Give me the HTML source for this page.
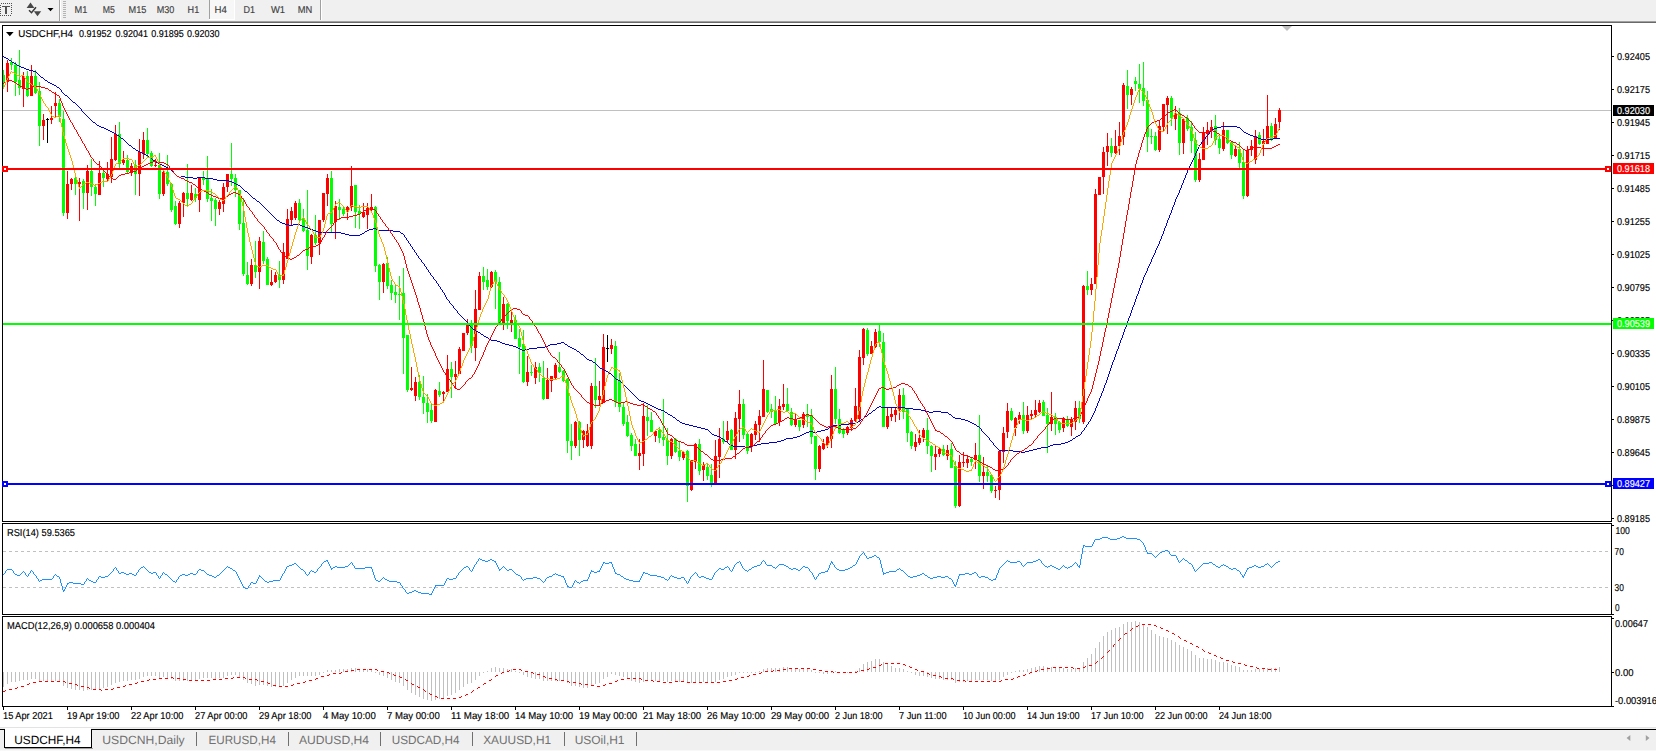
<!DOCTYPE html><html><head><meta charset="utf-8"><title>USDCHF,H4</title>
<style>html,body{margin:0;padding:0;background:#fff;overflow:hidden}svg{display:block}text{font-family:"Liberation Sans",sans-serif;text-rendering:geometricPrecision;}</style></head><body>
<svg width="1656" height="751" viewBox="0 0 1656 751">
<rect x="0" y="0" width="1656" height="751" fill="#ffffff"/>
<g id="toolbar" shape-rendering="crispEdges">
<rect x="0" y="0" width="1656" height="21" fill="#f0f0f0"/>
<rect x="0" y="21" width="1656" height="1" fill="#a0a0a0"/>
<rect x="0" y="22" width="1656" height="1" fill="#696969"/>
</g>
<g id="tb" shape-rendering="crispEdges">
<rect x="1" y="3" width="1" height="1" fill="#505050"/>
<rect x="3" y="3" width="1" height="1" fill="#505050"/>
<rect x="5" y="3" width="1" height="1" fill="#505050"/>
<rect x="7" y="3" width="1" height="1" fill="#505050"/>
<rect x="9" y="3" width="1" height="1" fill="#505050"/>
<rect x="11" y="3" width="1" height="1" fill="#505050"/>
<rect x="0" y="15" width="1" height="1" fill="#505050"/>
<rect x="2" y="15" width="1" height="1" fill="#505050"/>
<rect x="4" y="15" width="1" height="1" fill="#505050"/>
<rect x="6" y="15" width="1" height="1" fill="#505050"/>
<rect x="8" y="15" width="1" height="1" fill="#505050"/>
<rect x="10" y="15" width="1" height="1" fill="#505050"/>
<rect x="11" y="5" width="1" height="1" fill="#505050"/>
<rect x="0" y="5" width="1" height="1" fill="#505050"/>
<rect x="11" y="7" width="1" height="1" fill="#505050"/>
<rect x="0" y="7" width="1" height="1" fill="#505050"/>
<rect x="11" y="9" width="1" height="1" fill="#505050"/>
<rect x="0" y="9" width="1" height="1" fill="#505050"/>
<rect x="11" y="11" width="1" height="1" fill="#505050"/>
<rect x="0" y="11" width="1" height="1" fill="#505050"/>
<rect x="11" y="13" width="1" height="1" fill="#505050"/>
<rect x="0" y="13" width="1" height="1" fill="#505050"/>
<rect x="2" y="6" width="8" height="1" fill="#505050"/>
<rect x="5" y="6" width="2" height="8" fill="#505050"/>
<rect x="59" y="0" width="1" height="21" fill="#a0a0a0"/><rect x="60" y="0" width="1" height="21" fill="#ffffff"/>
<rect x="63" y="1" width="3" height="1" fill="#b4b4b4"/>
<rect x="63" y="3" width="3" height="1" fill="#b4b4b4"/>
<rect x="63" y="5" width="3" height="1" fill="#b4b4b4"/>
<rect x="63" y="7" width="3" height="1" fill="#b4b4b4"/>
<rect x="63" y="9" width="3" height="1" fill="#b4b4b4"/>
<rect x="63" y="11" width="3" height="1" fill="#b4b4b4"/>
<rect x="63" y="13" width="3" height="1" fill="#b4b4b4"/>
<rect x="63" y="15" width="3" height="1" fill="#b4b4b4"/>
<rect x="63" y="17" width="3" height="1" fill="#b4b4b4"/>
<rect x="320" y="0" width="1" height="20" fill="#a0a0a0"/><rect x="321" y="0" width="1" height="20" fill="#ffffff"/>
<rect x="209" y="0" width="26" height="20" fill="#f7f7f7"/>
<rect x="209" y="0" width="1" height="19" fill="#a0a0a0"/>
<rect x="209" y="19" width="26" height="1" fill="#ffffff"/><rect x="234" y="0" width="1" height="20" fill="#ffffff"/>
</g>
<path d="M30.5 2.6 L34.4 7.9 L26.6 7.9 Z" fill="#484848"/>
<path d="M33.8 11.2 L41.2 11.2 L37.5 16.2 Z" fill="#484848"/>
<path d="M29.0 10.2 L31.5 12.7 L36.0 7.2" fill="none" stroke="#383838" stroke-width="1.5"/>
<path d="M47.5 8 L53.5 8 L50.5 11.3 Z" fill="#000"/>
<text x="74.6" y="13" font-size="10" fill="#404040" stroke="#404040" stroke-width="0.15" textLength="12.8" lengthAdjust="spacingAndGlyphs">M1</text>
<text x="102.7" y="13" font-size="10" fill="#404040" stroke="#404040" stroke-width="0.15" textLength="12.1" lengthAdjust="spacingAndGlyphs">M5</text>
<text x="128.6" y="13" font-size="10" fill="#404040" stroke="#404040" stroke-width="0.15" textLength="17.8" lengthAdjust="spacingAndGlyphs">M15</text>
<text x="156.7" y="13" font-size="10" fill="#404040" stroke="#404040" stroke-width="0.15" textLength="17.6" lengthAdjust="spacingAndGlyphs">M30</text>
<text x="187.6" y="13" font-size="10" fill="#404040" stroke="#404040" stroke-width="0.15" textLength="11.6" lengthAdjust="spacingAndGlyphs">H1</text>
<text x="214.5" y="13" font-size="10" fill="#404040" stroke="#404040" stroke-width="0.15" textLength="12.3" lengthAdjust="spacingAndGlyphs">H4</text>
<text x="243.5" y="13" font-size="10" fill="#404040" stroke="#404040" stroke-width="0.15" textLength="11.5" lengthAdjust="spacingAndGlyphs">D1</text>
<text x="271" y="13" font-size="10" fill="#404040" stroke="#404040" stroke-width="0.15" textLength="14.1" lengthAdjust="spacingAndGlyphs">W1</text>
<text x="297.8" y="13" font-size="10" fill="#404040" stroke="#404040" stroke-width="0.15" textLength="14.5" lengthAdjust="spacingAndGlyphs">MN</text>
<g id="frame" shape-rendering="crispEdges" fill="#000">
<rect x="2" y="25" width="1610" height="1"/>
<rect x="2" y="25" width="1" height="682"/>
<rect x="1611" y="25" width="1" height="682"/>
<rect x="2" y="521" width="1610" height="1"/>
<rect x="2" y="523" width="1610" height="1"/>
<rect x="2" y="522" width="1610" height="1" fill="#fff"/>
<rect x="2" y="614" width="1610" height="1"/>
<rect x="2" y="616" width="1610" height="1"/>
<rect x="2" y="615" width="1610" height="1" fill="#fff"/>
<rect x="2" y="706" width="1612" height="1"/>
</g>
<g shape-rendering="crispEdges">
<rect x="3" y="110" width="1608" height="1" fill="#c0c0c0"/>
</g>
<g id="candles" shape-rendering="crispEdges">
<rect x="3" y="70" width="1" height="18" fill="#00ff00"/>
<rect x="3" y="75" width="2" height="7" fill="#00ff00"/>
<rect x="7" y="60" width="1" height="32" fill="#ff0000"/>
<rect x="6" y="63" width="3" height="19" fill="#ff0000"/>
<rect x="11" y="58" width="1" height="12" fill="#00ff00"/>
<rect x="10" y="62" width="3" height="3" fill="#00ff00"/>
<rect x="15" y="62" width="1" height="34" fill="#00ff00"/>
<rect x="14" y="65" width="3" height="17" fill="#00ff00"/>
<rect x="19" y="50" width="1" height="45" fill="#00ff00"/>
<rect x="18" y="80" width="3" height="8" fill="#00ff00"/>
<rect x="23" y="72" width="1" height="35" fill="#ff0000"/>
<rect x="22" y="76" width="3" height="13" fill="#ff0000"/>
<rect x="27" y="71" width="1" height="26" fill="#00ff00"/>
<rect x="26" y="76" width="3" height="20" fill="#00ff00"/>
<rect x="31" y="65" width="1" height="31" fill="#ff0000"/>
<rect x="30" y="76" width="3" height="20" fill="#ff0000"/>
<rect x="35" y="70" width="1" height="24" fill="#00ff00"/>
<rect x="34" y="76" width="3" height="17" fill="#00ff00"/>
<rect x="39" y="82" width="1" height="64" fill="#00ff00"/>
<rect x="38" y="91" width="3" height="35" fill="#00ff00"/>
<rect x="43" y="114" width="1" height="26" fill="#ff0000"/>
<rect x="42" y="120" width="3" height="6" fill="#ff0000"/>
<rect x="47" y="118" width="1" height="25" fill="#000000"/>
<rect x="46" y="119" width="3" height="1" fill="#000000"/>
<rect x="51" y="106" width="1" height="18" fill="#ff0000"/>
<rect x="50" y="118" width="3" height="2" fill="#ff0000"/>
<rect x="55" y="92" width="1" height="25" fill="#ff0000"/>
<rect x="54" y="103" width="3" height="3" fill="#ff0000"/>
<rect x="59" y="99" width="1" height="23" fill="#00ff00"/>
<rect x="58" y="103" width="3" height="14" fill="#00ff00"/>
<rect x="63" y="111" width="1" height="105" fill="#00ff00"/>
<rect x="62" y="119" width="3" height="94" fill="#00ff00"/>
<rect x="67" y="171" width="1" height="48" fill="#ff0000"/>
<rect x="66" y="184" width="3" height="29" fill="#ff0000"/>
<rect x="71" y="178" width="1" height="12" fill="#ff0000"/>
<rect x="70" y="179" width="3" height="5" fill="#ff0000"/>
<rect x="75" y="176" width="1" height="19" fill="#00ff00"/>
<rect x="74" y="178" width="3" height="6" fill="#00ff00"/>
<rect x="79" y="178" width="1" height="43" fill="#ff0000"/>
<rect x="78" y="182" width="3" height="2" fill="#ff0000"/>
<rect x="83" y="179" width="1" height="30" fill="#00ff00"/>
<rect x="82" y="181" width="3" height="12" fill="#00ff00"/>
<rect x="87" y="165" width="1" height="45" fill="#ff0000"/>
<rect x="86" y="171" width="3" height="22" fill="#ff0000"/>
<rect x="91" y="159" width="1" height="37" fill="#00ff00"/>
<rect x="90" y="171" width="3" height="16" fill="#00ff00"/>
<rect x="95" y="184" width="1" height="22" fill="#00ff00"/>
<rect x="94" y="187" width="3" height="7" fill="#00ff00"/>
<rect x="99" y="161" width="1" height="34" fill="#ff0000"/>
<rect x="98" y="173" width="3" height="22" fill="#ff0000"/>
<rect x="103" y="169" width="1" height="18" fill="#00ff00"/>
<rect x="102" y="173" width="3" height="5" fill="#00ff00"/>
<rect x="107" y="162" width="1" height="19" fill="#ff0000"/>
<rect x="106" y="174" width="3" height="5" fill="#ff0000"/>
<rect x="111" y="137" width="1" height="46" fill="#ff0000"/>
<rect x="110" y="159" width="3" height="18" fill="#ff0000"/>
<rect x="115" y="125" width="1" height="36" fill="#ff0000"/>
<rect x="114" y="134" width="3" height="26" fill="#ff0000"/>
<rect x="119" y="122" width="1" height="46" fill="#00ff00"/>
<rect x="118" y="134" width="3" height="30" fill="#00ff00"/>
<rect x="123" y="151" width="1" height="14" fill="#ff0000"/>
<rect x="122" y="160" width="3" height="3" fill="#ff0000"/>
<rect x="127" y="155" width="1" height="18" fill="#00ff00"/>
<rect x="126" y="160" width="3" height="12" fill="#00ff00"/>
<rect x="131" y="163" width="1" height="13" fill="#ff0000"/>
<rect x="130" y="166" width="3" height="6" fill="#ff0000"/>
<rect x="135" y="160" width="1" height="35" fill="#00ff00"/>
<rect x="134" y="165" width="3" height="9" fill="#00ff00"/>
<rect x="139" y="139" width="1" height="57" fill="#ff0000"/>
<rect x="138" y="152" width="3" height="22" fill="#ff0000"/>
<rect x="143" y="132" width="1" height="27" fill="#ff0000"/>
<rect x="142" y="140" width="3" height="14" fill="#ff0000"/>
<rect x="147" y="128" width="1" height="30" fill="#00ff00"/>
<rect x="146" y="140" width="3" height="14" fill="#00ff00"/>
<rect x="151" y="151" width="1" height="16" fill="#00ff00"/>
<rect x="150" y="153" width="3" height="13" fill="#00ff00"/>
<rect x="155" y="159" width="1" height="8" fill="#ff0000"/>
<rect x="154" y="165" width="3" height="1" fill="#ff0000"/>
<rect x="159" y="153" width="1" height="46" fill="#00ff00"/>
<rect x="158" y="165" width="3" height="29" fill="#00ff00"/>
<rect x="163" y="170" width="1" height="26" fill="#ff0000"/>
<rect x="162" y="172" width="3" height="22" fill="#ff0000"/>
<rect x="167" y="155" width="1" height="31" fill="#00ff00"/>
<rect x="166" y="172" width="3" height="12" fill="#00ff00"/>
<rect x="171" y="183" width="1" height="29" fill="#00ff00"/>
<rect x="170" y="184" width="3" height="26" fill="#00ff00"/>
<rect x="175" y="201" width="1" height="24" fill="#00ff00"/>
<rect x="174" y="206" width="3" height="18" fill="#00ff00"/>
<rect x="179" y="201" width="1" height="27" fill="#ff0000"/>
<rect x="178" y="203" width="3" height="21" fill="#ff0000"/>
<rect x="183" y="192" width="1" height="25" fill="#ff0000"/>
<rect x="182" y="193" width="3" height="10" fill="#ff0000"/>
<rect x="187" y="164" width="1" height="43" fill="#00ff00"/>
<rect x="186" y="193" width="3" height="6" fill="#00ff00"/>
<rect x="191" y="185" width="1" height="16" fill="#ff0000"/>
<rect x="190" y="193" width="3" height="7" fill="#ff0000"/>
<rect x="195" y="188" width="1" height="14" fill="#00ff00"/>
<rect x="194" y="194" width="3" height="4" fill="#00ff00"/>
<rect x="199" y="177" width="1" height="35" fill="#ff0000"/>
<rect x="198" y="178" width="3" height="22" fill="#ff0000"/>
<rect x="203" y="171" width="1" height="14" fill="#00ff00"/>
<rect x="202" y="178" width="3" height="2" fill="#00ff00"/>
<rect x="207" y="156" width="1" height="46" fill="#00ff00"/>
<rect x="206" y="178" width="3" height="21" fill="#00ff00"/>
<rect x="211" y="189" width="1" height="32" fill="#00ff00"/>
<rect x="210" y="198" width="3" height="3" fill="#00ff00"/>
<rect x="215" y="198" width="1" height="28" fill="#00ff00"/>
<rect x="214" y="200" width="3" height="9" fill="#00ff00"/>
<rect x="219" y="200" width="1" height="15" fill="#ff0000"/>
<rect x="218" y="202" width="3" height="7" fill="#ff0000"/>
<rect x="223" y="183" width="1" height="29" fill="#ff0000"/>
<rect x="222" y="187" width="3" height="17" fill="#ff0000"/>
<rect x="227" y="174" width="1" height="18" fill="#ff0000"/>
<rect x="226" y="174" width="3" height="13" fill="#ff0000"/>
<rect x="231" y="143" width="1" height="43" fill="#00ff00"/>
<rect x="230" y="174" width="3" height="5" fill="#00ff00"/>
<rect x="235" y="174" width="1" height="23" fill="#00ff00"/>
<rect x="234" y="178" width="3" height="12" fill="#00ff00"/>
<rect x="239" y="190" width="1" height="40" fill="#00ff00"/>
<rect x="238" y="190" width="3" height="34" fill="#00ff00"/>
<rect x="243" y="198" width="1" height="78" fill="#00ff00"/>
<rect x="242" y="223" width="3" height="51" fill="#00ff00"/>
<rect x="247" y="262" width="1" height="23" fill="#00ff00"/>
<rect x="246" y="275" width="3" height="9" fill="#00ff00"/>
<rect x="251" y="259" width="1" height="27" fill="#ff0000"/>
<rect x="250" y="265" width="3" height="19" fill="#ff0000"/>
<rect x="255" y="241" width="1" height="37" fill="#00ff00"/>
<rect x="254" y="265" width="3" height="7" fill="#00ff00"/>
<rect x="259" y="237" width="1" height="52" fill="#ff0000"/>
<rect x="258" y="241" width="3" height="31" fill="#ff0000"/>
<rect x="263" y="231" width="1" height="33" fill="#00ff00"/>
<rect x="262" y="242" width="3" height="19" fill="#00ff00"/>
<rect x="267" y="257" width="1" height="28" fill="#00ff00"/>
<rect x="266" y="259" width="3" height="26" fill="#00ff00"/>
<rect x="271" y="270" width="1" height="16" fill="#ff0000"/>
<rect x="270" y="282" width="3" height="3" fill="#ff0000"/>
<rect x="275" y="272" width="1" height="11" fill="#ff0000"/>
<rect x="274" y="275" width="3" height="7" fill="#ff0000"/>
<rect x="279" y="261" width="1" height="27" fill="#00ff00"/>
<rect x="278" y="275" width="3" height="5" fill="#00ff00"/>
<rect x="283" y="243" width="1" height="41" fill="#ff0000"/>
<rect x="282" y="252" width="3" height="28" fill="#ff0000"/>
<rect x="287" y="209" width="1" height="50" fill="#ff0000"/>
<rect x="286" y="219" width="3" height="40" fill="#ff0000"/>
<rect x="291" y="207" width="1" height="19" fill="#ff0000"/>
<rect x="290" y="211" width="3" height="9" fill="#ff0000"/>
<rect x="295" y="201" width="1" height="19" fill="#ff0000"/>
<rect x="294" y="203" width="3" height="15" fill="#ff0000"/>
<rect x="299" y="199" width="1" height="22" fill="#00ff00"/>
<rect x="298" y="203" width="3" height="17" fill="#00ff00"/>
<rect x="303" y="209" width="1" height="23" fill="#00ff00"/>
<rect x="302" y="218" width="3" height="13" fill="#00ff00"/>
<rect x="307" y="190" width="1" height="80" fill="#00ff00"/>
<rect x="306" y="230" width="3" height="26" fill="#00ff00"/>
<rect x="311" y="234" width="1" height="30" fill="#ff0000"/>
<rect x="310" y="235" width="3" height="22" fill="#ff0000"/>
<rect x="315" y="215" width="1" height="30" fill="#00ff00"/>
<rect x="314" y="235" width="3" height="8" fill="#00ff00"/>
<rect x="319" y="220" width="1" height="35" fill="#ff0000"/>
<rect x="318" y="220" width="3" height="23" fill="#ff0000"/>
<rect x="323" y="193" width="1" height="29" fill="#ff0000"/>
<rect x="322" y="193" width="3" height="27" fill="#ff0000"/>
<rect x="327" y="174" width="1" height="32" fill="#ff0000"/>
<rect x="326" y="178" width="3" height="16" fill="#ff0000"/>
<rect x="331" y="171" width="1" height="61" fill="#00ff00"/>
<rect x="330" y="178" width="3" height="46" fill="#00ff00"/>
<rect x="335" y="201" width="1" height="38" fill="#ff0000"/>
<rect x="334" y="206" width="3" height="16" fill="#ff0000"/>
<rect x="339" y="199" width="1" height="21" fill="#00ff00"/>
<rect x="338" y="207" width="3" height="3" fill="#00ff00"/>
<rect x="343" y="206" width="1" height="10" fill="#00ff00"/>
<rect x="342" y="209" width="3" height="5" fill="#00ff00"/>
<rect x="347" y="206" width="1" height="14" fill="#ff0000"/>
<rect x="346" y="207" width="3" height="3" fill="#ff0000"/>
<rect x="351" y="166" width="1" height="45" fill="#ff0000"/>
<rect x="350" y="186" width="3" height="21" fill="#ff0000"/>
<rect x="355" y="185" width="1" height="43" fill="#00ff00"/>
<rect x="354" y="185" width="3" height="27" fill="#00ff00"/>
<rect x="359" y="205" width="1" height="24" fill="#00ff00"/>
<rect x="358" y="211" width="3" height="3" fill="#00ff00"/>
<rect x="363" y="203" width="1" height="15" fill="#ff0000"/>
<rect x="362" y="212" width="3" height="5" fill="#ff0000"/>
<rect x="367" y="203" width="1" height="26" fill="#ff0000"/>
<rect x="366" y="208" width="3" height="7" fill="#ff0000"/>
<rect x="371" y="194" width="1" height="17" fill="#ff0000"/>
<rect x="370" y="207" width="3" height="3" fill="#ff0000"/>
<rect x="375" y="206" width="1" height="66" fill="#00ff00"/>
<rect x="374" y="207" width="3" height="59" fill="#00ff00"/>
<rect x="379" y="264" width="1" height="36" fill="#00ff00"/>
<rect x="378" y="265" width="3" height="17" fill="#00ff00"/>
<rect x="383" y="263" width="1" height="30" fill="#ff0000"/>
<rect x="382" y="264" width="3" height="18" fill="#ff0000"/>
<rect x="387" y="257" width="1" height="32" fill="#00ff00"/>
<rect x="386" y="263" width="3" height="23" fill="#00ff00"/>
<rect x="391" y="280" width="1" height="20" fill="#00ff00"/>
<rect x="390" y="285" width="3" height="8" fill="#00ff00"/>
<rect x="395" y="285" width="1" height="18" fill="#00ff00"/>
<rect x="394" y="292" width="3" height="3" fill="#00ff00"/>
<rect x="399" y="276" width="1" height="44" fill="#00ff00"/>
<rect x="398" y="294" width="3" height="1" fill="#00ff00"/>
<rect x="403" y="268" width="1" height="106" fill="#00ff00"/>
<rect x="402" y="293" width="3" height="45" fill="#00ff00"/>
<rect x="407" y="335" width="1" height="57" fill="#00ff00"/>
<rect x="406" y="335" width="3" height="55" fill="#00ff00"/>
<rect x="411" y="367" width="1" height="24" fill="#ff0000"/>
<rect x="410" y="388" width="3" height="2" fill="#ff0000"/>
<rect x="415" y="377" width="1" height="24" fill="#ff0000"/>
<rect x="414" y="382" width="3" height="14" fill="#ff0000"/>
<rect x="419" y="375" width="1" height="25" fill="#00ff00"/>
<rect x="418" y="382" width="3" height="15" fill="#00ff00"/>
<rect x="423" y="376" width="1" height="38" fill="#00ff00"/>
<rect x="422" y="397" width="3" height="6" fill="#00ff00"/>
<rect x="427" y="394" width="1" height="29" fill="#00ff00"/>
<rect x="426" y="403" width="3" height="9" fill="#00ff00"/>
<rect x="431" y="403" width="1" height="20" fill="#00ff00"/>
<rect x="430" y="410" width="3" height="11" fill="#00ff00"/>
<rect x="435" y="389" width="1" height="33" fill="#ff0000"/>
<rect x="434" y="390" width="3" height="32" fill="#ff0000"/>
<rect x="439" y="382" width="1" height="15" fill="#00ff00"/>
<rect x="438" y="391" width="3" height="4" fill="#00ff00"/>
<rect x="443" y="391" width="1" height="10" fill="#ff0000"/>
<rect x="442" y="392" width="3" height="2" fill="#ff0000"/>
<rect x="447" y="355" width="1" height="37" fill="#ff0000"/>
<rect x="446" y="369" width="3" height="23" fill="#ff0000"/>
<rect x="451" y="362" width="1" height="36" fill="#00ff00"/>
<rect x="450" y="369" width="3" height="8" fill="#00ff00"/>
<rect x="455" y="361" width="1" height="27" fill="#ff0000"/>
<rect x="454" y="374" width="3" height="3" fill="#ff0000"/>
<rect x="459" y="347" width="1" height="27" fill="#ff0000"/>
<rect x="458" y="349" width="3" height="25" fill="#ff0000"/>
<rect x="463" y="333" width="1" height="18" fill="#ff0000"/>
<rect x="462" y="333" width="3" height="18" fill="#ff0000"/>
<rect x="467" y="319" width="1" height="16" fill="#ff0000"/>
<rect x="466" y="324" width="3" height="9" fill="#ff0000"/>
<rect x="471" y="320" width="1" height="33" fill="#00ff00"/>
<rect x="470" y="323" width="3" height="23" fill="#00ff00"/>
<rect x="475" y="290" width="1" height="71" fill="#ff0000"/>
<rect x="474" y="309" width="3" height="39" fill="#ff0000"/>
<rect x="479" y="272" width="1" height="38" fill="#ff0000"/>
<rect x="478" y="276" width="3" height="34" fill="#ff0000"/>
<rect x="483" y="267" width="1" height="23" fill="#00ff00"/>
<rect x="482" y="276" width="3" height="6" fill="#00ff00"/>
<rect x="487" y="269" width="1" height="21" fill="#00ff00"/>
<rect x="486" y="280" width="3" height="7" fill="#00ff00"/>
<rect x="491" y="271" width="1" height="17" fill="#ff0000"/>
<rect x="490" y="272" width="3" height="15" fill="#ff0000"/>
<rect x="495" y="270" width="1" height="39" fill="#00ff00"/>
<rect x="494" y="272" width="3" height="10" fill="#00ff00"/>
<rect x="499" y="277" width="1" height="46" fill="#00ff00"/>
<rect x="498" y="282" width="3" height="41" fill="#00ff00"/>
<rect x="503" y="297" width="1" height="33" fill="#ff0000"/>
<rect x="502" y="304" width="3" height="19" fill="#ff0000"/>
<rect x="507" y="303" width="1" height="26" fill="#00ff00"/>
<rect x="506" y="304" width="3" height="17" fill="#00ff00"/>
<rect x="511" y="310" width="1" height="22" fill="#ff0000"/>
<rect x="510" y="320" width="3" height="3" fill="#ff0000"/>
<rect x="515" y="315" width="1" height="24" fill="#00ff00"/>
<rect x="514" y="320" width="3" height="19" fill="#00ff00"/>
<rect x="519" y="329" width="1" height="45" fill="#00ff00"/>
<rect x="518" y="338" width="3" height="9" fill="#00ff00"/>
<rect x="523" y="330" width="1" height="53" fill="#00ff00"/>
<rect x="522" y="344" width="3" height="38" fill="#00ff00"/>
<rect x="527" y="356" width="1" height="30" fill="#ff0000"/>
<rect x="526" y="372" width="3" height="10" fill="#ff0000"/>
<rect x="531" y="365" width="1" height="11" fill="#00ff00"/>
<rect x="530" y="372" width="3" height="1" fill="#00ff00"/>
<rect x="535" y="362" width="1" height="22" fill="#ff0000"/>
<rect x="534" y="367" width="3" height="11" fill="#ff0000"/>
<rect x="539" y="363" width="1" height="19" fill="#00ff00"/>
<rect x="538" y="367" width="3" height="6" fill="#00ff00"/>
<rect x="543" y="361" width="1" height="39" fill="#00ff00"/>
<rect x="542" y="378" width="3" height="21" fill="#00ff00"/>
<rect x="547" y="368" width="1" height="31" fill="#ff0000"/>
<rect x="546" y="380" width="3" height="19" fill="#ff0000"/>
<rect x="551" y="376" width="1" height="16" fill="#ff0000"/>
<rect x="550" y="376" width="3" height="5" fill="#ff0000"/>
<rect x="555" y="363" width="1" height="16" fill="#ff0000"/>
<rect x="554" y="365" width="3" height="13" fill="#ff0000"/>
<rect x="559" y="352" width="1" height="21" fill="#00ff00"/>
<rect x="558" y="367" width="3" height="5" fill="#00ff00"/>
<rect x="563" y="370" width="1" height="12" fill="#00ff00"/>
<rect x="562" y="371" width="3" height="10" fill="#00ff00"/>
<rect x="567" y="378" width="1" height="75" fill="#00ff00"/>
<rect x="566" y="379" width="3" height="62" fill="#00ff00"/>
<rect x="571" y="424" width="1" height="36" fill="#00ff00"/>
<rect x="570" y="441" width="3" height="5" fill="#00ff00"/>
<rect x="575" y="421" width="1" height="27" fill="#ff0000"/>
<rect x="574" y="422" width="3" height="24" fill="#ff0000"/>
<rect x="579" y="421" width="1" height="35" fill="#00ff00"/>
<rect x="578" y="422" width="3" height="18" fill="#00ff00"/>
<rect x="583" y="430" width="1" height="18" fill="#ff0000"/>
<rect x="582" y="431" width="3" height="9" fill="#ff0000"/>
<rect x="587" y="424" width="1" height="23" fill="#ff0000"/>
<rect x="586" y="431" width="3" height="15" fill="#ff0000"/>
<rect x="591" y="383" width="1" height="66" fill="#ff0000"/>
<rect x="590" y="386" width="3" height="60" fill="#ff0000"/>
<rect x="595" y="358" width="1" height="50" fill="#00ff00"/>
<rect x="594" y="386" width="3" height="14" fill="#00ff00"/>
<rect x="599" y="381" width="1" height="24" fill="#ff0000"/>
<rect x="598" y="396" width="3" height="4" fill="#ff0000"/>
<rect x="603" y="334" width="1" height="69" fill="#ff0000"/>
<rect x="602" y="347" width="3" height="56" fill="#ff0000"/>
<rect x="607" y="335" width="1" height="27" fill="#000000"/>
<rect x="606" y="348" width="3" height="1" fill="#000000"/>
<rect x="611" y="339" width="1" height="15" fill="#ff0000"/>
<rect x="610" y="345" width="3" height="4" fill="#ff0000"/>
<rect x="615" y="341" width="1" height="66" fill="#00ff00"/>
<rect x="614" y="346" width="3" height="56" fill="#00ff00"/>
<rect x="619" y="373" width="1" height="39" fill="#00ff00"/>
<rect x="618" y="380" width="3" height="27" fill="#00ff00"/>
<rect x="623" y="402" width="1" height="24" fill="#00ff00"/>
<rect x="622" y="407" width="3" height="17" fill="#00ff00"/>
<rect x="627" y="415" width="1" height="22" fill="#00ff00"/>
<rect x="626" y="422" width="3" height="14" fill="#00ff00"/>
<rect x="631" y="433" width="1" height="18" fill="#00ff00"/>
<rect x="630" y="435" width="3" height="11" fill="#00ff00"/>
<rect x="635" y="439" width="1" height="17" fill="#00ff00"/>
<rect x="634" y="444" width="3" height="12" fill="#00ff00"/>
<rect x="639" y="439" width="1" height="31" fill="#ff0000"/>
<rect x="638" y="453" width="3" height="3" fill="#ff0000"/>
<rect x="643" y="403" width="1" height="63" fill="#ff0000"/>
<rect x="642" y="416" width="3" height="38" fill="#ff0000"/>
<rect x="647" y="405" width="1" height="31" fill="#00ff00"/>
<rect x="646" y="417" width="3" height="4" fill="#00ff00"/>
<rect x="651" y="412" width="1" height="20" fill="#00ff00"/>
<rect x="650" y="420" width="3" height="12" fill="#00ff00"/>
<rect x="655" y="430" width="1" height="12" fill="#ff0000"/>
<rect x="654" y="431" width="3" height="5" fill="#ff0000"/>
<rect x="659" y="427" width="1" height="16" fill="#00ff00"/>
<rect x="658" y="430" width="3" height="8" fill="#00ff00"/>
<rect x="663" y="399" width="1" height="47" fill="#00ff00"/>
<rect x="662" y="437" width="3" height="3" fill="#00ff00"/>
<rect x="667" y="428" width="1" height="37" fill="#00ff00"/>
<rect x="666" y="440" width="3" height="16" fill="#00ff00"/>
<rect x="671" y="438" width="1" height="21" fill="#ff0000"/>
<rect x="670" y="439" width="3" height="17" fill="#ff0000"/>
<rect x="675" y="438" width="1" height="15" fill="#00ff00"/>
<rect x="674" y="439" width="3" height="13" fill="#00ff00"/>
<rect x="679" y="442" width="1" height="19" fill="#00ff00"/>
<rect x="678" y="451" width="3" height="6" fill="#00ff00"/>
<rect x="683" y="451" width="1" height="9" fill="#ff0000"/>
<rect x="682" y="452" width="3" height="6" fill="#ff0000"/>
<rect x="687" y="450" width="1" height="52" fill="#00ff00"/>
<rect x="686" y="451" width="3" height="35" fill="#00ff00"/>
<rect x="691" y="460" width="1" height="31" fill="#ff0000"/>
<rect x="690" y="460" width="3" height="30" fill="#ff0000"/>
<rect x="695" y="443" width="1" height="26" fill="#ff0000"/>
<rect x="694" y="444" width="3" height="18" fill="#ff0000"/>
<rect x="699" y="439" width="1" height="36" fill="#00ff00"/>
<rect x="698" y="444" width="3" height="27" fill="#00ff00"/>
<rect x="703" y="462" width="1" height="19" fill="#ff0000"/>
<rect x="702" y="465" width="3" height="5" fill="#ff0000"/>
<rect x="707" y="464" width="1" height="16" fill="#00ff00"/>
<rect x="706" y="467" width="3" height="9" fill="#00ff00"/>
<rect x="711" y="464" width="1" height="23" fill="#00ff00"/>
<rect x="710" y="475" width="3" height="9" fill="#00ff00"/>
<rect x="715" y="440" width="1" height="44" fill="#ff0000"/>
<rect x="714" y="456" width="3" height="28" fill="#ff0000"/>
<rect x="719" y="428" width="1" height="50" fill="#ff0000"/>
<rect x="718" y="439" width="3" height="18" fill="#ff0000"/>
<rect x="723" y="421" width="1" height="23" fill="#00ff00"/>
<rect x="722" y="439" width="3" height="3" fill="#00ff00"/>
<rect x="727" y="421" width="1" height="21" fill="#ff0000"/>
<rect x="726" y="431" width="3" height="9" fill="#ff0000"/>
<rect x="731" y="429" width="1" height="21" fill="#00ff00"/>
<rect x="730" y="430" width="3" height="20" fill="#00ff00"/>
<rect x="735" y="412" width="1" height="47" fill="#ff0000"/>
<rect x="734" y="418" width="3" height="32" fill="#ff0000"/>
<rect x="739" y="390" width="1" height="52" fill="#ff0000"/>
<rect x="738" y="404" width="3" height="15" fill="#ff0000"/>
<rect x="743" y="399" width="1" height="40" fill="#00ff00"/>
<rect x="742" y="404" width="3" height="31" fill="#00ff00"/>
<rect x="747" y="433" width="1" height="21" fill="#00ff00"/>
<rect x="746" y="434" width="3" height="17" fill="#00ff00"/>
<rect x="751" y="433" width="1" height="19" fill="#ff0000"/>
<rect x="750" y="434" width="3" height="12" fill="#ff0000"/>
<rect x="755" y="421" width="1" height="19" fill="#ff0000"/>
<rect x="754" y="424" width="3" height="11" fill="#ff0000"/>
<rect x="759" y="410" width="1" height="32" fill="#ff0000"/>
<rect x="758" y="416" width="3" height="9" fill="#ff0000"/>
<rect x="763" y="360" width="1" height="57" fill="#ff0000"/>
<rect x="762" y="389" width="3" height="28" fill="#ff0000"/>
<rect x="767" y="390" width="1" height="23" fill="#00ff00"/>
<rect x="766" y="390" width="3" height="22" fill="#00ff00"/>
<rect x="771" y="404" width="1" height="14" fill="#00ff00"/>
<rect x="770" y="409" width="3" height="3" fill="#00ff00"/>
<rect x="775" y="396" width="1" height="28" fill="#00ff00"/>
<rect x="774" y="411" width="3" height="13" fill="#00ff00"/>
<rect x="779" y="399" width="1" height="27" fill="#ff0000"/>
<rect x="778" y="406" width="3" height="16" fill="#ff0000"/>
<rect x="783" y="384" width="1" height="26" fill="#ff0000"/>
<rect x="782" y="404" width="3" height="3" fill="#ff0000"/>
<rect x="787" y="388" width="1" height="24" fill="#00ff00"/>
<rect x="786" y="404" width="3" height="7" fill="#00ff00"/>
<rect x="791" y="408" width="1" height="18" fill="#00ff00"/>
<rect x="790" y="412" width="3" height="13" fill="#00ff00"/>
<rect x="795" y="414" width="1" height="13" fill="#ff0000"/>
<rect x="794" y="420" width="3" height="5" fill="#ff0000"/>
<rect x="799" y="420" width="1" height="11" fill="#00ff00"/>
<rect x="798" y="420" width="3" height="7" fill="#00ff00"/>
<rect x="803" y="412" width="1" height="16" fill="#ff0000"/>
<rect x="802" y="414" width="3" height="11" fill="#ff0000"/>
<rect x="807" y="404" width="1" height="23" fill="#00ff00"/>
<rect x="806" y="414" width="3" height="3" fill="#00ff00"/>
<rect x="811" y="409" width="1" height="35" fill="#00ff00"/>
<rect x="810" y="415" width="3" height="22" fill="#00ff00"/>
<rect x="815" y="436" width="1" height="44" fill="#00ff00"/>
<rect x="814" y="436" width="3" height="33" fill="#00ff00"/>
<rect x="819" y="445" width="1" height="27" fill="#ff0000"/>
<rect x="818" y="446" width="3" height="23" fill="#ff0000"/>
<rect x="823" y="439" width="1" height="11" fill="#ff0000"/>
<rect x="822" y="443" width="3" height="6" fill="#ff0000"/>
<rect x="827" y="436" width="1" height="12" fill="#ff0000"/>
<rect x="826" y="437" width="3" height="8" fill="#ff0000"/>
<rect x="831" y="375" width="1" height="73" fill="#ff0000"/>
<rect x="830" y="389" width="3" height="50" fill="#ff0000"/>
<rect x="835" y="367" width="1" height="57" fill="#00ff00"/>
<rect x="834" y="389" width="3" height="30" fill="#00ff00"/>
<rect x="839" y="409" width="1" height="25" fill="#00ff00"/>
<rect x="838" y="419" width="3" height="14" fill="#00ff00"/>
<rect x="843" y="428" width="1" height="10" fill="#00ff00"/>
<rect x="842" y="429" width="3" height="5" fill="#00ff00"/>
<rect x="847" y="426" width="1" height="9" fill="#ff0000"/>
<rect x="846" y="427" width="3" height="6" fill="#ff0000"/>
<rect x="851" y="418" width="1" height="13" fill="#ff0000"/>
<rect x="850" y="420" width="3" height="8" fill="#ff0000"/>
<rect x="855" y="388" width="1" height="34" fill="#ff0000"/>
<rect x="854" y="406" width="3" height="15" fill="#ff0000"/>
<rect x="859" y="350" width="1" height="72" fill="#ff0000"/>
<rect x="858" y="357" width="3" height="62" fill="#ff0000"/>
<rect x="863" y="328" width="1" height="37" fill="#ff0000"/>
<rect x="862" y="329" width="3" height="29" fill="#ff0000"/>
<rect x="867" y="328" width="1" height="28" fill="#00ff00"/>
<rect x="866" y="330" width="3" height="24" fill="#00ff00"/>
<rect x="871" y="341" width="1" height="13" fill="#ff0000"/>
<rect x="870" y="346" width="3" height="8" fill="#ff0000"/>
<rect x="875" y="329" width="1" height="19" fill="#ff0000"/>
<rect x="874" y="332" width="3" height="15" fill="#ff0000"/>
<rect x="879" y="324" width="1" height="23" fill="#00ff00"/>
<rect x="878" y="331" width="3" height="11" fill="#00ff00"/>
<rect x="883" y="333" width="1" height="94" fill="#00ff00"/>
<rect x="882" y="342" width="3" height="85" fill="#00ff00"/>
<rect x="887" y="408" width="1" height="21" fill="#ff0000"/>
<rect x="886" y="416" width="3" height="11" fill="#ff0000"/>
<rect x="891" y="408" width="1" height="13" fill="#ff0000"/>
<rect x="890" y="414" width="3" height="3" fill="#ff0000"/>
<rect x="895" y="408" width="1" height="14" fill="#ff0000"/>
<rect x="894" y="410" width="3" height="5" fill="#ff0000"/>
<rect x="899" y="389" width="1" height="31" fill="#ff0000"/>
<rect x="898" y="395" width="3" height="15" fill="#ff0000"/>
<rect x="903" y="388" width="1" height="31" fill="#00ff00"/>
<rect x="902" y="395" width="3" height="17" fill="#00ff00"/>
<rect x="907" y="408" width="1" height="34" fill="#00ff00"/>
<rect x="906" y="408" width="3" height="25" fill="#00ff00"/>
<rect x="911" y="431" width="1" height="18" fill="#00ff00"/>
<rect x="910" y="432" width="3" height="14" fill="#00ff00"/>
<rect x="915" y="434" width="1" height="17" fill="#ff0000"/>
<rect x="914" y="442" width="3" height="5" fill="#ff0000"/>
<rect x="919" y="430" width="1" height="15" fill="#ff0000"/>
<rect x="918" y="438" width="3" height="5" fill="#ff0000"/>
<rect x="923" y="428" width="1" height="14" fill="#ff0000"/>
<rect x="922" y="430" width="3" height="8" fill="#ff0000"/>
<rect x="927" y="418" width="1" height="36" fill="#00ff00"/>
<rect x="926" y="430" width="3" height="16" fill="#00ff00"/>
<rect x="931" y="445" width="1" height="27" fill="#00ff00"/>
<rect x="930" y="446" width="3" height="10" fill="#00ff00"/>
<rect x="935" y="446" width="1" height="24" fill="#ff0000"/>
<rect x="934" y="454" width="3" height="3" fill="#ff0000"/>
<rect x="939" y="447" width="1" height="10" fill="#ff0000"/>
<rect x="938" y="449" width="3" height="5" fill="#ff0000"/>
<rect x="943" y="445" width="1" height="11" fill="#00ff00"/>
<rect x="942" y="449" width="3" height="6" fill="#00ff00"/>
<rect x="947" y="445" width="1" height="15" fill="#ff0000"/>
<rect x="946" y="450" width="3" height="6" fill="#ff0000"/>
<rect x="951" y="443" width="1" height="25" fill="#00ff00"/>
<rect x="950" y="449" width="3" height="19" fill="#00ff00"/>
<rect x="955" y="461" width="1" height="47" fill="#00ff00"/>
<rect x="954" y="466" width="3" height="40" fill="#00ff00"/>
<rect x="959" y="455" width="1" height="52" fill="#ff0000"/>
<rect x="958" y="462" width="3" height="44" fill="#ff0000"/>
<rect x="963" y="452" width="1" height="15" fill="#ff0000"/>
<rect x="962" y="462" width="3" height="1" fill="#ff0000"/>
<rect x="967" y="455" width="1" height="13" fill="#ff0000"/>
<rect x="966" y="459" width="3" height="4" fill="#ff0000"/>
<rect x="971" y="457" width="1" height="9" fill="#00ff00"/>
<rect x="970" y="459" width="3" height="3" fill="#00ff00"/>
<rect x="975" y="443" width="1" height="26" fill="#ff0000"/>
<rect x="974" y="455" width="3" height="5" fill="#ff0000"/>
<rect x="979" y="415" width="1" height="67" fill="#00ff00"/>
<rect x="978" y="455" width="3" height="21" fill="#00ff00"/>
<rect x="983" y="457" width="1" height="32" fill="#ff0000"/>
<rect x="982" y="472" width="3" height="4" fill="#ff0000"/>
<rect x="987" y="466" width="1" height="16" fill="#00ff00"/>
<rect x="986" y="472" width="3" height="4" fill="#00ff00"/>
<rect x="991" y="474" width="1" height="19" fill="#00ff00"/>
<rect x="990" y="475" width="3" height="16" fill="#00ff00"/>
<rect x="995" y="486" width="1" height="12" fill="#ff0000"/>
<rect x="994" y="490" width="3" height="1" fill="#ff0000"/>
<rect x="999" y="450" width="1" height="50" fill="#ff0000"/>
<rect x="998" y="451" width="3" height="39" fill="#ff0000"/>
<rect x="1003" y="427" width="1" height="36" fill="#ff0000"/>
<rect x="1002" y="433" width="3" height="19" fill="#ff0000"/>
<rect x="1007" y="403" width="1" height="35" fill="#ff0000"/>
<rect x="1006" y="411" width="3" height="21" fill="#ff0000"/>
<rect x="1011" y="408" width="1" height="13" fill="#00ff00"/>
<rect x="1010" y="411" width="3" height="9" fill="#00ff00"/>
<rect x="1015" y="417" width="1" height="19" fill="#ff0000"/>
<rect x="1014" y="418" width="3" height="10" fill="#ff0000"/>
<rect x="1019" y="412" width="1" height="12" fill="#ff0000"/>
<rect x="1018" y="415" width="3" height="5" fill="#ff0000"/>
<rect x="1023" y="402" width="1" height="32" fill="#00ff00"/>
<rect x="1022" y="415" width="3" height="16" fill="#00ff00"/>
<rect x="1027" y="406" width="1" height="27" fill="#ff0000"/>
<rect x="1026" y="415" width="3" height="16" fill="#ff0000"/>
<rect x="1031" y="410" width="1" height="10" fill="#ff0000"/>
<rect x="1030" y="414" width="3" height="2" fill="#ff0000"/>
<rect x="1035" y="400" width="1" height="18" fill="#ff0000"/>
<rect x="1034" y="410" width="3" height="5" fill="#ff0000"/>
<rect x="1039" y="400" width="1" height="13" fill="#ff0000"/>
<rect x="1038" y="403" width="3" height="9" fill="#ff0000"/>
<rect x="1043" y="400" width="1" height="16" fill="#00ff00"/>
<rect x="1042" y="402" width="3" height="14" fill="#00ff00"/>
<rect x="1047" y="408" width="1" height="45" fill="#00ff00"/>
<rect x="1046" y="415" width="3" height="9" fill="#00ff00"/>
<rect x="1051" y="392" width="1" height="39" fill="#ff0000"/>
<rect x="1050" y="417" width="3" height="7" fill="#ff0000"/>
<rect x="1055" y="413" width="1" height="22" fill="#00ff00"/>
<rect x="1054" y="417" width="3" height="7" fill="#00ff00"/>
<rect x="1059" y="421" width="1" height="12" fill="#00ff00"/>
<rect x="1058" y="422" width="3" height="8" fill="#00ff00"/>
<rect x="1063" y="417" width="1" height="15" fill="#ff0000"/>
<rect x="1062" y="418" width="3" height="10" fill="#ff0000"/>
<rect x="1067" y="416" width="1" height="11" fill="#00ff00"/>
<rect x="1066" y="419" width="3" height="7" fill="#00ff00"/>
<rect x="1071" y="417" width="1" height="19" fill="#ff0000"/>
<rect x="1070" y="419" width="3" height="8" fill="#ff0000"/>
<rect x="1075" y="401" width="1" height="29" fill="#ff0000"/>
<rect x="1074" y="408" width="3" height="14" fill="#ff0000"/>
<rect x="1079" y="401" width="1" height="22" fill="#00ff00"/>
<rect x="1078" y="408" width="3" height="11" fill="#00ff00"/>
<rect x="1083" y="285" width="1" height="139" fill="#ff0000"/>
<rect x="1082" y="286" width="3" height="136" fill="#ff0000"/>
<rect x="1087" y="271" width="1" height="24" fill="#00ff00"/>
<rect x="1086" y="286" width="3" height="4" fill="#00ff00"/>
<rect x="1091" y="278" width="1" height="17" fill="#ff0000"/>
<rect x="1090" y="284" width="3" height="6" fill="#ff0000"/>
<rect x="1095" y="189" width="1" height="95" fill="#ff0000"/>
<rect x="1094" y="194" width="3" height="90" fill="#ff0000"/>
<rect x="1099" y="177" width="1" height="18" fill="#ff0000"/>
<rect x="1098" y="177" width="3" height="18" fill="#ff0000"/>
<rect x="1103" y="147" width="1" height="47" fill="#ff0000"/>
<rect x="1102" y="152" width="3" height="25" fill="#ff0000"/>
<rect x="1107" y="133" width="1" height="33" fill="#ff0000"/>
<rect x="1106" y="146" width="3" height="6" fill="#ff0000"/>
<rect x="1111" y="138" width="1" height="19" fill="#00ff00"/>
<rect x="1110" y="146" width="3" height="7" fill="#00ff00"/>
<rect x="1115" y="130" width="1" height="24" fill="#ff0000"/>
<rect x="1114" y="146" width="3" height="7" fill="#ff0000"/>
<rect x="1119" y="122" width="1" height="33" fill="#ff0000"/>
<rect x="1118" y="136" width="3" height="10" fill="#ff0000"/>
<rect x="1123" y="83" width="1" height="62" fill="#ff0000"/>
<rect x="1122" y="85" width="3" height="52" fill="#ff0000"/>
<rect x="1127" y="70" width="1" height="39" fill="#00ff00"/>
<rect x="1126" y="86" width="3" height="9" fill="#00ff00"/>
<rect x="1131" y="87" width="1" height="18" fill="#ff0000"/>
<rect x="1130" y="89" width="3" height="6" fill="#ff0000"/>
<rect x="1135" y="77" width="1" height="14" fill="#00ff00"/>
<rect x="1134" y="81" width="3" height="3" fill="#00ff00"/>
<rect x="1139" y="64" width="1" height="39" fill="#00ff00"/>
<rect x="1138" y="84" width="3" height="5" fill="#00ff00"/>
<rect x="1143" y="62" width="1" height="44" fill="#00ff00"/>
<rect x="1142" y="88" width="3" height="13" fill="#00ff00"/>
<rect x="1147" y="91" width="1" height="61" fill="#00ff00"/>
<rect x="1146" y="100" width="3" height="37" fill="#00ff00"/>
<rect x="1151" y="129" width="1" height="15" fill="#00ff00"/>
<rect x="1150" y="136" width="3" height="1" fill="#00ff00"/>
<rect x="1155" y="132" width="1" height="19" fill="#00ff00"/>
<rect x="1154" y="136" width="3" height="14" fill="#00ff00"/>
<rect x="1159" y="121" width="1" height="31" fill="#ff0000"/>
<rect x="1158" y="126" width="3" height="24" fill="#ff0000"/>
<rect x="1163" y="104" width="1" height="28" fill="#ff0000"/>
<rect x="1162" y="104" width="3" height="23" fill="#ff0000"/>
<rect x="1167" y="96" width="1" height="38" fill="#ff0000"/>
<rect x="1166" y="98" width="3" height="7" fill="#ff0000"/>
<rect x="1171" y="96" width="1" height="30" fill="#00ff00"/>
<rect x="1170" y="98" width="3" height="20" fill="#00ff00"/>
<rect x="1175" y="106" width="1" height="24" fill="#ff0000"/>
<rect x="1174" y="114" width="3" height="5" fill="#ff0000"/>
<rect x="1179" y="108" width="1" height="47" fill="#00ff00"/>
<rect x="1178" y="113" width="3" height="30" fill="#00ff00"/>
<rect x="1183" y="118" width="1" height="36" fill="#ff0000"/>
<rect x="1182" y="119" width="3" height="24" fill="#ff0000"/>
<rect x="1187" y="115" width="1" height="16" fill="#00ff00"/>
<rect x="1186" y="118" width="3" height="11" fill="#00ff00"/>
<rect x="1191" y="121" width="1" height="32" fill="#00ff00"/>
<rect x="1190" y="127" width="3" height="14" fill="#00ff00"/>
<rect x="1195" y="132" width="1" height="50" fill="#00ff00"/>
<rect x="1194" y="140" width="3" height="40" fill="#00ff00"/>
<rect x="1199" y="153" width="1" height="29" fill="#ff0000"/>
<rect x="1198" y="159" width="3" height="21" fill="#ff0000"/>
<rect x="1203" y="127" width="1" height="33" fill="#ff0000"/>
<rect x="1202" y="132" width="3" height="28" fill="#ff0000"/>
<rect x="1207" y="122" width="1" height="23" fill="#ff0000"/>
<rect x="1206" y="130" width="3" height="4" fill="#ff0000"/>
<rect x="1211" y="120" width="1" height="18" fill="#ff0000"/>
<rect x="1210" y="127" width="3" height="4" fill="#ff0000"/>
<rect x="1215" y="115" width="1" height="30" fill="#00ff00"/>
<rect x="1214" y="126" width="3" height="14" fill="#00ff00"/>
<rect x="1219" y="134" width="1" height="20" fill="#00ff00"/>
<rect x="1218" y="139" width="3" height="9" fill="#00ff00"/>
<rect x="1223" y="122" width="1" height="29" fill="#ff0000"/>
<rect x="1222" y="130" width="3" height="19" fill="#ff0000"/>
<rect x="1227" y="130" width="1" height="14" fill="#00ff00"/>
<rect x="1226" y="130" width="3" height="13" fill="#00ff00"/>
<rect x="1231" y="141" width="1" height="18" fill="#00ff00"/>
<rect x="1230" y="142" width="3" height="13" fill="#00ff00"/>
<rect x="1235" y="146" width="1" height="11" fill="#ff0000"/>
<rect x="1234" y="149" width="3" height="7" fill="#ff0000"/>
<rect x="1239" y="142" width="1" height="26" fill="#00ff00"/>
<rect x="1238" y="149" width="3" height="14" fill="#00ff00"/>
<rect x="1243" y="149" width="1" height="50" fill="#00ff00"/>
<rect x="1242" y="162" width="3" height="34" fill="#00ff00"/>
<rect x="1247" y="146" width="1" height="51" fill="#ff0000"/>
<rect x="1246" y="150" width="3" height="46" fill="#ff0000"/>
<rect x="1251" y="140" width="1" height="16" fill="#ff0000"/>
<rect x="1250" y="146" width="3" height="4" fill="#ff0000"/>
<rect x="1255" y="130" width="1" height="34" fill="#ff0000"/>
<rect x="1254" y="136" width="3" height="24" fill="#ff0000"/>
<rect x="1259" y="132" width="1" height="13" fill="#00ff00"/>
<rect x="1258" y="135" width="3" height="9" fill="#00ff00"/>
<rect x="1263" y="129" width="1" height="27" fill="#ff0000"/>
<rect x="1262" y="141" width="3" height="3" fill="#ff0000"/>
<rect x="1267" y="95" width="1" height="49" fill="#ff0000"/>
<rect x="1266" y="126" width="3" height="18" fill="#ff0000"/>
<rect x="1271" y="123" width="1" height="18" fill="#00ff00"/>
<rect x="1270" y="126" width="3" height="14" fill="#00ff00"/>
<rect x="1275" y="118" width="1" height="21" fill="#ff0000"/>
<rect x="1274" y="124" width="3" height="14" fill="#ff0000"/>
<rect x="1279" y="108" width="1" height="22" fill="#ff0000"/>
<rect x="1278" y="110" width="3" height="12" fill="#ff0000"/>
</g>
<g id="mas" shape-rendering="crispEdges">
<path d="M99 126h2v1h-2zM1221 126h16v1h-16zM518 348h2v1h-2zM529 348h8v1h-8zM572 348h2v1h-2zM858 421h2v1h-2zM968 421h2v1h-2zM689 425h4v1h-4zM833 425h8v1h-8zM481 334h2v1h-2zM313 230h3v1h-3zM367 230h2v1h-2zM378 230h15v1h-15zM665 412h2v1h-2zM929 412h4v1h-4zM941 412h7v1h-7zM302 226h3v1h-3zM345 234h4v1h-4zM360 234h2v1h-2zM505 344h4v1h-4zM550 344h7v1h-7zM565 344h2v1h-2zM138 151h2v1h-2zM310 229h3v1h-3zM369 229h4v1h-4zM376 229h2v1h-2zM162 165h2v1h-2zM656 408h2v1h-2zM905 408h8v1h-8zM318 232h23v1h-23zM491 340h6v1h-6zM658 409h3v1h-3zM913 409h8v1h-8zM685 424h4v1h-4zM841 424h8v1h-8zM974 424h2v1h-2zM117 135h2v1h-2zM1250 135h3v1h-3zM648 404h2v1h-2zM761 443h8v1h-8zM1061 443h4v1h-4zM806 432h3v1h-3zM813 432h4v1h-4zM193 178h4v1h-4zM205 178h8v1h-8zM600 368h2v1h-2zM41 77h2v1h-2zM129 145h2v1h-2zM769 442h8v1h-8zM1065 442h3v1h-3zM110 131h2v1h-2zM101 127h3v1h-3zM1217 127h4v1h-4zM1237 127h3v1h-3zM280 222h2v1h-2zM714 435h3v1h-3zM800 435h2v1h-2zM1078 435h2v1h-2zM484 336h2v1h-2zM654 407h2v1h-2zM877 407h2v1h-2zM881 407h24v1h-24zM701 428h4v1h-4zM179 177h2v1h-2zM185 177h8v1h-8zM197 177h8v1h-8zM516 347h2v1h-2zM537 347h8v1h-8zM570 347h2v1h-2zM285 224h4v1h-4zM293 224h7v1h-7zM236 184h2v1h-2zM729 444h2v1h-2zM757 444h4v1h-4zM1053 444h8v1h-8zM925 411h4v1h-4zM933 411h8v1h-8zM821 430h4v1h-4zM229 181h3v1h-3zM650 405h2v1h-2zM784 439h2v1h-2zM1253 136h3v1h-3zM112 132h2v1h-2zM1244 132h2v1h-2zM104 128h2v1h-2zM1214 128h3v1h-3zM57 87h2v1h-2zM725 441h2v1h-2zM777 441h4v1h-4zM1068 441h2v1h-2zM673 417h2v1h-2zM953 417h2v1h-2zM29 70h4v1h-4zM717 436h3v1h-3zM797 436h3v1h-3zM1076 436h2v1h-2zM500 342h2v1h-2zM561 342h3v1h-3zM999 450h14v1h-14zM1029 450h4v1h-4zM680 422h2v1h-2zM856 422h2v1h-2zM970 422h2v1h-2zM232 182h2v1h-2zM1261 139h12v1h-12zM144 154h2v1h-2zM349 235h11v1h-11zM33 71h3v1h-3zM52 84h2v1h-2zM45 80h2v1h-2zM1033 449h4v1h-4zM245 191h2v1h-2zM509 345h4v1h-4zM548 345h2v1h-2zM257 201h2v1h-2zM1021 452h4v1h-4zM668 414h2v1h-2zM949 414h2v1h-2zM661 410h3v1h-3zM873 410h2v1h-2zM921 410h4v1h-4zM217 180h12v1h-12zM646 403h2v1h-2zM473 329h2v1h-2zM1256 137h2v1h-2zM639 400h2v1h-2zM721 438h2v1h-2zM786 438h7v1h-7zM1073 438h2v1h-2zM169 169h2v1h-2zM697 427h4v1h-4zM829 427h2v1h-2zM522 350h3v1h-3zM693 426h4v1h-4zM831 426h2v1h-2zM977 426h2v1h-2zM502 343h3v1h-3zM557 343h4v1h-4zM513 346h3v1h-3zM545 346h3v1h-3zM568 346h2v1h-2zM616 379h2v1h-2zM1013 451h8v1h-8zM1025 451h4v1h-4zM121 138h2v1h-2zM1258 138h3v1h-3zM1273 138h7v1h-7zM587 359h2v1h-2zM1037 448h4v1h-4zM809 431h4v1h-4zM817 431h4v1h-4zM26 69h3v1h-3zM238 185h2v1h-2zM213 179h4v1h-4zM497 341h3v1h-3zM745 447h4v1h-4zM1041 447h7v1h-7zM142 153h2v1h-2zM153 160h2v1h-2zM136 150h2v1h-2zM50 83h2v1h-2zM793 437h4v1h-4zM177 176h2v1h-2zM181 176h4v1h-4zM316 231h2v1h-2zM365 231h2v1h-2zM393 231h7v1h-7zM652 406h2v1h-2zM879 406h2v1h-2zM781 440h3v1h-3zM1070 440h2v1h-2zM733 446h12v1h-12zM749 446h4v1h-4zM1048 446h2v1h-2zM644 402h2v1h-2zM156 162h2v1h-2zM97 125h2v1h-2zM804 433h2v1h-2zM577 351h2v1h-2zM1248 134h2v1h-2zM677 420h2v1h-2zM965 420h3v1h-3zM712 434h2v1h-2zM802 434h2v1h-2zM24 68h2v1h-2zM93 122h2v1h-2zM234 183h2v1h-2zM581 354h2v1h-2zM65 95h2v1h-2zM54 85h2v1h-2zM48 82h2v1h-2zM308 228h2v1h-2zM373 228h3v1h-3zM140 152h2v1h-2zM618 380h2v1h-2zM641 401h3v1h-3zM865 416h2v1h-2zM486 337h2v1h-2zM869 413h2v1h-2zM861 419h2v1h-2zM961 419h4v1h-4zM21 67h3v1h-3zM341 233h4v1h-4zM362 233h2v1h-2zM401 233h2v1h-2zM108 130h2v1h-2zM670 415h2v1h-2zM106 129h2v1h-2zM1212 129h2v1h-2zM4 57h2v1h-2zM289 225h4v1h-4zM300 225h2v1h-2zM731 445h2v1h-2zM753 445h4v1h-4zM1050 445h3v1h-3zM253 198h2v1h-2zM682 423h3v1h-3zM849 423h7v1h-7zM972 423h2v1h-2zM14 63h2v1h-2zM114 133h2v1h-2zM1246 133h2v1h-2zM520 349h2v1h-2zM525 349h4v1h-4zM574 349h2v1h-2zM9 60h2v1h-2zM158 163h2v1h-2zM589 360h3v1h-3zM955 418h6v1h-6zM705 429h3v1h-3zM825 429h3v1h-3zM164 166h2v1h-2zM609 373h2v1h-2zM602 369h2v1h-2zM305 227h3v1h-3zM17 65h2v1h-2zM19 66h2v1h-2zM593 362h2v1h-2zM73 102h2v1h-2zM606 371h2v1h-2zM12 62h2v1h-2zM146 155h2v1h-2zM476 331h2v1h-2zM6 58h2v1h-2zM282 223h3v1h-3zM160 164h2v1h-2zM133 148h2v1h-2zM489 339h2v1h-2zM149 157h2v1h-2zM478 332h2v1h-2zM166 167h2v1h-2zM604 370h2v1h-2zM277 220h2v1h-2zM1086 425h1v2h-1zM1089 421h1v1h-1zM1123 332h1v3h-1zM1135 299h1v3h-1zM586 358h1v1h-1zM1101 393h1v3h-1zM1172 207h1v3h-1zM672 416h1v1h-1zM1127 321h1v3h-1zM274 217h1v1h-1zM1151 259h1v3h-1zM61 90h1v2h-1zM1200 144h1v1h-1zM275 218h1v1h-1zM1130 313h1v3h-1zM667 413h1v1h-1zM62 92h1v1h-1zM410 244h1v2h-1zM414 250h1v2h-1zM1122 335h1v3h-1zM1134 302h1v3h-1zM43 78h1v1h-1zM608 372h1v1h-1zM1180 188h1v2h-1zM1147 268h1v3h-1zM1159 241h1v3h-1zM1196 151h1v2h-1zM428 270h1v2h-1zM1102 391h1v2h-1zM1208 134h1v1h-1zM80 108h1v1h-1zM450 303h1v1h-1zM1143 277h1v3h-1zM469 324h1v2h-1zM564 343h1v1h-1zM1179 190h1v3h-1zM451 304h1v1h-1zM1119 343h1v3h-1zM1131 310h1v3h-1zM1146 271h1v2h-1zM1109 371h1v3h-1zM87 116h1v1h-1zM1158 244h1v2h-1zM720 437h1v1h-1zM993 443h1v2h-1zM630 391h1v1h-1zM128 144h1v1h-1zM88 117h1v1h-1zM1171 210h1v3h-1zM631 392h1v1h-1zM1126 324h1v3h-1zM252 197h1v1h-1zM418 256h1v2h-1zM1175 199h1v3h-1zM1118 346h1v3h-1zM461 316h1v1h-1zM1093 413h1v2h-1zM1167 220h1v3h-1zM1085 427h1v1h-1zM637 398h1v1h-1zM979 427h1v1h-1zM432 276h1v1h-1zM1170 213h1v2h-1zM241 187h1v1h-1zM985 434h1v1h-1zM638 399h1v1h-1zM68 97h1v1h-1zM1125 327h1v2h-1zM1183 180h1v3h-1zM436 281h1v2h-1zM449 301h1v2h-1zM1195 153h1v3h-1zM986 435h1v1h-1zM69 98h1v1h-1zM1129 316h1v2h-1zM1092 415h1v2h-1zM39 75h1v1h-1zM664 411h1v1h-1zM1203 140h1v1h-1zM615 378h1v1h-1zM1142 280h1v3h-1zM176 175h1v1h-1zM413 249h1v1h-1zM483 335h1v1h-1zM1097 403h1v3h-1zM251 196h1v1h-1zM16 64h1v1h-1zM262 205h1v1h-1zM240 186h1v1h-1zM1088 422h1v2h-1zM417 255h1v1h-1zM263 206h1v1h-1zM79 107h1v1h-1zM1104 385h1v3h-1zM1150 262h1v2h-1zM1211 130h1v1h-1zM1187 170h1v3h-1zM269 212h1v1h-1zM708 430h1v1h-1zM1166 223h1v3h-1zM56 86h1v1h-1zM1121 338h1v2h-1zM453 306h1v2h-1zM270 213h1v1h-1zM1174 202h1v3h-1zM435 280h1v1h-1zM38 74h1v1h-1zM468 323h1v1h-1zM860 420h1v1h-1zM1153 255h1v2h-1zM1117 349h1v2h-1zM172 171h1v1h-1zM1241 129h1v1h-1zM1138 291h1v3h-1zM989 438h1v2h-1zM864 417h1v1h-1zM460 315h1v1h-1zM996 447h1v1h-1zM1081 432h1v2h-1zM1169 215h1v3h-1zM1084 428h1v2h-1zM596 364h1v1h-1zM1124 329h1v3h-1zM1120 340h1v3h-1zM1182 183h1v2h-1zM64 94h1v1h-1zM475 330h1v1h-1zM1194 156h1v2h-1zM416 253h1v2h-1zM1145 273h1v2h-1zM430 273h1v2h-1zM1091 417h1v2h-1zM467 322h1v1h-1zM1100 396h1v2h-1zM1199 145h1v2h-1zM82 111h1v1h-1zM1141 283h1v2h-1zM614 377h1v1h-1zM625 386h1v1h-1zM123 139h1v1h-1zM1181 185h1v3h-1zM1190 164h1v2h-1zM1096 406h1v2h-1zM452 305h1v1h-1zM595 363h1v1h-1zM124 140h1v1h-1zM1103 388h1v3h-1zM1099 398h1v3h-1zM868 414h1v1h-1zM89 118h1v1h-1zM1128 318h1v3h-1zM8 59h1v1h-1zM632 393h1v1h-1zM63 93h1v1h-1zM419 258h1v1h-1zM1132 307h1v3h-1zM1116 351h1v3h-1zM44 79h1v1h-1zM633 394h1v1h-1zM1178 193h1v2h-1zM420 259h1v1h-1zM1108 374h1v3h-1zM1205 137h1v2h-1zM1075 437h1v1h-1zM981 429h1v2h-1zM1157 246h1v2h-1zM434 279h1v1h-1zM243 189h1v1h-1zM171 170h1v1h-1zM1137 294h1v2h-1zM1240 128h1v1h-1zM438 284h1v2h-1zM987 436h1v1h-1zM1144 275h1v2h-1zM276 219h1v1h-1zM988 437h1v1h-1zM471 327h1v1h-1zM247 192h1v1h-1zM1193 158h1v2h-1zM1095 408h1v3h-1zM1087 424h1v1h-1zM1149 264h1v2h-1zM1082 431h1v1h-1zM119 136h1v1h-1zM1112 362h1v3h-1zM1165 226h1v2h-1zM1152 257h1v2h-1zM1189 166h1v2h-1zM265 208h1v1h-1zM81 109h1v2h-1zM980 428h1v1h-1zM1098 401h1v2h-1zM433 277h1v2h-1zM470 326h1v1h-1zM1168 218h1v2h-1zM1202 141h1v1h-1zM951 415h1v1h-1zM1115 354h1v3h-1zM70 99h1v1h-1zM1188 168h1v2h-1zM40 76h1v1h-1zM1140 285h1v3h-1zM1177 195h1v2h-1zM456 310h1v1h-1zM264 207h1v1h-1zM404 235h1v2h-1zM1156 248h1v2h-1zM462 317h1v1h-1zM1136 296h1v3h-1zM463 318h1v1h-1zM620 381h1v1h-1zM242 188h1v1h-1zM1139 288h1v3h-1zM488 338h1v1h-1zM1185 175h1v3h-1zM151 158h1v1h-1zM437 283h1v1h-1zM440 287h1v2h-1zM1155 250h1v3h-1zM1164 228h1v3h-1zM583 355h1v1h-1zM152 159h1v1h-1zM1107 377h1v3h-1zM155 161h1v1h-1zM441 289h1v1h-1zM454 308h1v1h-1zM710 432h1v1h-1zM1148 266h1v2h-1zM1111 365h1v3h-1zM455 309h1v1h-1zM991 441h1v1h-1zM1090 419h1v2h-1zM1114 357h1v3h-1zM598 366h1v1h-1zM1163 231h1v3h-1zM997 448h1v1h-1zM976 425h1v1h-1zM408 241h1v2h-1zM421 260h1v2h-1zM1243 131h1v1h-1zM1106 380h1v3h-1zM998 449h1v1h-1zM1201 142h1v2h-1zM422 262h1v1h-1zM1110 368h1v3h-1zM95 123h1v1h-1zM679 421h1v1h-1zM1192 160h1v2h-1zM709 431h1v1h-1zM96 124h1v1h-1zM983 432h1v1h-1zM271 214h1v1h-1zM444 293h1v2h-1zM480 333h1v1h-1zM1197 149h1v2h-1zM1094 411h1v2h-1zM173 172h1v1h-1zM1242 130h1v1h-1zM627 388h1v1h-1zM990 440h1v1h-1zM125 141h1v1h-1zM248 193h1v1h-1zM403 234h1v1h-1zM174 173h1v1h-1zM597 365h1v1h-1zM249 194h1v1h-1zM260 203h1v1h-1zM1204 139h1v1h-1zM76 104h1v1h-1zM1184 178h1v2h-1zM407 240h1v1h-1zM579 352h1v1h-1zM77 105h1v1h-1zM634 395h1v1h-1zM83 112h1v1h-1zM1176 197h1v2h-1zM982 431h1v1h-1zM626 387h1v1h-1zM135 149h1v1h-1zM84 113h1v1h-1zM728 443h1v1h-1zM447 299h1v1h-1zM1113 360h1v2h-1zM1162 234h1v2h-1zM457 311h1v2h-1zM406 238h1v2h-1zM872 411h1v1h-1zM90 119h1v1h-1zM458 313h1v1h-1zM91 120h1v1h-1zM75 103h1v1h-1zM675 418h1v1h-1zM876 408h1v1h-1zM1154 253h1v2h-1zM1191 162h1v2h-1zM1207 135h1v1h-1zM424 264h1v2h-1zM364 232h1v1h-1zM168 168h1v1h-1zM120 137h1v1h-1zM425 266h1v1h-1zM446 297h1v2h-1zM465 320h1v1h-1zM592 361h1v1h-1zM611 374h1v1h-1zM244 190h1v1h-1zM439 286h1v1h-1zM727 442h1v1h-1zM442 290h1v2h-1zM1105 383h1v2h-1zM443 292h1v1h-1zM472 328h1v1h-1zM72 101h1v1h-1zM259 202h1v1h-1zM952 416h1v1h-1zM1186 173h1v2h-1zM567 345h1v1h-1zM1198 147h1v2h-1zM1210 131h1v1h-1zM131 146h1v1h-1zM266 209h1v1h-1zM423 263h1v1h-1zM464 319h1v1h-1zM445 295h1v2h-1zM1133 305h1v2h-1zM622 383h1v1h-1zM711 433h1v1h-1zM255 199h1v1h-1zM1080 434h1v1h-1zM71 100h1v1h-1zM584 356h1v1h-1zM273 216h1v1h-1zM1072 439h1v1h-1zM585 357h1v1h-1zM405 237h1v1h-1zM116 134h1v1h-1zM992 442h1v1h-1zM629 390h1v1h-1zM127 143h1v1h-1zM599 367h1v1h-1zM828 428h1v1h-1zM1161 236h1v3h-1zM409 243h1v1h-1zM723 439h1v1h-1zM621 382h1v1h-1zM427 269h1v1h-1zM863 418h1v1h-1zM948 413h1v1h-1zM1083 430h1v1h-1zM431 275h1v1h-1zM85 114h1v1h-1zM867 415h1v1h-1zM272 215h1v1h-1zM628 389h1v1h-1zM126 142h1v1h-1zM86 115h1v1h-1zM871 412h1v1h-1zM60 89h1v1h-1zM175 174h1v1h-1zM412 247h1v2h-1zM250 195h1v1h-1zM426 267h1v2h-1zM636 397h1v1h-1zM580 353h1v1h-1zM78 106h1v1h-1zM984 433h1v1h-1zM1209 132h1v2h-1zM11 61h1v1h-1zM448 300h1v1h-1zM875 409h1v1h-1zM37 73h1v1h-1zM1160 239h1v2h-1zM1206 136h1v1h-1zM59 88h1v1h-1zM261 204h1v1h-1zM1173 205h1v2h-1zM148 156h1v1h-1zM459 314h1v1h-1zM995 446h1v1h-1zM92 121h1v1h-1zM635 396h1v1h-1zM279 221h1v1h-1zM268 211h1v1h-1zM36 72h1v1h-1zM47 81h1v1h-1zM466 321h1v1h-1zM67 96h1v1h-1zM400 232h1v1h-1zM613 376h1v1h-1zM676 419h1v1h-1zM411 246h1v1h-1zM576 350h1v1h-1zM994 445h1v1h-1zM415 252h1v1h-1zM724 440h1v1h-1zM132 147h1v1h-1zM429 272h1v1h-1zM267 210h1v1h-1zM612 375h1v1h-1zM623 384h1v1h-1zM256 200h1v1h-1zM624 385h1v1h-1zM3 56h1v1h-1z" fill="#0000cd"/>
<path d="M231 193h2v1h-2zM236 193h2v1h-2zM594 405h6v1h-6zM637 405h4v1h-4zM57 95h2v1h-2zM97 164h2v1h-2zM146 164h2v1h-2zM166 164h2v1h-2zM1233 142h3v1h-3zM1226 138h2v1h-2zM22 87h2v1h-2zM30 87h3v1h-3zM41 87h4v1h-4zM785 418h2v1h-2zM789 418h4v1h-4zM797 418h3v1h-3zM1054 418h11v1h-11zM1073 418h4v1h-4zM1170 111h2v1h-2zM901 383h4v1h-4zM349 216h4v1h-4zM111 178h2v1h-2zM181 178h3v1h-3zM153 161h4v1h-4zM787 417h2v1h-2zM800 417h2v1h-2zM1077 417h3v1h-3zM469 378h2v1h-2zM648 408h2v1h-2zM121 174h4v1h-4zM1199 132h9v1h-9zM681 442h3v1h-3zM743 448h2v1h-2zM1025 448h2v1h-2zM701 451h2v1h-2zM957 451h2v1h-2zM1020 451h2v1h-2zM899 384h2v1h-2zM905 384h3v1h-3zM337 219h2v1h-2zM9 80h3v1h-3zM455 388h2v1h-2zM879 388h2v1h-2zM884 388h2v1h-2zM889 388h4v1h-4zM286 257h2v1h-2zM294 257h2v1h-2zM782 420h2v1h-2zM592 404h2v1h-2zM633 404h4v1h-4zM641 404h3v1h-3zM370 207h2v1h-2zM804 415h2v1h-2zM809 415h3v1h-3zM909 386h2v1h-2zM824 426h2v1h-2zM828 426h2v1h-2zM833 426h3v1h-3zM24 88h2v1h-2zM28 88h2v1h-2zM45 88h3v1h-3zM213 196h3v1h-3zM226 196h2v1h-2zM776 423h2v1h-2zM1208 131h2v1h-2zM1213 131h3v1h-3zM725 458h7v1h-7zM973 458h3v1h-3zM604 401h2v1h-2zM614 401h2v1h-2zM625 401h3v1h-3zM780 421h2v1h-2zM119 175h2v1h-2zM1222 136h2v1h-2zM1254 146h3v1h-3zM1274 146h2v1h-2zM802 416h2v1h-2zM1154 121h3v1h-3zM211 195h2v1h-2zM1250 148h2v1h-2zM1261 148h11v1h-11zM206 192h2v1h-2zM233 192h3v1h-3zM713 460h8v1h-8zM977 460h2v1h-2zM711 459h2v1h-2zM721 459h4v1h-4zM806 414h3v1h-3zM826 427h2v1h-2zM836 427h2v1h-2zM1210 130h3v1h-3zM589 403h3v1h-3zM601 403h2v1h-2zM618 403h3v1h-3zM630 403h3v1h-3zM216 197h2v1h-2zM224 197h2v1h-2zM1243 149h2v1h-2zM1248 149h2v1h-2zM20 86h2v1h-2zM33 86h8v1h-8zM1180 114h2v1h-2zM650 409h2v1h-2zM606 400h3v1h-3zM612 400h2v1h-2zM881 387h3v1h-3zM893 387h3v1h-3zM26 89h2v1h-2zM457 389h3v1h-3zM886 389h3v1h-3zM793 419h4v1h-4zM1052 419h2v1h-2zM1065 419h8v1h-8zM113 179h3v1h-3zM1276 145h2v1h-2zM1161 118h2v1h-2zM303 250h2v1h-2zM193 184h2v1h-2zM218 198h6v1h-6zM705 454h2v1h-2zM961 454h2v1h-2zM937 431h3v1h-3zM366 209h2v1h-2zM373 209h2v1h-2zM841 429h12v1h-12zM4 82h2v1h-2zM14 82h2v1h-2zM364 210h2v1h-2zM353 215h4v1h-4zM177 176h2v1h-2zM1185 117h2v1h-2zM1220 135h2v1h-2zM941 433h2v1h-2zM129 172h4v1h-4zM897 385h2v1h-2zM1252 147h2v1h-2zM1257 147h4v1h-4zM1272 147h2v1h-2zM150 162h3v1h-3zM157 162h7v1h-7zM838 428h3v1h-3zM853 428h3v1h-3zM525 315h3v1h-3zM339 218h2v1h-2zM142 166h2v1h-2zM311 246h5v1h-5zM778 422h2v1h-2zM773 424h3v1h-3zM820 424h2v1h-2zM984 464h2v1h-2zM745 447h7v1h-7zM986 465h2v1h-2zM733 456h2v1h-2zM968 456h2v1h-2zM209 194h2v1h-2zM229 194h2v1h-2zM238 194h2v1h-2zM368 208h2v1h-2zM284 256h2v1h-2zM511 309h2v1h-2zM517 309h3v1h-3zM1237 144h2v1h-2zM1278 144h2v1h-2zM1229 140h2v1h-2zM587 402h2v1h-2zM616 402h2v1h-2zM621 402h4v1h-4zM628 402h2v1h-2zM17 84h2v1h-2zM668 434h2v1h-2zM1231 141h2v1h-2zM737 453h2v1h-2zM1017 453h2v1h-2zM305 249h3v1h-3zM553 357h2v1h-2zM361 212h2v1h-2zM1224 137h2v1h-2zM1217 133h2v1h-2zM609 399h3v1h-3zM1152 122h2v1h-2zM995 470h6v1h-6zM676 440h2v1h-2zM341 217h8v1h-8zM687 445h9v1h-9zM1029 445h2v1h-2zM678 441h3v1h-3zM757 441h2v1h-2zM771 425h2v1h-2zM822 425h2v1h-2zM830 425h3v1h-3zM318 244h2v1h-2zM357 214h3v1h-3zM513 308h4v1h-4zM990 467h2v1h-2zM982 463h2v1h-2zM523 314h2v1h-2zM945 436h2v1h-2zM288 258h2v1h-2zM292 258h2v1h-2zM653 411h2v1h-2zM685 444h2v1h-2zM316 245h2v1h-2zM1174 109h2v1h-2zM6 81h3v1h-3zM12 81h2v1h-2zM988 466h2v1h-2zM980 462h2v1h-2zM204 191h2v1h-2zM179 177h2v1h-2zM963 455h5v1h-5zM1168 112h2v1h-2zM290 259h2v1h-2zM148 163h2v1h-2zM164 163h2v1h-2zM140 167h2v1h-2zM993 469h2v1h-2zM1001 469h3v1h-3zM1245 150h3v1h-3zM197 187h2v1h-2zM137 169h2v1h-2zM202 190h2v1h-2zM309 247h2v1h-2zM1157 120h3v1h-3zM935 430h2v1h-2zM645 406h2v1h-2zM144 165h2v1h-2zM970 457h3v1h-3zM189 182h3v1h-3zM1022 450h2v1h-2zM297 255h2v1h-2zM200 189h2v1h-2zM133 171h3v1h-3zM670 435h2v1h-2zM187 181h2v1h-2zM1172 110h2v1h-2zM125 173h4v1h-4zM1182 115h2v1h-2zM49 90h2v1h-2zM185 180h2v1h-2zM54 93h2v1h-2zM52 92h2v1h-2zM1099 356h1v5h-1zM403 253h1v3h-1zM1112 293h1v5h-1zM1130 192h1v6h-1zM441 366h1v2h-1zM952 442h1v2h-1zM1117 268h1v5h-1zM487 343h1v2h-1zM912 388h1v2h-1zM1116 273h1v5h-1zM920 401h1v2h-1zM1134 169h1v6h-1zM324 235h1v2h-1zM424 322h1v4h-1zM1024 449h1v1h-1zM1197 130h1v1h-1zM816 420h1v1h-1zM263 226h1v1h-1zM1016 454h1v1h-1zM732 457h1v1h-1zM1135 164h1v5h-1zM445 373h1v2h-1zM406 264h1v4h-1zM1098 361h1v4h-1zM1108 313h1v5h-1zM1121 245h1v6h-1zM1028 446h1v1h-1zM656 413h1v2h-1zM541 336h1v2h-1zM664 426h1v2h-1zM874 397h1v2h-1zM1139 150h1v3h-1zM479 361h1v3h-1zM267 232h1v1h-1zM438 360h1v2h-1zM544 342h1v2h-1zM1125 221h1v6h-1zM1083 407h1v3h-1zM1095 373h1v4h-1zM573 386h1v2h-1zM75 129h1v1h-1zM534 324h1v2h-1zM1086 401h1v2h-1zM328 229h1v1h-1zM51 91h1v1h-1zM277 245h1v2h-1zM72 123h1v2h-1zM537 329h1v2h-1zM1126 215h1v6h-1zM660 419h1v2h-1zM320 242h1v2h-1zM574 388h1v1h-1zM241 196h1v2h-1zM65 110h1v2h-1zM484 350h1v2h-1zM416 295h1v3h-1zM538 331h1v2h-1zM559 363h1v1h-1zM68 116h1v2h-1zM567 375h1v2h-1zM1178 112h1v1h-1zM1094 377h1v4h-1zM1131 187h1v5h-1zM255 217h1v1h-1zM570 381h1v2h-1zM409 274h1v3h-1zM560 364h1v1h-1zM674 438h1v1h-1zM926 411h1v2h-1zM955 448h1v2h-1zM918 398h1v2h-1zM1005 467h1v1h-1zM1008 463h1v2h-1zM581 395h1v2h-1zM430 342h1v3h-1zM101 167h1v2h-1zM911 387h1v1h-1zM919 400h1v1h-1zM675 439h1v1h-1zM927 413h1v2h-1zM940 432h1v1h-1zM266 230h1v2h-1zM448 377h1v2h-1zM384 223h1v1h-1zM1103 337h1v5h-1zM1129 198h1v6h-1zM869 407h1v2h-1zM483 352h1v3h-1zM16 83h1v1h-1zM423 319h1v3h-1zM413 286h1v3h-1zM495 327h1v2h-1zM108 175h1v1h-1zM452 383h1v2h-1zM388 228h1v2h-1zM426 330h1v4h-1zM1166 114h1v1h-1zM540 334h1v2h-1zM1048 424h1v1h-1zM1120 251h1v6h-1zM184 179h1v1h-1zM1107 318h1v5h-1zM1051 420h1v1h-1zM569 379h1v2h-1zM1147 127h1v2h-1zM754 444h1v1h-1zM508 312h1v1h-1zM600 404h1v1h-1zM533 323h1v1h-1zM1111 298h1v5h-1zM865 415h1v1h-1zM245 202h1v2h-1zM1138 153h1v4h-1zM1115 278h1v5h-1zM491 335h1v2h-1zM1043 430h1v1h-1zM908 385h1v1h-1zM1046 426h1v1h-1zM506 314h1v1h-1zM929 417h1v2h-1zM64 108h1v2h-1zM420 308h1v4h-1zM566 373h1v2h-1zM1102 342h1v5h-1zM1188 119h1v1h-1zM1219 134h1v1h-1zM326 231h1v2h-1zM922 404h1v2h-1zM873 399h1v2h-1zM1146 129h1v3h-1zM580 394h1v1h-1zM1124 227h1v6h-1zM463 385h1v1h-1zM652 410h1v1h-1zM466 381h1v1h-1zM169 166h1v2h-1zM1189 120h1v1h-1zM700 450h1v1h-1zM915 393h1v1h-1zM478 364h1v2h-1zM490 337h1v2h-1zM644 405h1v1h-1zM1085 403h1v2h-1zM419 305h1v3h-1zM861 421h1v1h-1zM437 358h1v2h-1zM402 251h1v2h-1zM176 175h1v1h-1zM412 283h1v3h-1zM1150 124h1v1h-1zM440 364h1v2h-1zM269 234h1v2h-1zM322 238h1v2h-1zM392 234h1v2h-1zM741 450h1v1h-1zM405 260h1v4h-1zM299 254h1v1h-1zM1035 439h1v1h-1zM992 468h1v1h-1zM280 250h1v2h-1zM536 327h1v2h-1zM761 437h1v1h-1zM1090 392h1v2h-1zM240 195h1v1h-1zM486 345h1v2h-1zM521 311h1v2h-1zM532 321h1v2h-1zM561 365h1v2h-1zM1110 303h1v5h-1zM100 166h1v1h-1zM244 200h1v2h-1zM335 221h1v1h-1zM522 313h1v1h-1zM925 409h1v2h-1zM1011 459h1v1h-1zM562 367h1v1h-1zM928 415h1v2h-1zM429 340h1v2h-1zM565 371h1v2h-1zM258 221h1v1h-1zM494 329h1v2h-1zM503 317h1v1h-1zM921 403h1v1h-1zM473 374h1v1h-1zM1142 140h1v3h-1zM259 222h1v1h-1zM168 165h1v1h-1zM914 391h1v2h-1zM1080 414h1v2h-1zM1106 323h1v5h-1zM1119 257h1v6h-1zM387 227h1v1h-1zM769 427h1v1h-1zM447 376h1v1h-1zM498 323h1v1h-1zM1133 175h1v6h-1zM390 231h1v2h-1zM1038 435h1v1h-1zM864 416h1v2h-1zM436 356h1v2h-1zM543 340h1v2h-1zM1137 157h1v3h-1zM572 385h1v1h-1zM391 233h1v1h-1zM1097 365h1v4h-1zM276 243h1v2h-1zM1184 116h1v1h-1zM1141 143h1v4h-1zM1101 347h1v4h-1zM764 433h1v1h-1zM422 315h1v4h-1zM539 333h1v1h-1zM856 427h1v1h-1zM568 377h1v2h-1zM868 409h1v2h-1zM482 355h1v2h-1zM67 114h1v2h-1zM415 292h1v3h-1zM243 199h1v1h-1zM63 106h1v2h-1zM1096 369h1v4h-1zM1123 233h1v6h-1zM1093 381h1v4h-1zM428 337h1v3h-1zM1084 405h1v2h-1zM408 271h1v3h-1zM947 437h1v1h-1zM917 396h1v2h-1zM360 213h1v1h-1zM696 446h1v1h-1zM404 256h1v4h-1zM583 398h1v1h-1zM330 227h1v1h-1zM1192 123h1v2h-1zM1128 204h1v6h-1zM450 380h1v2h-1zM333 223h1v2h-1zM485 347h1v3h-1zM376 211h1v2h-1zM56 94h1v1h-1zM268 233h1v1h-1zM1132 181h1v6h-1zM1198 131h1v1h-1zM817 421h1v1h-1zM1045 427h1v2h-1zM451 382h1v1h-1zM394 237h1v2h-1zM59 96h1v2h-1zM454 386h1v2h-1zM96 163h1v1h-1zM1092 385h1v4h-1zM325 233h1v2h-1zM435 353h1v3h-1zM818 422h1v1h-1zM872 401h1v2h-1zM542 338h1v2h-1zM425 326h1v4h-1zM1145 132h1v2h-1zM1007 465h1v1h-1zM976 459h1v1h-1zM465 382h1v2h-1zM246 204h1v2h-1zM535 326h1v1h-1zM1127 210h1v5h-1zM477 366h1v2h-1zM421 312h1v3h-1zM1042 431h1v1h-1zM247 206h1v1h-1zM575 389h1v1h-1zM66 112h1v2h-1zM257 219h1v2h-1zM3 83h1v1h-1zM1114 283h1v5h-1zM103 170h1v1h-1zM1079 416h1v1h-1zM784 419h1v1h-1zM576 390h1v1h-1zM321 240h1v2h-1zM1091 389h1v3h-1zM707 455h1v1h-1zM1118 263h1v5h-1zM1136 160h1v4h-1zM1239 145h1v1h-1zM1037 436h1v2h-1zM407 268h1v3h-1zM1122 239h1v6h-1zM118 176h1v1h-1zM1015 455h1v1h-1zM756 442h1v1h-1zM510 310h1v1h-1zM916 394h1v2h-1zM1105 328h1v4h-1zM1240 146h1v1h-1zM924 407h1v2h-1zM418 302h1v3h-1zM736 454h1v1h-1zM501 319h1v2h-1zM1109 308h1v5h-1zM1191 122h1v1h-1zM449 379h1v1h-1zM760 438h1v2h-1zM401 249h1v2h-1zM110 177h1v1h-1zM439 362h1v2h-1zM1113 288h1v5h-1zM1010 460h1v2h-1zM867 411h1v2h-1zM481 357h1v2h-1zM1013 457h1v1h-1zM411 280h1v3h-1zM1100 351h1v5h-1zM242 198h1v1h-1zM1194 126h1v2h-1zM1104 332h1v5h-1zM468 379h1v1h-1zM489 339h1v2h-1zM62 103h1v3h-1zM564 369h1v2h-1zM1140 147h1v3h-1zM878 389h1v2h-1zM414 289h1v3h-1zM923 406h1v1h-1zM1144 134h1v3h-1zM301 252h1v1h-1zM497 324h1v2h-1zM260 223h1v1h-1zM375 210h1v1h-1zM170 168h1v1h-1zM378 214h1v2h-1zM740 451h1v1h-1zM858 425h1v1h-1zM476 368h1v2h-1zM109 176h1v1h-1zM171 169h1v1h-1zM389 230h1v1h-1zM453 385h1v1h-1zM48 89h1v1h-1zM417 298h1v4h-1zM1149 125h1v1h-1zM400 247h1v2h-1zM1032 443h1v1h-1zM393 236h1v1h-1zM410 277h1v3h-1zM493 331h1v2h-1zM1143 137h1v3h-1zM1163 117h1v1h-1zM505 315h1v1h-1zM472 375h1v2h-1zM249 208h1v2h-1zM332 225h1v1h-1zM136 170h1v1h-1zM1228 139h1v1h-1zM1176 110h1v1h-1zM1040 433h1v1h-1zM500 321h1v1h-1zM1190 121h1v1h-1zM563 368h1v1h-1zM812 416h1v1h-1zM427 334h1v3h-1zM866 413h1v2h-1zM460 388h1v1h-1zM813 417h1v1h-1zM949 439h1v1h-1zM382 220h1v2h-1zM1087 398h1v3h-1zM116 178h1v1h-1zM270 236h1v1h-1zM763 434h1v1h-1zM396 240h1v2h-1zM1216 132h1v1h-1zM271 237h1v1h-1zM488 341h1v2h-1zM934 427h1v2h-1zM80 137h1v2h-1zM248 207h1v1h-1zM475 370h1v2h-1zM577 391h1v1h-1zM431 345h1v2h-1zM1167 113h1v1h-1zM1082 410h1v2h-1zM377 213h1v1h-1zM548 350h1v2h-1zM61 101h1v2h-1zM1241 147h1v1h-1zM766 430h1v1h-1zM90 155h1v2h-1zM327 230h1v1h-1zM173 171h1v2h-1zM584 399h1v1h-1zM399 245h1v2h-1zM492 333h1v2h-1zM1193 125h1v1h-1zM381 219h1v1h-1zM1242 148h1v1h-1zM667 432h1v2h-1zM1044 429h1v1h-1zM877 391h1v2h-1zM91 157h1v1h-1zM959 452h1v1h-1zM585 400h1v1h-1zM174 173h1v1h-1zM395 239h1v1h-1zM545 344h1v2h-1zM960 453h1v1h-1zM278 247h1v2h-1zM657 415h1v1h-1zM819 423h1v1h-1zM464 384h1v1h-1zM1004 468h1v1h-1zM76 130h1v2h-1zM933 425h1v2h-1zM434 351h1v2h-1zM323 237h1v1h-1zM870 405h1v2h-1zM274 241h1v1h-1zM252 212h1v2h-1zM296 256h1v1h-1zM1151 123h1v1h-1zM948 438h1v1h-1zM308 248h1v1h-1zM104 171h1v1h-1zM697 447h1v1h-1zM1089 394h1v2h-1zM300 253h1v1h-1zM708 456h1v1h-1zM762 435h1v2h-1zM857 426h1v1h-1zM105 172h1v1h-1zM1027 447h1v1h-1zM1012 458h1v1h-1zM1047 425h1v1h-1zM753 445h1v1h-1zM507 313h1v1h-1zM199 188h1v1h-1zM86 148h1v2h-1zM89 153h1v2h-1zM172 170h1v1h-1zM398 243h1v2h-1zM273 239h1v2h-1zM82 141h1v2h-1zM467 380h1v1h-1zM603 402h1v1h-1zM896 386h1v1h-1zM83 143h1v1h-1zM770 426h1v1h-1zM471 377h1v1h-1zM555 358h1v1h-1zM331 226h1v1h-1zM462 386h1v1h-1zM433 349h1v2h-1zM944 435h1v1h-1zM860 422h1v2h-1zM742 449h1v1h-1zM1039 434h1v1h-1zM499 322h1v1h-1zM765 431h1v2h-1zM1050 421h1v1h-1zM876 393h1v2h-1zM380 217h1v2h-1zM1019 452h1v1h-1zM735 455h1v1h-1zM60 98h1v3h-1zM1031 444h1v1h-1zM1034 440h1v1h-1zM1165 115h1v1h-1zM666 430h1v2h-1zM547 348h1v2h-1zM192 183h1v1h-1zM85 146h1v2h-1zM93 159h1v2h-1zM1196 129h1v1h-1zM262 225h1v1h-1zM815 419h1v1h-1zM943 434h1v1h-1zM78 134h1v2h-1zM474 372h1v2h-1zM551 355h1v1h-1zM529 317h1v2h-1zM703 452h1v1h-1zM1081 412h1v2h-1zM932 423h1v2h-1zM663 425h1v1h-1zM19 85h1v1h-1zM79 136h1v1h-1zM704 453h1v1h-1zM502 318h1v1h-1zM1236 143h1v1h-1zM250 210h1v1h-1zM195 185h1v1h-1zM558 362h1v1h-1zM251 211h1v1h-1zM1177 111h1v1h-1zM871 403h1v2h-1zM1195 128h1v1h-1zM261 224h1v1h-1zM954 446h1v2h-1zM379 216h1v1h-1zM550 353h1v2h-1zM684 443h1v1h-1zM662 423h1v2h-1zM444 372h1v1h-1zM665 428h1v2h-1zM814 418h1v1h-1zM383 222h1v1h-1zM81 139h1v2h-1zM655 412h1v1h-1zM658 416h1v2h-1zM74 127h1v2h-1zM397 242h1v1h-1zM228 195h1v1h-1zM1088 396h1v2h-1zM334 222h1v1h-1zM528 316h1v1h-1zM272 238h1v1h-1zM659 418h1v1h-1zM557 360h1v2h-1zM432 347h1v2h-1zM70 120h1v2h-1zM935 429h1v1h-1zM1049 422h1v2h-1zM254 215h1v2h-1zM768 428h1v1h-1zM71 122h1v1h-1zM329 228h1v1h-1zM863 418h1v1h-1zM372 208h1v1h-1zM673 437h1v1h-1zM950 440h1v1h-1zM546 346h1v2h-1zM106 173h1v1h-1zM443 370h1v2h-1zM699 449h1v1h-1zM549 352h1v1h-1zM586 401h1v1h-1zM88 151h1v2h-1zM951 441h1v1h-1zM1006 466h1v1h-1zM107 174h1v1h-1zM661 421h1v2h-1zM77 132h1v2h-1zM302 251h1v1h-1zM92 158h1v1h-1zM265 229h1v1h-1zM175 174h1v1h-1zM73 125h1v2h-1zM875 395h1v2h-1zM647 407h1v1h-1zM279 249h1v1h-1zM461 387h1v1h-1zM1033 441h1v2h-1zM931 421h1v2h-1zM859 424h1v1h-1zM1014 456h1v1h-1zM755 443h1v1h-1zM509 311h1v1h-1zM672 436h1v1h-1zM578 392h1v1h-1zM1187 118h1v1h-1zM253 214h1v1h-1zM99 165h1v1h-1zM1160 119h1v1h-1zM480 359h1v2h-1zM953 444h1v2h-1zM579 393h1v1h-1zM1009 462h1v1h-1zM698 448h1v1h-1zM264 227h1v2h-1zM208 193h1v1h-1zM1041 432h1v1h-1zM442 368h1v2h-1zM385 224h1v2h-1zM84 144h1v2h-1zM710 458h1v1h-1zM87 150h1v1h-1zM386 226h1v1h-1zM282 253h1v2h-1zM69 118h1v2h-1zM862 419h1v2h-1zM571 383h1v2h-1zM275 242h1v1h-1zM283 255h1v1h-1zM556 359h1v1h-1zM930 419h1v2h-1zM759 440h1v1h-1zM363 211h1v1h-1zM979 461h1v1h-1zM1164 116h1v1h-1zM709 457h1v1h-1zM752 446h1v1h-1zM520 310h1v1h-1zM1148 126h1v1h-1zM336 220h1v1h-1zM956 450h1v1h-1zM1179 113h1v1h-1zM913 390h1v1h-1zM446 375h1v1h-1zM582 397h1v1h-1zM552 356h1v1h-1zM504 316h1v1h-1zM94 161h1v1h-1zM95 162h1v1h-1zM530 319h1v1h-1zM281 252h1v1h-1zM1036 438h1v1h-1zM496 326h1v1h-1zM139 168h1v1h-1zM117 177h1v1h-1zM531 320h1v1h-1zM767 429h1v1h-1zM196 186h1v1h-1zM739 452h1v1h-1zM256 218h1v1h-1zM102 169h1v1h-1z" fill="#ff0000"/>
<path d="M700 464h2v1h-2zM704 464h2v1h-2zM980 464h2v1h-2zM185 205h2v1h-2zM351 205h2v1h-2zM702 465h2v1h-2zM982 465h2v1h-2zM771 410h6v1h-6zM901 410h2v1h-2zM29 83h2v1h-2zM837 425h2v1h-2zM853 425h2v1h-2zM706 463h2v1h-2zM281 275h3v1h-3zM966 471h3v1h-3zM756 431h2v1h-2zM583 435h3v1h-3zM667 440h2v1h-2zM926 440h2v1h-2zM279 276h2v1h-2zM958 468h3v1h-3zM1053 416h2v1h-2zM86 182h3v1h-3zM100 182h2v1h-2zM789 413h2v1h-2zM793 413h3v1h-3zM1046 413h3v1h-3zM1218 135h6v1h-6zM1274 135h2v1h-2zM802 419h2v1h-2zM1019 419h6v1h-6zM1029 419h3v1h-3zM1076 419h2v1h-2zM129 159h3v1h-3zM1253 159h2v1h-2zM147 157h5v1h-5zM102 181h6v1h-6zM754 430h2v1h-2zM432 404h2v1h-2zM437 404h3v1h-3zM176 198h2v1h-2zM1139 89h2v1h-2zM758 432h2v1h-2zM714 470h2v1h-2zM964 470h2v1h-2zM969 470h3v1h-3zM34 86h2v1h-2zM649 436h2v1h-2zM1216 136h2v1h-2zM1272 136h2v1h-2zM658 428h2v1h-2zM740 428h2v1h-2zM781 411h2v1h-2zM785 411h3v1h-3zM899 411h2v1h-2zM1200 147h2v1h-2zM1237 147h2v1h-2zM353 206h4v1h-4zM361 206h7v1h-7zM806 421h2v1h-2zM846 421h2v1h-2zM1073 421h2v1h-2zM561 376h3v1h-3zM1232 144h2v1h-2zM543 377h2v1h-2zM202 190h7v1h-7zM213 193h2v1h-2zM877 342h3v1h-3zM611 367h2v1h-2zM442 402h2v1h-2zM839 424h2v1h-2zM791 414h2v1h-2zM1049 414h3v1h-3zM642 441h2v1h-2zM669 441h3v1h-3zM928 441h2v1h-2zM52 116h2v1h-2zM56 116h2v1h-2zM956 467h2v1h-2zM985 467h2v1h-2zM826 445h2v1h-2zM257 266h2v1h-2zM260 266h2v1h-2zM808 422h2v1h-2zM844 422h2v1h-2zM1059 422h2v1h-2zM742 427h2v1h-2zM943 452h2v1h-2zM938 447h2v1h-2zM123 158h6v1h-6zM152 156h2v1h-2zM810 423h2v1h-2zM841 423h3v1h-3zM1061 423h11v1h-11zM613 368h3v1h-3zM79 187h2v1h-2zM1250 161h2v1h-2zM118 162h2v1h-2zM1244 162h2v1h-2zM1248 162h2v1h-2zM618 370h2v1h-2zM783 412h2v1h-2zM1041 412h2v1h-2zM1044 412h2v1h-2zM138 165h2v1h-2zM135 166h3v1h-3zM116 163h2v1h-2zM1246 163h2v1h-2zM440 403h2v1h-2zM92 184h2v1h-2zM96 184h2v1h-2zM434 405h3v1h-3zM1267 138h2v1h-2zM58 115h2v1h-2zM1202 148h6v1h-6zM948 454h2v1h-2zM691 461h2v1h-2zM975 461h2v1h-2zM804 420h2v1h-2zM1025 420h4v1h-4zM315 237h5v1h-5zM17 75h2v1h-2zM21 75h3v1h-3zM1159 130h2v1h-2zM645 439h2v1h-2zM924 439h2v1h-2zM712 469h2v1h-2zM961 469h3v1h-3zM262 265h6v1h-6zM357 207h4v1h-4zM330 212h2v1h-2zM586 434h2v1h-2zM549 379h8v1h-8zM1037 415h2v1h-2zM200 191h2v1h-2zM209 191h3v1h-3zM936 446h2v1h-2zM222 200h2v1h-2zM777 409h3v1h-3zM1234 145h2v1h-2zM545 378h4v1h-4zM557 378h3v1h-3zM656 429h2v1h-2zM752 429h2v1h-2zM269 267h2v1h-2zM19 76h2v1h-2zM800 418h2v1h-2zM1032 418h2v1h-2zM1078 418h2v1h-2zM639 442h3v1h-3zM930 442h2v1h-2zM328 213h2v1h-2zM336 203h2v1h-2zM396 285h2v1h-2zM1225 137h2v1h-2zM1269 137h3v1h-3zM154 155h2v1h-2zM950 455h2v1h-2zM398 286h2v1h-2zM494 281h2v1h-2zM697 462h2v1h-2zM977 462h2v1h-2zM178 199h2v1h-2zM220 199h2v1h-2zM32 85h2v1h-2zM84 183h2v1h-2zM89 183h3v1h-3zM98 183h2v1h-2zM1161 131h3v1h-3zM338 202h2v1h-2zM682 451h2v1h-2zM189 204h2v1h-2zM1034 417h2v1h-2zM933 444h2v1h-2zM271 268h2v1h-2zM1209 146h2v1h-2zM1177 114h2v1h-2zM14 73h2v1h-2zM94 185h2v1h-2zM693 460h3v1h-3zM616 369h2v1h-2zM945 453h3v1h-3zM54 117h2v1h-2zM1181 117h2v1h-2zM680 450h2v1h-2zM273 269h3v1h-3zM12 72h2v1h-2zM708 464h1v1h-1zM880 344h1v5h-1zM188 205h1v1h-1zM709 465h1v2h-1zM1093 311h1v11h-1zM5 82h1v3h-1zM882 353h1v5h-1zM914 424h1v2h-1zM1005 460h1v4h-1zM140 164h1v1h-1zM132 160h1v2h-1zM501 291h1v2h-1zM915 426h1v1h-1zM390 272h1v4h-1zM215 194h1v1h-1zM918 431h1v2h-1zM664 434h1v2h-1zM181 201h1v1h-1zM408 325h1v5h-1zM481 312h1v2h-1zM391 276h1v3h-1zM605 382h1v4h-1zM1108 181h1v7h-1zM596 415h1v2h-1zM629 411h1v5h-1zM421 384h1v4h-1zM1092 322h1v10h-1zM1098 253h1v12h-1zM862 391h1v5h-1zM1125 127h1v3h-1zM284 270h1v4h-1zM1264 142h1v1h-1zM42 99h1v2h-1zM1102 223h1v7h-1zM39 93h1v2h-1zM1083 389h1v7h-1zM1132 106h1v3h-1zM812 425h1v2h-1zM1087 362h1v7h-1zM1242 157h1v3h-1zM762 425h1v2h-1zM1091 332h1v9h-1zM404 304h1v5h-1zM464 358h1v2h-1zM384 247h1v4h-1zM973 464h1v3h-1zM892 388h1v4h-1zM241 198h1v4h-1zM452 384h1v1h-1zM1016 425h1v2h-1zM1097 265h1v12h-1zM405 309h1v6h-1zM243 206h1v5h-1zM169 180h1v2h-1zM588 430h1v3h-1zM387 259h1v5h-1zM600 403h1v4h-1zM895 400h1v4h-1zM225 197h1v2h-1zM244 211h1v6h-1zM623 384h1v4h-1zM415 357h1v5h-1zM254 258h1v4h-1zM4 85h1v2h-1zM525 346h1v3h-1zM565 380h1v3h-1zM626 397h1v4h-1zM716 468h1v2h-1zM376 223h1v4h-1zM583 436h1v1h-1zM448 391h1v2h-1zM566 383h1v3h-1zM64 136h1v3h-1zM373 215h1v3h-1zM835 427h1v2h-1zM1096 277h1v12h-1zM108 179h1v2h-1zM885 365h1v3h-1zM858 411h1v4h-1zM1004 464h1v3h-1zM528 354h1v3h-1zM67 146h1v3h-1zM480 314h1v3h-1zM954 462h1v3h-1zM738 430h1v2h-1zM350 206h1v2h-1zM529 357h1v2h-1zM542 376h1v1h-1zM569 393h1v3h-1zM955 465h1v2h-1zM888 374h1v4h-1zM1151 109h1v3h-1zM1116 153h1v2h-1zM1107 188h1v7h-1zM401 292h1v4h-1zM198 193h1v1h-1zM1123 132h1v3h-1zM1154 119h1v3h-1zM488 295h1v4h-1zM870 360h1v4h-1zM240 194h1v4h-1zM734 437h1v2h-1zM1082 396h1v6h-1zM292 242h1v4h-1zM619 371h1v1h-1zM411 339h1v5h-1zM323 228h1v3h-1zM1081 402h1v7h-1zM1101 230h1v6h-1zM161 167h1v1h-1zM849 424h1v1h-1zM632 425h1v3h-1zM861 396h1v6h-1zM60 118h1v5h-1zM1086 369h1v7h-1zM1043 411h1v1h-1zM1090 341h1v7h-1zM881 349h1v4h-1zM1110 168h1v7h-1zM710 467h1v1h-1zM730 444h1v2h-1zM639 443h1v1h-1zM1080 409h1v6h-1zM636 436h1v2h-1zM913 422h1v2h-1zM865 379h1v4h-1zM502 293h1v1h-1zM447 393h1v2h-1zM407 320h1v5h-1zM916 427h1v2h-1zM246 222h1v6h-1zM665 436h1v2h-1zM417 367h1v5h-1zM726 452h1v2h-1zM677 447h1v1h-1zM1255 158h1v1h-1zM503 294h1v1h-1zM287 260h1v3h-1zM506 298h1v2h-1zM1012 436h1v4h-1zM1135 97h1v3h-1zM628 406h1v5h-1zM420 381h1v3h-1zM443 401h1v1h-1zM1095 289h1v12h-1zM1115 155h1v2h-1zM1229 140h1v2h-1zM513 315h1v2h-1zM379 234h1v3h-1zM236 187h1v1h-1zM1243 160h1v2h-1zM41 97h1v2h-1zM869 364h1v4h-1zM1122 135h1v4h-1zM610 369h1v2h-1zM322 231h1v2h-1zM575 411h1v3h-1zM73 165h1v4h-1zM114 166h1v3h-1zM487 299h1v2h-1zM334 206h1v2h-1zM385 251h1v4h-1zM1111 163h1v5h-1zM788 412h1v1h-1zM431 403h1v1h-1zM171 184h1v3h-1zM578 421h1v4h-1zM1007 454h1v3h-1zM894 396h1v4h-1zM1100 236h1v7h-1zM995 481h1v1h-1zM523 340h1v4h-1zM1142 91h1v1h-1zM461 366h1v2h-1zM729 446h1v2h-1zM495 280h1v1h-1zM1194 138h1v3h-1zM1173 115h1v2h-1zM1109 175h1v6h-1zM1079 415h1v3h-1zM597 413h1v2h-1zM375 220h1v3h-1zM1146 97h1v2h-1zM883 358h1v4h-1zM530 359h1v3h-1zM864 383h1v4h-1zM884 362h1v3h-1zM1099 243h1v10h-1zM1084 382h1v7h-1zM527 351h1v3h-1zM725 454h1v2h-1zM953 460h1v2h-1zM286 263h1v4h-1zM593 420h1v1h-1zM458 374h1v2h-1zM1150 107h1v2h-1zM887 371h1v3h-1zM248 233h1v4h-1zM1134 100h1v3h-1zM856 419h1v4h-1zM1266 139h1v1h-1zM249 237h1v5h-1zM798 416h1v1h-1zM1156 124h1v2h-1zM721 461h1v2h-1zM519 326h1v2h-1zM163 170h1v1h-1zM631 421h1v4h-1zM1019 420h1v1h-1zM851 427h1v1h-1zM602 395h1v4h-1zM113 169h1v2h-1zM333 208h1v2h-1zM1213 141h1v2h-1zM1094 301h1v10h-1zM637 438h1v2h-1zM1183 118h1v1h-1zM1015 427h1v2h-1zM1006 457h1v3h-1zM638 440h1v2h-1zM290 249h1v4h-1zM904 410h1v1h-1zM1208 147h1v1h-1zM388 264h1v4h-1zM1187 124h1v1h-1zM368 207h1v1h-1zM560 377h1v1h-1zM371 211h1v2h-1zM416 362h1v5h-1zM905 411h1v1h-1zM897 406h1v3h-1zM627 401h1v5h-1zM406 315h1v5h-1zM1104 209h1v7h-1zM1089 348h1v7h-1zM245 217h1v5h-1zM110 176h1v2h-1zM505 297h1v1h-1zM1227 138h1v1h-1zM679 449h1v1h-1zM872 353h1v4h-1zM1167 123h1v2h-1zM1228 139h1v1h-1zM1239 148h1v2h-1zM325 220h1v4h-1zM570 396h1v4h-1zM724 456h1v2h-1zM68 149h1v3h-1zM490 287h1v4h-1zM653 432h1v2h-1zM512 312h1v3h-1zM457 376h1v2h-1zM890 381h1v4h-1zM1010 443h1v4h-1zM230 191h1v1h-1zM402 296h1v4h-1zM429 399h1v2h-1zM574 408h1v3h-1zM72 161h1v4h-1zM412 344h1v4h-1zM720 463h1v1h-1zM305 220h1v2h-1zM827 446h1v1h-1zM993 477h1v2h-1zM1018 421h1v2h-1zM1261 148h1v2h-1zM61 123h1v4h-1zM1212 143h1v2h-1zM867 372h1v3h-1zM751 428h1v1h-1zM1120 142h1v4h-1zM187 206h1v1h-1zM1014 429h1v4h-1zM289 253h1v3h-1zM259 267h1v1h-1zM604 386h1v4h-1zM24 76h1v2h-1zM1088 355h1v7h-1zM871 357h1v3h-1zM324 224h1v4h-1zM28 82h1v1h-1zM630 416h1v5h-1zM234 187h1v1h-1zM1009 447h1v3h-1zM229 192h1v2h-1zM1185 121h1v1h-1zM1260 150h1v3h-1zM1040 413h1v1h-1zM1189 126h1v2h-1zM369 208h1v2h-1zM172 187h1v3h-1zM580 428h1v2h-1zM875 344h1v2h-1zM866 375h1v4h-1zM217 196h1v1h-1zM183 203h1v1h-1zM288 256h1v4h-1zM896 404h1v2h-1zM460 368h1v3h-1zM907 413h1v1h-1zM834 429h1v2h-1zM472 341h1v3h-1zM1196 143h1v1h-1zM1252 160h1v1h-1zM444 399h1v2h-1zM889 378h1v3h-1zM250 242h1v4h-1zM1000 474h1v2h-1zM520 328h1v4h-1zM304 218h1v2h-1zM8 76h1v2h-1zM335 204h1v2h-1zM521 332h1v4h-1zM300 220h1v1h-1zM484 305h1v2h-1zM1259 153h1v2h-1zM607 375h1v3h-1zM874 346h1v4h-1zM684 452h1v2h-1zM598 411h1v2h-1zM491 285h1v2h-1zM134 164h1v2h-1zM833 431h1v3h-1zM471 344h1v2h-1zM917 429h1v2h-1zM655 430h1v1h-1zM393 281h1v1h-1zM666 438h1v2h-1zM11 71h1v1h-1zM814 430h1v2h-1zM291 246h1v3h-1zM860 402h1v5h-1zM7 78h1v2h-1zM76 177h1v3h-1zM1085 376h1v6h-1zM141 163h1v1h-1zM1191 129h1v2h-1zM606 378h1v4h-1zM625 392h1v5h-1zM483 307h1v2h-1zM909 416h1v1h-1zM873 350h1v3h-1zM256 265h1v1h-1zM1231 143h1v1h-1zM1126 125h1v2h-1zM531 362h1v2h-1zM1153 115h1v4h-1zM541 375h1v1h-1zM620 372h1v4h-1zM1164 129h1v2h-1zM621 376h1v4h-1zM453 383h1v1h-1zM465 356h1v2h-1zM231 190h1v1h-1zM1157 126h1v2h-1zM634 430h1v3h-1zM145 159h1v1h-1zM51 114h1v2h-1zM83 184h1v1h-1zM474 334h1v3h-1zM109 178h1v1h-1zM972 467h1v2h-1zM1138 90h1v2h-1zM675 445h1v1h-1zM133 162h1v2h-1zM919 433h1v2h-1zM676 446h1v1h-1zM294 235h1v4h-1zM340 203h1v1h-1zM381 239h1v3h-1zM823 442h1v1h-1zM719 464h1v1h-1zM43 101h1v2h-1zM893 392h1v4h-1zM192 201h1v2h-1zM1277 131h1v2h-1zM497 284h1v2h-1zM911 419h1v1h-1zM1148 102h1v2h-1zM1145 95h1v2h-1zM1103 216h1v7h-1zM1137 92h1v3h-1zM1124 130h1v2h-1zM1152 112h1v3h-1zM16 74h1v1h-1zM796 414h1v1h-1zM611 368h1v1h-1zM422 388h1v3h-1zM797 415h1v1h-1zM1112 161h1v2h-1zM1158 128h1v2h-1zM477 324h1v3h-1zM162 168h1v2h-1zM996 480h1v1h-1zM633 428h1v2h-1zM1039 414h1v1h-1zM587 433h1v1h-1zM599 407h1v4h-1zM711 468h1v1h-1zM1128 119h1v3h-1zM903 409h1v1h-1zM493 282h1v2h-1zM297 226h1v3h-1zM696 461h1v1h-1zM418 372h1v5h-1zM1136 95h1v2h-1zM507 300h1v2h-1zM678 448h1v1h-1zM70 155h1v3h-1zM766 417h1v2h-1zM603 390h1v5h-1zM514 317h1v3h-1zM380 237h1v2h-1zM31 84h1v1h-1zM44 103h1v1h-1zM237 188h1v2h-1zM811 424h1v1h-1zM45 104h1v2h-1zM647 438h1v1h-1zM476 327h1v4h-1zM825 444h1v1h-1zM576 414h1v4h-1zM622 380h1v4h-1zM253 254h1v4h-1zM112 171h1v3h-1zM524 344h1v2h-1zM496 282h1v2h-1zM326 216h1v4h-1zM1198 145h1v1h-1zM769 412h1v2h-1zM1147 99h1v3h-1zM935 445h1v1h-1zM1199 146h1v1h-1zM296 229h1v3h-1zM1011 440h1v3h-1zM654 431h1v1h-1zM37 89h1v2h-1zM410 334h1v5h-1zM26 79h1v2h-1zM765 419h1v2h-1zM467 352h1v2h-1zM987 468h1v1h-1zM799 417h1v1h-1zM1263 143h1v2h-1zM164 171h1v2h-1zM1131 109h1v3h-1zM718 465h1v2h-1zM463 360h1v3h-1zM1172 117h1v2h-1zM216 195h1v1h-1zM898 409h1v2h-1zM3 87h1v2h-1zM509 304h1v3h-1zM923 438h1v1h-1zM942 451h1v1h-1zM1240 150h1v3h-1zM571 400h1v3h-1zM69 152h1v3h-1zM737 432h1v2h-1zM855 423h1v2h-1zM156 157h1v2h-1zM813 427h1v3h-1zM764 421h1v2h-1zM197 194h1v2h-1zM242 202h1v4h-1zM601 399h1v4h-1zM413 348h1v5h-1zM733 439h1v2h-1zM1262 145h1v3h-1zM306 222h1v2h-1zM252 250h1v4h-1zM144 160h1v1h-1zM760 429h1v2h-1zM82 185h1v1h-1zM62 127h1v5h-1zM624 388h1v4h-1zM1105 202h1v7h-1zM859 407h1v4h-1zM212 192h1v1h-1zM686 455h1v2h-1zM419 377h1v4h-1zM392 279h1v2h-1zM36 87h1v2h-1zM736 434h1v2h-1zM989 471h1v1h-1zM165 173h1v1h-1zM990 472h1v2h-1zM301 219h1v1h-1zM166 174h1v2h-1zM609 371h1v2h-1zM191 203h1v1h-1zM732 441h1v2h-1zM370 210h1v1h-1zM1193 134h1v4h-1zM173 190h1v3h-1zM940 448h1v1h-1zM728 448h1v2h-1zM218 197h1v1h-1zM952 457h1v3h-1zM1230 142h1v1h-1zM886 368h1v3h-1zM343 206h1v1h-1zM307 224h1v1h-1zM1008 450h1v4h-1zM308 225h1v1h-1zM327 214h1v2h-1zM459 371h1v3h-1zM727 450h1v2h-1zM673 443h1v1h-1zM685 454h1v1h-1zM247 228h1v5h-1zM857 415h1v4h-1zM723 458h1v2h-1zM830 439h1v2h-1zM1106 195h1v7h-1zM115 164h1v2h-1zM591 422h1v2h-1zM383 244h1v3h-1zM451 385h1v2h-1zM74 169h1v4h-1zM414 353h1v4h-1zM386 255h1v4h-1zM579 425h1v3h-1zM372 213h1v2h-1zM63 132h1v4h-1zM906 412h1v1h-1zM1119 146h1v3h-1zM568 389h1v4h-1zM910 417h1v2h-1zM499 288h1v2h-1zM699 463h1v1h-1zM1195 141h1v2h-1zM1127 122h1v3h-1zM400 288h1v4h-1zM722 460h1v1h-1zM59 116h1v2h-1zM466 354h1v2h-1zM975 460h1v1h-1zM423 391h1v2h-1zM852 426h1v1h-1zM590 424h1v3h-1zM283 274h1v1h-1zM635 433h1v3h-1zM193 200h1v1h-1zM450 387h1v2h-1zM228 194h1v1h-1zM748 431h1v1h-1zM389 268h1v4h-1zM1118 149h1v2h-1zM395 284h1v1h-1zM378 230h1v4h-1zM196 196h1v1h-1zM516 322h1v1h-1zM382 242h1v2h-1zM302 218h1v1h-1zM563 375h1v1h-1zM1190 128h1v1h-1zM1130 112h1v3h-1zM449 389h1v2h-1zM473 337h1v4h-1zM660 429h1v1h-1zM908 414h1v2h-1zM526 349h1v2h-1zM567 386h1v3h-1zM65 139h1v4h-1zM498 286h1v2h-1zM1197 144h1v1h-1zM1149 104h1v3h-1zM1117 151h1v2h-1zM532 364h1v1h-1zM409 330h1v4h-1zM533 365h1v2h-1zM293 239h1v3h-1zM731 443h1v1h-1zM879 341h1v1h-1zM879 343h1v1h-1zM312 230h1v2h-1zM277 272h1v2h-1zM1121 139h1v3h-1zM78 184h1v3h-1zM1276 133h1v2h-1zM770 411h1v1h-1zM899 412h1v1h-1zM1013 433h1v3h-1zM689 459h1v1h-1zM921 436h1v1h-1zM508 302h1v2h-1zM922 437h1v1h-1zM377 227h1v3h-1zM1241 153h1v4h-1zM71 158h1v3h-1zM999 476h1v1h-1zM1215 137h1v2h-1zM158 161h1v2h-1zM518 325h1v1h-1zM1133 103h1v3h-1zM46 106h1v1h-1zM251 246h1v4h-1zM49 110h1v2h-1zM1174 113h1v2h-1zM522 336h1v4h-1zM535 368h1v1h-1zM595 417h1v2h-1zM38 91h1v2h-1zM651 435h1v1h-1zM455 380h1v2h-1zM829 441h1v2h-1zM1214 139h1v2h-1zM988 469h1v2h-1zM276 270h1v2h-1zM761 427h1v2h-1zM168 178h1v2h-1zM142 162h1v1h-1zM111 174h1v2h-1zM77 180h1v4h-1zM1143 92h1v1h-1zM582 433h1v2h-1zM749 430h1v1h-1zM66 143h1v3h-1zM295 232h1v3h-1zM1003 467h1v3h-1zM479 317h1v3h-1zM349 208h1v2h-1zM235 186h1v1h-1zM341 204h1v1h-1zM342 205h1v1h-1zM239 191h1v3h-1zM848 422h1v2h-1zM157 159h1v2h-1zM403 300h1v4h-1zM589 427h1v3h-1zM454 382h1v1h-1zM47 107h1v1h-1zM828 443h1v2h-1zM232 189h1v1h-1zM48 108h1v2h-1zM227 195h1v1h-1zM462 363h1v3h-1zM971 469h1v1h-1zM446 395h1v2h-1zM1002 470h1v2h-1zM537 370h1v2h-1zM478 320h1v4h-1zM348 210h1v2h-1zM1114 157h1v2h-1zM426 395h1v1h-1zM998 477h1v1h-1zM1056 418h1v1h-1zM430 401h1v2h-1zM75 173h1v4h-1zM979 463h1v1h-1zM321 233h1v2h-1zM167 176h1v2h-1zM486 301h1v2h-1zM577 418h1v3h-1zM876 343h1v1h-1zM1179 115h1v1h-1zM581 430h1v3h-1zM1257 156h1v1h-1zM941 449h1v2h-1zM155 156h1v1h-1zM1001 472h1v2h-1zM399 287h1v1h-1zM238 190h1v1h-1zM819 437h1v1h-1zM344 207h1v2h-1zM9 74h1v2h-1zM1052 415h1v1h-1zM997 478h1v2h-1zM485 303h1v2h-1zM644 440h1v1h-1zM309 226h1v2h-1zM608 373h1v2h-1zM320 235h1v2h-1zM332 210h1v2h-1zM492 284h1v1h-1zM135 167h1v1h-1zM539 373h1v1h-1zM489 291h1v4h-1zM27 81h1v1h-1zM394 282h1v2h-1zM1166 125h1v2h-1zM511 309h1v3h-1zM428 397h1v2h-1zM456 378h1v2h-1zM992 475h1v2h-1zM815 432h1v2h-1zM1017 423h1v2h-1zM974 462h1v2h-1zM1192 131h1v3h-1zM143 161h1v1h-1zM81 186h1v1h-1zM1169 121h1v1h-1zM951 456h1v1h-1zM739 429h1v1h-1zM594 419h1v1h-1zM1165 127h1v2h-1zM345 209h1v1h-1zM346 210h1v2h-1zM984 466h1v1h-1zM735 436h1v1h-1zM821 439h1v2h-1zM717 467h1v1h-1zM310 228h1v1h-1zM475 331h1v3h-1zM311 229h1v1h-1zM314 234h1v2h-1zM1139 88h1v1h-1zM175 196h1v2h-1zM687 457h1v1h-1zM688 458h1v1h-1zM920 435h1v1h-1zM510 307h1v2h-1zM572 403h1v3h-1zM517 323h1v2h-1zM160 165h1v2h-1zM891 385h1v3h-1zM1278 129h1v2h-1zM780 410h1v1h-1zM564 377h1v3h-1zM299 221h1v2h-1zM836 426h1v1h-1zM219 198h1v1h-1zM1258 155h1v1h-1zM912 420h1v2h-1zM744 428h1v1h-1zM661 430h1v2h-1zM445 397h1v2h-1zM745 429h1v2h-1zM1075 420h1v1h-1zM470 346h1v2h-1zM534 367h1v1h-1zM1113 159h1v2h-1zM40 95h1v2h-1zM10 72h1v2h-1zM868 368h1v4h-1zM313 232h1v2h-1zM278 274h1v2h-1zM170 182h1v2h-1zM6 80h1v2h-1zM1129 115h1v4h-1zM255 262h1v3h-1zM1141 90h1v1h-1zM298 223h1v3h-1zM174 193h1v3h-1zM482 309h1v3h-1zM374 218h1v2h-1zM767 415h1v2h-1zM652 434h1v1h-1zM831 436h1v3h-1zM690 460h1v1h-1zM121 160h1v1h-1zM863 387h1v4h-1zM469 348h1v2h-1zM285 267h1v3h-1zM1155 122h1v2h-1zM515 320h1v2h-1zM159 163h1v2h-1zM850 425h1v2h-1zM50 112h1v2h-1zM1211 145h1v1h-1zM180 200h1v1h-1zM500 290h1v1h-1zM746 431h1v1h-1zM663 433h1v1h-1zM747 432h1v1h-1zM1170 120h1v1h-1zM504 295h1v2h-1zM468 350h1v2h-1zM536 369h1v1h-1zM233 188h1v1h-1zM424 393h1v1h-1zM425 394h1v1h-1zM195 197h1v1h-1zM1055 417h1v1h-1zM268 266h1v1h-1zM1144 93h1v2h-1zM817 435h1v1h-1zM818 436h1v1h-1zM194 198h1v2h-1zM1184 119h1v2h-1zM1279 128h1v1h-1zM224 199h1v1h-1zM182 202h1v1h-1zM538 372h1v1h-1zM1072 422h1v1h-1zM427 396h1v1h-1zM1057 419h1v2h-1zM994 479h1v2h-1zM303 217h1v1h-1zM991 474h1v1h-1zM672 442h1v1h-1zM25 78h1v1h-1zM832 434h1v2h-1zM122 159h1v1h-1zM820 438h1v1h-1zM1186 122h1v2h-1zM79 188h1v1h-1zM120 161h1v1h-1zM540 374h1v1h-1zM592 421h1v1h-1zM1265 140h1v2h-1zM573 406h1v2h-1zM648 437h1v1h-1zM1058 421h1v1h-1zM763 423h1v2h-1zM759 431h1v1h-1zM1036 416h1v1h-1zM932 443h1v1h-1zM674 444h1v1h-1zM199 192h1v1h-1zM347 212h1v1h-1zM146 158h1v1h-1zM822 441h1v1h-1zM1188 125h1v1h-1zM315 236h1v1h-1zM750 429h1v1h-1zM1256 157h1v1h-1zM1180 116h1v1h-1zM768 414h1v1h-1zM1224 136h1v1h-1zM662 432h1v1h-1zM1236 146h1v1h-1zM824 443h1v1h-1zM1175 112h1v1h-1zM1176 113h1v1h-1zM184 204h1v1h-1zM1171 119h1v1h-1zM1168 122h1v1h-1zM816 434h1v1h-1zM226 196h1v1h-1z" fill="#ffa500"/>
</g>
<g id="hlines" shape-rendering="crispEdges">
<rect x="3" y="168" width="1608" height="2" fill="#ff0000"/>
<rect x="2" y="166" width="6" height="6" fill="#ff0000"/>
<rect x="4" y="168" width="2" height="2" fill="#fff"/>
<rect x="1605" y="166" width="6" height="6" fill="#ff0000"/>
<rect x="1607" y="168" width="2" height="2" fill="#fff"/>
<rect x="3" y="323" width="1608" height="2" fill="#00ff00"/>
<rect x="3" y="483" width="1608" height="2" fill="#0000ff"/>
<rect x="2" y="481" width="6" height="6" fill="#0000ff"/>
<rect x="4" y="483" width="2" height="2" fill="#fff"/>
<rect x="1605" y="481" width="6" height="6" fill="#0000ff"/>
<rect x="1607" y="483" width="2" height="2" fill="#fff"/>
</g>
<g id="paxis" shape-rendering="crispEdges">
<rect x="1612" y="56" width="2" height="1" fill="#000"/>
<rect x="1612" y="89" width="2" height="1" fill="#000"/>
<rect x="1612" y="122" width="2" height="1" fill="#000"/>
<rect x="1612" y="155" width="2" height="1" fill="#000"/>
<rect x="1612" y="188" width="2" height="1" fill="#000"/>
<rect x="1612" y="221" width="2" height="1" fill="#000"/>
<rect x="1612" y="254" width="2" height="1" fill="#000"/>
<rect x="1612" y="287" width="2" height="1" fill="#000"/>
<rect x="1612" y="320" width="2" height="1" fill="#000"/>
<rect x="1612" y="353" width="2" height="1" fill="#000"/>
<rect x="1612" y="386" width="2" height="1" fill="#000"/>
<rect x="1612" y="419" width="2" height="1" fill="#000"/>
<rect x="1612" y="452" width="2" height="1" fill="#000"/>
<rect x="1612" y="485" width="2" height="1" fill="#000"/>
<rect x="1612" y="518" width="2" height="1" fill="#000"/>
</g>
<g id="plabels">
<text x="1617" y="60" font-size="10.0" fill="#000" textLength="33" lengthAdjust="spacingAndGlyphs" stroke="#000" stroke-width="0.15" >0.92405</text>
<text x="1617" y="93" font-size="10.0" fill="#000" textLength="33" lengthAdjust="spacingAndGlyphs" stroke="#000" stroke-width="0.15" >0.92175</text>
<text x="1617" y="126" font-size="10.0" fill="#000" textLength="33" lengthAdjust="spacingAndGlyphs" stroke="#000" stroke-width="0.15" >0.91945</text>
<text x="1617" y="159" font-size="10.0" fill="#000" textLength="33" lengthAdjust="spacingAndGlyphs" stroke="#000" stroke-width="0.15" >0.91715</text>
<text x="1617" y="192" font-size="10.0" fill="#000" textLength="33" lengthAdjust="spacingAndGlyphs" stroke="#000" stroke-width="0.15" >0.91485</text>
<text x="1617" y="225" font-size="10.0" fill="#000" textLength="33" lengthAdjust="spacingAndGlyphs" stroke="#000" stroke-width="0.15" >0.91255</text>
<text x="1617" y="258" font-size="10.0" fill="#000" textLength="33" lengthAdjust="spacingAndGlyphs" stroke="#000" stroke-width="0.15" >0.91025</text>
<text x="1617" y="291" font-size="10.0" fill="#000" textLength="33" lengthAdjust="spacingAndGlyphs" stroke="#000" stroke-width="0.15" >0.90795</text>
<text x="1617" y="357" font-size="10.0" fill="#000" textLength="33" lengthAdjust="spacingAndGlyphs" stroke="#000" stroke-width="0.15" >0.90335</text>
<text x="1617" y="390" font-size="10.0" fill="#000" textLength="33" lengthAdjust="spacingAndGlyphs" stroke="#000" stroke-width="0.15" >0.90105</text>
<text x="1617" y="423" font-size="10.0" fill="#000" textLength="33" lengthAdjust="spacingAndGlyphs" stroke="#000" stroke-width="0.15" >0.89875</text>
<text x="1617" y="456" font-size="10.0" fill="#000" textLength="33" lengthAdjust="spacingAndGlyphs" stroke="#000" stroke-width="0.15" >0.89645</text>
<text x="1617" y="522" font-size="10.0" fill="#000" textLength="33" lengthAdjust="spacingAndGlyphs" stroke="#000" stroke-width="0.15" >0.89185</text>
<text x="1617" y="324" font-size="10.0" fill="#000" textLength="33" lengthAdjust="spacingAndGlyphs" stroke="#000" stroke-width="0.15" >0.90565</text>
</g>
<g shape-rendering="crispEdges">
<rect x="1613" y="105" width="41" height="11" fill="#000"/>
<rect x="1613" y="163" width="41" height="11" fill="#ff0000"/>
<rect x="1613" y="318" width="41" height="11" fill="#00ff00"/>
<rect x="1613" y="478" width="41" height="11" fill="#0000ff"/>
</g>
<text x="1617" y="114" font-size="10.0" fill="#fff" textLength="33" lengthAdjust="spacingAndGlyphs" stroke="#fff" stroke-width="0.15" >0.92030</text>
<text x="1617" y="172" font-size="10.0" fill="#fff" textLength="33" lengthAdjust="spacingAndGlyphs" stroke="#fff" stroke-width="0.15" >0.91618</text>
<text x="1617" y="327" font-size="10.0" fill="#fff" textLength="33" lengthAdjust="spacingAndGlyphs" stroke="#fff" stroke-width="0.15" >0.90539</text>
<text x="1617" y="487" font-size="10.0" fill="#fff" textLength="33" lengthAdjust="spacingAndGlyphs" stroke="#fff" stroke-width="0.15" >0.89427</text>
<path d="M6 32 L13.6 32 L9.8 36.3 Z" fill="#000"/>
<text x="18.3" y="37" font-size="10.0" fill="#000" textLength="54.7" lengthAdjust="spacingAndGlyphs" stroke="#000" stroke-width="0.15" >USDCHF,H4</text>
<text x="79.1" y="37" font-size="10.0" fill="#000" textLength="32.5" lengthAdjust="spacingAndGlyphs" stroke="#000" stroke-width="0.15" >0.91952</text>
<text x="115.4" y="37" font-size="10.0" fill="#000" textLength="32.5" lengthAdjust="spacingAndGlyphs" stroke="#000" stroke-width="0.15" >0.92041</text>
<text x="151.2" y="37" font-size="10.0" fill="#000" textLength="32.5" lengthAdjust="spacingAndGlyphs" stroke="#000" stroke-width="0.15" >0.91895</text>
<text x="186.9" y="37" font-size="10.0" fill="#000" textLength="32.5" lengthAdjust="spacingAndGlyphs" stroke="#000" stroke-width="0.15" >0.92030</text>
<path d="M1282 26 L1292 26 L1287 31 Z" fill="#c0c0c0"/>
<g shape-rendering="crispEdges">
<line x1="3" y1="551.5" x2="1611" y2="551.5" stroke="#c0c0c0" stroke-width="1" stroke-dasharray="3,3"/>
<line x1="3" y1="587.5" x2="1611" y2="587.5" stroke="#c0c0c0" stroke-width="1" stroke-dasharray="3,3"/>
<rect x="1612" y="525" width="2" height="1" fill="#000"/>
<rect x="1612" y="614" width="2" height="1" fill="#000"/>
<rect x="1612" y="618" width="2" height="1" fill="#000"/>
</g>
<path shape-rendering="crispEdges" fill="#1e90ff" d="M101 577h4v1h-4zM214 577h2v1h-2zM533 577h4v1h-4zM547 577h2v1h-2zM661 577h3v1h-3zM674 577h3v1h-3zM681 577h3v1h-3zM699 577h2v1h-2zM704 577h2v1h-2zM910 577h3v1h-3zM928 577h2v1h-2zM933 577h4v1h-4zM941 577h4v1h-4zM979 577h2v1h-2zM985 577h3v1h-3zM119 573h2v1h-2zM124 573h2v1h-2zM129 573h3v1h-3zM151 573h2v1h-2zM190 573h3v1h-3zM615 573h2v1h-2zM645 573h3v1h-3zM819 573h2v1h-2zM883 573h3v1h-3zM922 573h2v1h-2zM965 573h4v1h-4zM972 573h2v1h-2zM42 579h10v1h-10zM385 579h2v1h-2zM449 579h4v1h-4zM524 579h2v1h-2zM626 579h3v1h-3zM665 579h2v1h-2zM709 579h3v1h-3zM989 579h2v1h-2zM993 579h3v1h-3zM435 585h9v1h-9zM954 585h2v1h-2zM294 563h2v1h-2zM605 563h4v1h-4zM1189 563h2v1h-2zM1203 563h6v1h-6zM17 575h3v1h-3zM134 575h2v1h-2zM180 575h2v1h-2zM185 575h3v1h-3zM209 575h3v1h-3zM217 575h2v1h-2zM518 575h2v1h-2zM558 575h3v1h-3zM650 575h7v1h-7zM917 575h3v1h-3zM925 575h2v1h-2zM121 572h3v1h-3zM149 572h2v1h-2zM153 572h3v1h-3zM314 572h2v1h-2zM594 572h3v1h-3zM643 572h2v1h-2zM821 572h4v1h-4zM886 572h3v1h-3zM974 572h2v1h-2zM230 568h2v1h-2zM331 568h2v1h-2zM355 568h10v1h-10zM719 568h2v1h-2zM789 568h2v1h-2zM793 568h3v1h-3zM848 568h2v1h-2zM1056 568h2v1h-2zM1229 568h2v1h-2zM1233 568h3v1h-3zM1247 568h2v1h-2zM7 569h5v1h-5zM199 569h2v1h-2zM301 569h2v1h-2zM499 569h2v1h-2zM509 569h3v1h-3zM721 569h3v1h-3zM749 569h2v1h-2zM791 569h2v1h-2zM796 569h2v1h-2zM837 569h2v1h-2zM845 569h3v1h-3zM897 569h2v1h-2zM1058 569h2v1h-2zM1231 569h2v1h-2zM69 582h4v1h-4zM93 582h3v1h-3zM251 582h2v1h-2zM267 582h2v1h-2zM397 582h3v1h-3zM577 582h2v1h-2zM91 581h2v1h-2zM173 581h2v1h-2zM265 581h2v1h-2zM269 581h4v1h-4zM378 581h2v1h-2zM389 581h8v1h-8zM581 581h2v1h-2zM633 581h7v1h-7zM201 570h3v1h-3zM233 570h2v1h-2zM507 570h2v1h-2zM745 570h2v1h-2zM798 570h2v1h-2zM839 570h6v1h-6zM901 570h2v1h-2zM1237 570h2v1h-2zM312 571h2v1h-2zM591 571h3v1h-3zM597 571h3v1h-3zM825 571h3v1h-3zM889 571h7v1h-7zM15 574h2v1h-2zM126 574h3v1h-3zM132 574h2v1h-2zM165 574h2v1h-2zM182 574h3v1h-3zM188 574h2v1h-2zM193 574h3v1h-3zM207 574h2v1h-2zM516 574h2v1h-2zM553 574h2v1h-2zM556 574h2v1h-2zM617 574h3v1h-3zM648 574h2v1h-2zM920 574h2v1h-2zM959 574h6v1h-6zM969 574h3v1h-3zM292 564h2v1h-2zM779 564h5v1h-5zM1213 564h2v1h-2zM1265 564h2v1h-2zM57 576h2v1h-2zM99 576h2v1h-2zM105 576h3v1h-3zM212 576h2v1h-2zM259 576h2v1h-2zM549 576h3v1h-3zM561 576h3v1h-3zM621 576h2v1h-2zM657 576h4v1h-4zM672 576h2v1h-2zM701 576h3v1h-3zM908 576h2v1h-2zM913 576h4v1h-4zM937 576h4v1h-4zM945 576h3v1h-3zM981 576h4v1h-4zM1242 576h2v1h-2zM326 560h2v1h-2zM482 560h3v1h-3zM488 560h2v1h-2zM492 560h2v1h-2zM1036 560h2v1h-2zM1185 560h2v1h-2zM1165 550h3v1h-3zM1160 552h2v1h-2zM324 561h2v1h-2zM485 561h3v1h-3zM494 561h2v1h-2zM1008 561h2v1h-2zM1017 561h3v1h-3zM1033 561h3v1h-3zM1278 561h2v1h-2zM872 556h2v1h-2zM141 567h2v1h-2zM228 567h2v1h-2zM333 567h2v1h-2zM337 567h8v1h-8zM365 567h7v1h-7zM464 567h2v1h-2zM725 567h2v1h-2zM752 567h2v1h-2zM773 567h2v1h-2zM805 567h3v1h-3zM850 567h2v1h-2zM1054 567h2v1h-2zM1065 567h2v1h-2zM1068 567h2v1h-2zM1218 567h2v1h-2zM1249 567h3v1h-3zM1258 567h3v1h-3zM40 580h2v1h-2zM89 580h2v1h-2zM273 580h7v1h-7zM376 580h2v1h-2zM387 580h2v1h-2zM583 580h5v1h-5zM629 580h4v1h-4zM991 580h2v1h-2zM287 566h2v1h-2zM335 566h2v1h-2zM345 566h3v1h-3zM466 566h2v1h-2zM754 566h3v1h-3zM786 566h2v1h-2zM803 566h2v1h-2zM1045 566h2v1h-2zM1048 566h2v1h-2zM1052 566h2v1h-2zM1070 566h2v1h-2zM1078 566h2v1h-2zM1216 566h2v1h-2zM1226 566h2v1h-2zM1252 566h2v1h-2zM1256 566h2v1h-2zM1261 566h3v1h-3zM1095 539h5v1h-5zM1110 539h7v1h-7zM1137 539h3v1h-3zM289 565h3v1h-3zM757 565h3v1h-3zM767 565h5v1h-5zM784 565h2v1h-2zM853 565h2v1h-2zM1050 565h2v1h-2zM1221 565h2v1h-2zM1224 565h2v1h-2zM1254 565h2v1h-2zM63 590h2v1h-2zM414 590h2v1h-2zM567 586h2v1h-2zM447 578h2v1h-2zM453 578h3v1h-3zM526 578h7v1h-7zM537 578h3v1h-3zM624 578h2v1h-2zM677 578h4v1h-4zM706 578h3v1h-3zM930 578h3v1h-3zM949 578h2v1h-2zM874 555h2v1h-2zM1171 555h5v1h-5zM243 587h2v1h-2zM569 587h3v1h-3zM603 562h2v1h-2zM609 562h3v1h-3zM737 562h2v1h-2zM831 562h2v1h-2zM1010 562h7v1h-7zM1027 562h6v1h-6zM1209 562h3v1h-3zM1276 562h2v1h-2zM1083 545h2v1h-2zM869 557h3v1h-3zM877 557h2v1h-2zM867 558h2v1h-2zM245 588h3v1h-3zM1085 546h7v1h-7zM1100 538h2v1h-2zM1108 538h2v1h-2zM1117 538h3v1h-3zM1126 538h11v1h-11zM81 584h3v1h-3zM67 583h2v1h-2zM73 583h8v1h-8zM253 583h3v1h-3zM1162 551h3v1h-3zM480 559h2v1h-2zM490 559h2v1h-2zM1038 559h2v1h-2zM409 592h3v1h-3zM418 592h3v1h-3zM1102 537h6v1h-6zM1120 537h2v1h-2zM1124 537h2v1h-2zM1147 553h5v1h-5zM412 591h2v1h-2zM416 591h2v1h-2zM429 594h3v1h-3zM1122 536h2v1h-2zM407 593h2v1h-2zM421 593h8v1h-8zM690 577h1v2h-1zM219 574h1v1h-1zM956 582h1v3h-1zM242 584h1v2h-1zM371 568h1v1h-1zM883 572h1v1h-1zM883 574h1v1h-1zM22 572h1v1h-1zM546 578h1v1h-1zM1199 567h1v1h-1zM603 563h1v1h-1zM352 563h1v2h-1zM1264 565h1v1h-1zM614 569h1v3h-1zM478 559h1v2h-1zM1002 565h1v1h-1zM469 568h1v2h-1zM375 578h1v2h-1zM670 576h1v1h-1zM1215 565h1v1h-1zM1184 559h1v1h-1zM732 569h1v2h-1zM1082 548h1v6h-1zM1067 568h1v1h-1zM880 560h1v4h-1zM25 573h1v2h-1zM1040 560h1v1h-1zM599 570h1v1h-1zM816 577h1v2h-1zM1094 540h1v2h-1zM169 577h1v1h-1zM800 569h1v1h-1zM1146 550h1v2h-1zM1169 552h1v2h-1zM474 565h1v2h-1zM998 570h1v3h-1zM86 579h1v2h-1zM97 579h1v1h-1zM496 563h1v2h-1zM865 555h1v1h-1zM67 584h1v1h-1zM204 571h1v1h-1zM28 574h1v2h-1zM256 581h1v2h-1zM1021 563h1v2h-1zM162 573h1v2h-1zM322 563h1v1h-1zM906 574h1v1h-1zM446 579h1v2h-1zM248 586h1v2h-1zM728 567h1v1h-1zM572 585h1v2h-1zM712 577h1v2h-1zM1047 567h1v1h-1zM1024 565h1v1h-1zM158 576h1v2h-1zM241 582h1v2h-1zM317 569h1v2h-1zM108 575h1v1h-1zM462 569h1v1h-1zM831 561h1v1h-1zM1081 554h1v5h-1zM13 571h1v2h-1zM24 572h1v1h-1zM808 568h1v1h-1zM348 565h1v1h-1zM1271 567h1v1h-1zM613 567h1v2h-1zM579 583h1v1h-1zM264 580h1v1h-1zM959 575h1v1h-1zM697 574h1v2h-1zM457 575h1v1h-1zM689 579h1v2h-1zM374 575h1v3h-1zM1180 561h1v1h-1zM176 580h1v2h-1zM1236 569h1v1h-1zM305 572h1v2h-1zM522 579h1v1h-1zM157 575h1v1h-1zM788 567h1v1h-1zM138 570h1v2h-1zM545 579h1v2h-1zM286 567h1v2h-1zM32 571h1v1h-1zM727 566h1v1h-1zM864 553h1v2h-1zM640 578h1v2h-1zM329 564h1v2h-1zM1020 562h1v1h-1zM1093 542h1v2h-1zM351 562h1v1h-1zM1274 564h1v1h-1zM747 571h1v1h-1zM1157 555h1v1h-1zM434 587h1v2h-1zM36 576h1v2h-1zM226 567h1v1h-1zM5 571h1v2h-1zM834 565h1v2h-1zM591 570h1v1h-1zM761 562h1v2h-1zM575 580h1v1h-1zM282 574h1v2h-1zM20 574h1v1h-1zM62 586h1v4h-1zM263 579h1v1h-1zM1080 559h1v6h-1zM400 583h1v2h-1zM997 573h1v2h-1zM85 581h1v1h-1zM433 589h1v2h-1zM830 563h1v2h-1zM955 586h1v1h-1zM696 573h1v1h-1zM1042 563h1v1h-1zM1145 547h1v3h-1zM590 572h1v2h-1zM381 579h1v1h-1zM445 581h1v2h-1zM331 569h1v1h-1zM521 577h1v2h-1zM1043 564h1v1h-1zM958 576h1v3h-1zM281 576h1v2h-1zM61 583h1v3h-1zM198 570h1v1h-1zM477 561h1v1h-1zM1141 541h1v1h-1zM1004 563h1v1h-1zM156 573h1v2h-1zM879 558h1v2h-1zM860 555h1v1h-1zM1142 542h1v1h-1zM566 583h1v2h-1zM240 580h1v2h-1zM669 577h1v2h-1zM829 565h1v3h-1zM1270 566h1v1h-1zM243 586h1v1h-1zM1198 568h1v1h-1zM506 569h1v1h-1zM567 585h1v1h-1zM715 572h1v1h-1zM35 575h1v1h-1zM1073 564h1v1h-1zM988 578h1v1h-1zM882 568h1v4h-1zM833 564h1v1h-1zM309 572h1v2h-1zM814 577h1v2h-1zM175 582h1v1h-1zM27 576h1v1h-1zM856 562h1v2h-1zM321 564h1v2h-1zM115 567h1v1h-1zM145 568h1v1h-1zM742 566h1v2h-1zM502 567h1v1h-1zM951 579h1v1h-1zM54 575h1v1h-1zM692 575h1v1h-1zM221 572h1v1h-1zM954 584h1v1h-1zM1061 567h1v1h-1zM735 564h1v1h-1zM1092 544h1v2h-1zM642 574h1v2h-1zM316 571h1v1h-1zM319 567h1v1h-1zM996 575h1v3h-1zM328 562h1v2h-1zM730 570h1v1h-1zM206 573h1v1h-1zM456 576h1v2h-1zM543 582h1v1h-1zM239 578h1v2h-1zM688 581h1v2h-1zM354 566h1v2h-1zM1079 565h1v1h-1zM1079 567h1v1h-1zM1194 569h1v2h-1zM775 568h1v1h-1zM809 569h1v2h-1zM39 581h1v1h-1zM1246 570h1v2h-1zM589 574h1v3h-1zM818 574h1v2h-1zM810 571h1v1h-1zM118 571h1v2h-1zM802 567h1v1h-1zM96 580h1v2h-1zM999 568h1v2h-1zM285 569h1v2h-1zM924 574h1v1h-1zM402 586h1v2h-1zM236 572h1v2h-1zM957 579h1v3h-1zM612 564h1v3h-1zM927 576h1v1h-1zM403 588h1v1h-1zM250 583h1v2h-1zM110 573h1v1h-1zM741 564h1v2h-1zM30 571h1v2h-1zM859 556h1v2h-1zM373 572h1v3h-1zM1026 563h1v1h-1zM828 568h1v2h-1zM137 572h1v1h-1zM1144 545h1v2h-1zM574 581h1v2h-1zM159 578h1v1h-1zM170 578h1v1h-1zM505 568h1v1h-1zM4 573h1v1h-1zM34 574h1v1h-1zM684 578h1v2h-1zM350 563h1v1h-1zM327 561h1v1h-1zM205 572h1v1h-1zM1156 556h1v1h-1zM171 579h1v1h-1zM372 569h1v3h-1zM432 591h1v2h-1zM729 568h1v2h-1zM855 564h1v1h-1zM38 579h1v2h-1zM623 577h1v1h-1zM444 583h1v2h-1zM1212 563h1v1h-1zM813 575h1v2h-1zM1182 559h1v1h-1zM63 591h1v1h-1zM1193 567h1v2h-1zM513 571h1v1h-1zM259 575h1v1h-1zM565 580h1v3h-1zM836 568h1v1h-1zM197 571h1v2h-1zM881 564h1v4h-1zM1152 554h1v1h-1zM178 577h1v2h-1zM555 573h1v1h-1zM641 576h1v2h-1zM862 553h1v1h-1zM953 582h1v2h-1zM1228 567h1v1h-1zM140 568h1v1h-1zM698 576h1v1h-1zM330 566h1v2h-1zM1200 566h1v1h-1zM113 569h1v2h-1zM258 577h1v2h-1zM1075 562h1v1h-1zM1273 565h1v1h-1zM1022 565h1v1h-1zM498 567h1v2h-1zM1223 564h1v1h-1zM1143 543h1v2h-1zM512 570h1v1h-1zM60 579h1v4h-1zM284 571h1v2h-1zM33 572h1v2h-1zM296 564h1v1h-1zM53 576h1v2h-1zM904 572h1v1h-1zM694 573h1v1h-1zM223 570h1v1h-1zM37 578h1v1h-1zM1063 565h1v1h-1zM760 564h1v1h-1zM664 578h1v1h-1zM383 577h1v1h-1zM1178 560h1v2h-1zM812 573h1v2h-1zM235 571h1v1h-1zM1064 566h1v1h-1zM459 572h1v1h-1zM216 576h1v1h-1zM280 578h1v2h-1zM615 572h1v1h-1zM952 580h1v2h-1zM1006 561h1v1h-1zM740 562h1v2h-1zM573 583h1v2h-1zM220 573h1v1h-1zM1003 564h1v1h-1zM147 570h1v1h-1zM744 569h1v1h-1zM995 578h1v1h-1zM588 577h1v2h-1zM714 573h1v2h-1zM717 570h1v1h-1zM148 571h1v1h-1zM903 571h1v1h-1zM686 581h1v2h-1zM1044 565h1v1h-1zM1083 546h1v2h-1zM1245 572h1v2h-1zM751 568h1v1h-1zM668 579h1v1h-1zM238 576h1v2h-1zM835 567h1v1h-1zM763 560h1v1h-1zM311 570h1v1h-1zM177 579h1v1h-1zM1192 565h1v2h-1zM116 568h1v2h-1zM815 579h1v1h-1zM858 558h1v2h-1zM576 581h1v1h-1zM724 568h1v1h-1zM473 567h1v2h-1zM136 573h1v2h-1zM117 570h1v1h-1zM66 585h1v2h-1zM1177 558h1v2h-1zM401 585h1v1h-1zM1158 554h1v1h-1zM435 586h1v1h-1zM146 569h1v1h-1zM227 566h1v1h-1zM405 590h1v2h-1zM743 568h1v1h-1zM899 568h1v1h-1zM1025 564h1v1h-1zM303 570h1v1h-1zM777 566h1v1h-1zM671 575h1v1h-1zM431 593h1v1h-1zM580 582h1v1h-1zM172 580h1v1h-1zM1195 571h1v1h-1zM1001 566h1v1h-1zM59 577h1v2h-1zM731 571h1v1h-1zM801 568h1v1h-1zM237 574h1v2h-1zM1241 574h1v1h-1zM811 572h1v1h-1zM112 571h1v1h-1zM1191 564h1v1h-1zM29 573h1v1h-1zM564 578h1v2h-1zM257 579h1v2h-1zM1275 563h1v1h-1zM249 585h1v1h-1zM501 568h1v1h-1zM713 575h1v2h-1zM139 569h1v1h-1zM1154 556h1v1h-1zM318 568h1v1h-1zM109 574h1v1h-1zM161 575h1v1h-1zM602 564h1v2h-1zM739 561h1v1h-1zM404 589h1v1h-1zM499 570h1v1h-1zM1077 564h1v2h-1zM857 560h1v2h-1zM21 573h1v1h-1zM458 573h1v2h-1zM461 570h1v1h-1zM1267 563h1v1h-1zM765 562h1v2h-1zM222 571h1v1h-1zM1268 564h1v1h-1zM766 564h1v1h-1zM1176 556h1v2h-1zM298 566h1v1h-1zM515 573h1v1h-1zM861 554h1v1h-1zM1179 562h1v1h-1zM948 577h1v1h-1zM563 577h1v1h-1zM1244 574h1v2h-1zM1074 563h1v1h-1zM6 570h1v1h-1zM1153 555h1v1h-1zM143 566h1v1h-1zM544 581h1v1h-1zM283 573h1v1h-1zM225 568h1v1h-1zM65 587h1v2h-1zM685 580h1v1h-1zM1187 561h1v1h-1zM55 574h1v1h-1zM1023 566h1v1h-1zM1240 572h1v2h-1zM978 576h1v1h-1zM876 556h1v1h-1zM772 566h1v1h-1zM540 579h1v1h-1zM1062 566h1v1h-1zM1202 564h1v1h-1zM541 580h1v1h-1zM514 572h1v1h-1zM734 565h1v2h-1zM1005 562h1v1h-1zM160 576h1v2h-1zM601 566h1v2h-1zM476 562h1v2h-1zM716 571h1v1h-1zM1076 563h1v1h-1zM552 575h1v1h-1zM639 580h1v1h-1zM776 567h1v1h-1zM472 569h1v2h-1zM84 582h1v2h-1zM168 576h1v1h-1zM1072 565h1v1h-1zM620 575h1v1h-1zM503 566h1v1h-1zM495 562h1v1h-1zM1239 571h1v1h-1zM297 565h1v1h-1zM308 574h1v1h-1zM905 573h1v1h-1zM643 573h1v1h-1zM111 572h1v1h-1zM320 566h1v1h-1zM764 561h1v1h-1zM384 578h1v1h-1zM1243 577h1v1h-1zM691 576h1v1h-1zM406 592h1v1h-1zM23 571h1v1h-1zM852 566h1v1h-1zM1183 558h1v1h-1zM1197 569h1v1h-1zM977 574h1v2h-1zM468 567h1v1h-1zM1168 551h1v1h-1zM1000 567h1v1h-1zM687 583h1v1h-1zM179 576h1v1h-1zM323 562h1v1h-1zM114 568h1v1h-1zM817 576h1v1h-1zM31 570h1v1h-1zM232 569h1v1h-1zM87 578h1v1h-1zM1060 568h1v1h-1zM380 580h1v1h-1zM1220 566h1v1h-1zM88 579h1v1h-1zM479 558h1v1h-1zM164 573h1v1h-1zM262 578h1v1h-1zM900 569h1v1h-1zM167 575h1v1h-1zM304 571h1v1h-1zM1155 557h1v1h-1zM733 567h1v2h-1zM12 570h1v1h-1zM976 573h1v1h-1zM224 569h1v1h-1zM497 565h1v2h-1zM64 589h1v1h-1zM1247 569h1v1h-1zM600 568h1v2h-1zM863 552h1v1h-1zM1181 560h1v1h-1zM98 577h1v2h-1zM520 576h1v1h-1zM866 556h1v2h-1zM1201 565h1v1h-1zM1242 575h1v1h-1zM261 577h1v1h-1zM1269 565h1v1h-1zM475 564h1v1h-1zM748 570h1v1h-1zM463 568h1v1h-1zM3 574h1v1h-1zM349 564h1v1h-1zM163 572h1v1h-1zM1272 566h1v1h-1zM300 568h1v1h-1zM695 572h1v1h-1zM26 575h1v1h-1zM1041 561h1v2h-1zM144 567h1v1h-1zM1170 554h1v1h-1zM460 571h1v1h-1zM471 571h1v1h-1zM52 578h1v1h-1zM1007 560h1v1h-1zM736 563h1v1h-1zM307 575h1v1h-1zM1188 562h1v1h-1zM56 575h1v1h-1zM778 565h1v1h-1zM196 573h1v1h-1zM718 569h1v1h-1zM299 567h1v1h-1zM832 563h1v1h-1zM542 581h1v1h-1zM907 575h1v1h-1zM353 565h1v1h-1zM827 570h1v1h-1zM587 579h1v1h-1zM470 570h1v1h-1zM1196 570h1v1h-1zM306 574h1v1h-1zM14 573h1v1h-1zM611 563h1v1h-1zM1147 552h1v1h-1zM667 580h1v1h-1zM762 561h1v1h-1zM382 578h1v1h-1zM310 571h1v1h-1zM896 570h1v1h-1zM1140 540h1v1h-1zM1159 553h1v1h-1zM693 574h1v1h-1zM504 567h1v1h-1zM523 580h1v1h-1z"/>
<text x="7" y="536" font-size="10.0" fill="#000" textLength="68" lengthAdjust="spacingAndGlyphs" stroke="#000" stroke-width="0.15" >RSI(14) 59.5365</text>
<text x="1615.4" y="534" font-size="10.0" fill="#000" textLength="14.4" lengthAdjust="spacingAndGlyphs" stroke="#000" stroke-width="0.15" >100</text>
<text x="1614.6" y="555" font-size="10.0" fill="#000" textLength="9.3" lengthAdjust="spacingAndGlyphs" stroke="#000" stroke-width="0.15" >70</text>
<text x="1614.6" y="591" font-size="10.0" fill="#000" textLength="9.3" lengthAdjust="spacingAndGlyphs" stroke="#000" stroke-width="0.15" >30</text>
<text x="1615" y="611" font-size="10.0" fill="#000" textLength="4.6" lengthAdjust="spacingAndGlyphs" stroke="#000" stroke-width="0.15" >0</text>
<g id="macd" shape-rendering="crispEdges">
<rect x="3" y="672" width="1" height="15" fill="#c0c0c0"/>
<rect x="7" y="672" width="1" height="12" fill="#c0c0c0"/>
<rect x="11" y="672" width="1" height="10" fill="#c0c0c0"/>
<rect x="15" y="672" width="1" height="10" fill="#c0c0c0"/>
<rect x="19" y="672" width="1" height="9" fill="#c0c0c0"/>
<rect x="23" y="672" width="1" height="8" fill="#c0c0c0"/>
<rect x="27" y="672" width="1" height="8" fill="#c0c0c0"/>
<rect x="31" y="672" width="1" height="7" fill="#c0c0c0"/>
<rect x="35" y="672" width="1" height="7" fill="#c0c0c0"/>
<rect x="39" y="672" width="1" height="9" fill="#c0c0c0"/>
<rect x="43" y="672" width="1" height="9" fill="#c0c0c0"/>
<rect x="47" y="672" width="1" height="10" fill="#c0c0c0"/>
<rect x="51" y="672" width="1" height="10" fill="#c0c0c0"/>
<rect x="55" y="672" width="1" height="9" fill="#c0c0c0"/>
<rect x="59" y="672" width="1" height="9" fill="#c0c0c0"/>
<rect x="63" y="672" width="1" height="14" fill="#c0c0c0"/>
<rect x="67" y="672" width="1" height="16" fill="#c0c0c0"/>
<rect x="71" y="672" width="1" height="17" fill="#c0c0c0"/>
<rect x="75" y="672" width="1" height="18" fill="#c0c0c0"/>
<rect x="79" y="672" width="1" height="18" fill="#c0c0c0"/>
<rect x="83" y="672" width="1" height="19" fill="#c0c0c0"/>
<rect x="87" y="672" width="1" height="18" fill="#c0c0c0"/>
<rect x="91" y="672" width="1" height="18" fill="#c0c0c0"/>
<rect x="95" y="672" width="1" height="18" fill="#c0c0c0"/>
<rect x="99" y="672" width="1" height="17" fill="#c0c0c0"/>
<rect x="103" y="672" width="1" height="16" fill="#c0c0c0"/>
<rect x="107" y="672" width="1" height="15" fill="#c0c0c0"/>
<rect x="111" y="672" width="1" height="13" fill="#c0c0c0"/>
<rect x="115" y="672" width="1" height="11" fill="#c0c0c0"/>
<rect x="119" y="672" width="1" height="10" fill="#c0c0c0"/>
<rect x="123" y="672" width="1" height="9" fill="#c0c0c0"/>
<rect x="127" y="672" width="1" height="9" fill="#c0c0c0"/>
<rect x="131" y="672" width="1" height="8" fill="#c0c0c0"/>
<rect x="135" y="672" width="1" height="8" fill="#c0c0c0"/>
<rect x="139" y="672" width="1" height="7" fill="#c0c0c0"/>
<rect x="143" y="672" width="1" height="5" fill="#c0c0c0"/>
<rect x="147" y="672" width="1" height="4" fill="#c0c0c0"/>
<rect x="151" y="672" width="1" height="4" fill="#c0c0c0"/>
<rect x="155" y="672" width="1" height="4" fill="#c0c0c0"/>
<rect x="159" y="672" width="1" height="6" fill="#c0c0c0"/>
<rect x="163" y="672" width="1" height="5" fill="#c0c0c0"/>
<rect x="167" y="672" width="1" height="6" fill="#c0c0c0"/>
<rect x="171" y="672" width="1" height="7" fill="#c0c0c0"/>
<rect x="175" y="672" width="1" height="9" fill="#c0c0c0"/>
<rect x="179" y="672" width="1" height="9" fill="#c0c0c0"/>
<rect x="183" y="672" width="1" height="9" fill="#c0c0c0"/>
<rect x="187" y="672" width="1" height="9" fill="#c0c0c0"/>
<rect x="191" y="672" width="1" height="8" fill="#c0c0c0"/>
<rect x="195" y="672" width="1" height="8" fill="#c0c0c0"/>
<rect x="199" y="672" width="1" height="7" fill="#c0c0c0"/>
<rect x="203" y="672" width="1" height="6" fill="#c0c0c0"/>
<rect x="207" y="672" width="1" height="6" fill="#c0c0c0"/>
<rect x="211" y="672" width="1" height="6" fill="#c0c0c0"/>
<rect x="215" y="672" width="1" height="7" fill="#c0c0c0"/>
<rect x="219" y="672" width="1" height="6" fill="#c0c0c0"/>
<rect x="223" y="672" width="1" height="6" fill="#c0c0c0"/>
<rect x="227" y="672" width="1" height="4" fill="#c0c0c0"/>
<rect x="231" y="672" width="1" height="3" fill="#c0c0c0"/>
<rect x="235" y="672" width="1" height="3" fill="#c0c0c0"/>
<rect x="239" y="672" width="1" height="5" fill="#c0c0c0"/>
<rect x="243" y="672" width="1" height="8" fill="#c0c0c0"/>
<rect x="247" y="672" width="1" height="11" fill="#c0c0c0"/>
<rect x="251" y="672" width="1" height="12" fill="#c0c0c0"/>
<rect x="255" y="672" width="1" height="14" fill="#c0c0c0"/>
<rect x="259" y="672" width="1" height="13" fill="#c0c0c0"/>
<rect x="263" y="672" width="1" height="13" fill="#c0c0c0"/>
<rect x="267" y="672" width="1" height="14" fill="#c0c0c0"/>
<rect x="271" y="672" width="1" height="15" fill="#c0c0c0"/>
<rect x="275" y="672" width="1" height="15" fill="#c0c0c0"/>
<rect x="279" y="672" width="1" height="15" fill="#c0c0c0"/>
<rect x="283" y="672" width="1" height="14" fill="#c0c0c0"/>
<rect x="287" y="672" width="1" height="11" fill="#c0c0c0"/>
<rect x="291" y="672" width="1" height="8" fill="#c0c0c0"/>
<rect x="295" y="672" width="1" height="6" fill="#c0c0c0"/>
<rect x="299" y="672" width="1" height="4" fill="#c0c0c0"/>
<rect x="303" y="672" width="1" height="4" fill="#c0c0c0"/>
<rect x="307" y="672" width="1" height="4" fill="#c0c0c0"/>
<rect x="311" y="672" width="1" height="4" fill="#c0c0c0"/>
<rect x="315" y="672" width="1" height="4" fill="#c0c0c0"/>
<rect x="319" y="672" width="1" height="3" fill="#c0c0c0"/>
<rect x="323" y="672" width="1" height="1" fill="#c0c0c0"/>
<rect x="327" y="670" width="1" height="2" fill="#c0c0c0"/>
<rect x="331" y="670" width="1" height="2" fill="#c0c0c0"/>
<rect x="335" y="670" width="1" height="2" fill="#c0c0c0"/>
<rect x="339" y="669" width="1" height="3" fill="#c0c0c0"/>
<rect x="343" y="669" width="1" height="3" fill="#c0c0c0"/>
<rect x="347" y="669" width="1" height="3" fill="#c0c0c0"/>
<rect x="351" y="668" width="1" height="4" fill="#c0c0c0"/>
<rect x="355" y="668" width="1" height="4" fill="#c0c0c0"/>
<rect x="359" y="669" width="1" height="3" fill="#c0c0c0"/>
<rect x="363" y="669" width="1" height="3" fill="#c0c0c0"/>
<rect x="367" y="669" width="1" height="3" fill="#c0c0c0"/>
<rect x="371" y="669" width="1" height="3" fill="#c0c0c0"/>
<rect x="375" y="672" width="1" height="1" fill="#c0c0c0"/>
<rect x="379" y="672" width="1" height="3" fill="#c0c0c0"/>
<rect x="383" y="672" width="1" height="4" fill="#c0c0c0"/>
<rect x="387" y="672" width="1" height="6" fill="#c0c0c0"/>
<rect x="391" y="672" width="1" height="8" fill="#c0c0c0"/>
<rect x="395" y="672" width="1" height="10" fill="#c0c0c0"/>
<rect x="399" y="672" width="1" height="11" fill="#c0c0c0"/>
<rect x="403" y="672" width="1" height="14" fill="#c0c0c0"/>
<rect x="407" y="672" width="1" height="18" fill="#c0c0c0"/>
<rect x="411" y="672" width="1" height="21" fill="#c0c0c0"/>
<rect x="415" y="672" width="1" height="23" fill="#c0c0c0"/>
<rect x="419" y="672" width="1" height="25" fill="#c0c0c0"/>
<rect x="423" y="672" width="1" height="27" fill="#c0c0c0"/>
<rect x="427" y="672" width="1" height="28" fill="#c0c0c0"/>
<rect x="431" y="672" width="1" height="29" fill="#c0c0c0"/>
<rect x="435" y="672" width="1" height="28" fill="#c0c0c0"/>
<rect x="439" y="672" width="1" height="27" fill="#c0c0c0"/>
<rect x="443" y="672" width="1" height="26" fill="#c0c0c0"/>
<rect x="447" y="672" width="1" height="24" fill="#c0c0c0"/>
<rect x="451" y="672" width="1" height="23" fill="#c0c0c0"/>
<rect x="455" y="672" width="1" height="21" fill="#c0c0c0"/>
<rect x="459" y="672" width="1" height="18" fill="#c0c0c0"/>
<rect x="463" y="672" width="1" height="15" fill="#c0c0c0"/>
<rect x="467" y="672" width="1" height="12" fill="#c0c0c0"/>
<rect x="471" y="672" width="1" height="11" fill="#c0c0c0"/>
<rect x="475" y="672" width="1" height="8" fill="#c0c0c0"/>
<rect x="479" y="672" width="1" height="4" fill="#c0c0c0"/>
<rect x="483" y="672" width="1" height="1" fill="#c0c0c0"/>
<rect x="487" y="671" width="1" height="1" fill="#c0c0c0"/>
<rect x="491" y="668" width="1" height="4" fill="#c0c0c0"/>
<rect x="495" y="667" width="1" height="5" fill="#c0c0c0"/>
<rect x="499" y="668" width="1" height="4" fill="#c0c0c0"/>
<rect x="503" y="668" width="1" height="4" fill="#c0c0c0"/>
<rect x="507" y="669" width="1" height="3" fill="#c0c0c0"/>
<rect x="511" y="669" width="1" height="3" fill="#c0c0c0"/>
<rect x="515" y="671" width="1" height="1" fill="#c0c0c0"/>
<rect x="519" y="672" width="1" height="1" fill="#c0c0c0"/>
<rect x="523" y="672" width="1" height="3" fill="#c0c0c0"/>
<rect x="527" y="672" width="1" height="5" fill="#c0c0c0"/>
<rect x="531" y="672" width="1" height="6" fill="#c0c0c0"/>
<rect x="535" y="672" width="1" height="7" fill="#c0c0c0"/>
<rect x="539" y="672" width="1" height="7" fill="#c0c0c0"/>
<rect x="543" y="672" width="1" height="9" fill="#c0c0c0"/>
<rect x="547" y="672" width="1" height="9" fill="#c0c0c0"/>
<rect x="551" y="672" width="1" height="9" fill="#c0c0c0"/>
<rect x="555" y="672" width="1" height="9" fill="#c0c0c0"/>
<rect x="559" y="672" width="1" height="9" fill="#c0c0c0"/>
<rect x="563" y="672" width="1" height="9" fill="#c0c0c0"/>
<rect x="567" y="672" width="1" height="11" fill="#c0c0c0"/>
<rect x="571" y="672" width="1" height="14" fill="#c0c0c0"/>
<rect x="575" y="672" width="1" height="14" fill="#c0c0c0"/>
<rect x="579" y="672" width="1" height="15" fill="#c0c0c0"/>
<rect x="583" y="672" width="1" height="16" fill="#c0c0c0"/>
<rect x="587" y="672" width="1" height="16" fill="#c0c0c0"/>
<rect x="591" y="672" width="1" height="13" fill="#c0c0c0"/>
<rect x="595" y="672" width="1" height="12" fill="#c0c0c0"/>
<rect x="599" y="672" width="1" height="11" fill="#c0c0c0"/>
<rect x="603" y="672" width="1" height="7" fill="#c0c0c0"/>
<rect x="607" y="672" width="1" height="5" fill="#c0c0c0"/>
<rect x="611" y="672" width="1" height="2" fill="#c0c0c0"/>
<rect x="615" y="672" width="1" height="3" fill="#c0c0c0"/>
<rect x="619" y="672" width="1" height="4" fill="#c0c0c0"/>
<rect x="623" y="672" width="1" height="5" fill="#c0c0c0"/>
<rect x="627" y="672" width="1" height="7" fill="#c0c0c0"/>
<rect x="631" y="672" width="1" height="9" fill="#c0c0c0"/>
<rect x="635" y="672" width="1" height="10" fill="#c0c0c0"/>
<rect x="639" y="672" width="1" height="11" fill="#c0c0c0"/>
<rect x="643" y="672" width="1" height="10" fill="#c0c0c0"/>
<rect x="647" y="672" width="1" height="9" fill="#c0c0c0"/>
<rect x="651" y="672" width="1" height="9" fill="#c0c0c0"/>
<rect x="655" y="672" width="1" height="9" fill="#c0c0c0"/>
<rect x="659" y="672" width="1" height="9" fill="#c0c0c0"/>
<rect x="663" y="672" width="1" height="9" fill="#c0c0c0"/>
<rect x="667" y="672" width="1" height="10" fill="#c0c0c0"/>
<rect x="671" y="672" width="1" height="9" fill="#c0c0c0"/>
<rect x="675" y="672" width="1" height="10" fill="#c0c0c0"/>
<rect x="679" y="672" width="1" height="10" fill="#c0c0c0"/>
<rect x="683" y="672" width="1" height="10" fill="#c0c0c0"/>
<rect x="687" y="672" width="1" height="11" fill="#c0c0c0"/>
<rect x="691" y="672" width="1" height="11" fill="#c0c0c0"/>
<rect x="695" y="672" width="1" height="10" fill="#c0c0c0"/>
<rect x="699" y="672" width="1" height="10" fill="#c0c0c0"/>
<rect x="703" y="672" width="1" height="10" fill="#c0c0c0"/>
<rect x="707" y="672" width="1" height="10" fill="#c0c0c0"/>
<rect x="711" y="672" width="1" height="11" fill="#c0c0c0"/>
<rect x="715" y="672" width="1" height="10" fill="#c0c0c0"/>
<rect x="719" y="672" width="1" height="8" fill="#c0c0c0"/>
<rect x="723" y="672" width="1" height="7" fill="#c0c0c0"/>
<rect x="727" y="672" width="1" height="5" fill="#c0c0c0"/>
<rect x="731" y="672" width="1" height="4" fill="#c0c0c0"/>
<rect x="735" y="672" width="1" height="3" fill="#c0c0c0"/>
<rect x="739" y="672" width="1" height="1" fill="#c0c0c0"/>
<rect x="743" y="672" width="1" height="1" fill="#c0c0c0"/>
<rect x="747" y="672" width="1" height="1" fill="#c0c0c0"/>
<rect x="751" y="672" width="1" height="1" fill="#c0c0c0"/>
<rect x="755" y="672" width="1" height="1" fill="#c0c0c0"/>
<rect x="759" y="671" width="1" height="1" fill="#c0c0c0"/>
<rect x="763" y="669" width="1" height="3" fill="#c0c0c0"/>
<rect x="767" y="668" width="1" height="4" fill="#c0c0c0"/>
<rect x="771" y="668" width="1" height="4" fill="#c0c0c0"/>
<rect x="775" y="668" width="1" height="4" fill="#c0c0c0"/>
<rect x="779" y="668" width="1" height="4" fill="#c0c0c0"/>
<rect x="783" y="667" width="1" height="5" fill="#c0c0c0"/>
<rect x="787" y="667" width="1" height="5" fill="#c0c0c0"/>
<rect x="791" y="668" width="1" height="4" fill="#c0c0c0"/>
<rect x="795" y="668" width="1" height="4" fill="#c0c0c0"/>
<rect x="799" y="669" width="1" height="3" fill="#c0c0c0"/>
<rect x="803" y="669" width="1" height="3" fill="#c0c0c0"/>
<rect x="807" y="669" width="1" height="3" fill="#c0c0c0"/>
<rect x="811" y="670" width="1" height="2" fill="#c0c0c0"/>
<rect x="815" y="672" width="1" height="1" fill="#c0c0c0"/>
<rect x="819" y="672" width="1" height="1" fill="#c0c0c0"/>
<rect x="823" y="672" width="1" height="2" fill="#c0c0c0"/>
<rect x="827" y="672" width="1" height="2" fill="#c0c0c0"/>
<rect x="831" y="672" width="1" height="1" fill="#c0c0c0"/>
<rect x="835" y="671" width="1" height="1" fill="#c0c0c0"/>
<rect x="839" y="672" width="1" height="1" fill="#c0c0c0"/>
<rect x="843" y="672" width="1" height="1" fill="#c0c0c0"/>
<rect x="847" y="672" width="1" height="1" fill="#c0c0c0"/>
<rect x="851" y="672" width="1" height="1" fill="#c0c0c0"/>
<rect x="855" y="671" width="1" height="1" fill="#c0c0c0"/>
<rect x="859" y="668" width="1" height="4" fill="#c0c0c0"/>
<rect x="863" y="664" width="1" height="8" fill="#c0c0c0"/>
<rect x="867" y="662" width="1" height="10" fill="#c0c0c0"/>
<rect x="871" y="661" width="1" height="11" fill="#c0c0c0"/>
<rect x="875" y="659" width="1" height="13" fill="#c0c0c0"/>
<rect x="879" y="659" width="1" height="13" fill="#c0c0c0"/>
<rect x="883" y="662" width="1" height="10" fill="#c0c0c0"/>
<rect x="887" y="664" width="1" height="8" fill="#c0c0c0"/>
<rect x="891" y="666" width="1" height="6" fill="#c0c0c0"/>
<rect x="895" y="668" width="1" height="4" fill="#c0c0c0"/>
<rect x="899" y="668" width="1" height="4" fill="#c0c0c0"/>
<rect x="903" y="669" width="1" height="3" fill="#c0c0c0"/>
<rect x="907" y="671" width="1" height="1" fill="#c0c0c0"/>
<rect x="911" y="672" width="1" height="1" fill="#c0c0c0"/>
<rect x="915" y="672" width="1" height="3" fill="#c0c0c0"/>
<rect x="919" y="672" width="1" height="4" fill="#c0c0c0"/>
<rect x="923" y="672" width="1" height="4" fill="#c0c0c0"/>
<rect x="927" y="672" width="1" height="5" fill="#c0c0c0"/>
<rect x="931" y="672" width="1" height="6" fill="#c0c0c0"/>
<rect x="935" y="672" width="1" height="7" fill="#c0c0c0"/>
<rect x="939" y="672" width="1" height="7" fill="#c0c0c0"/>
<rect x="943" y="672" width="1" height="8" fill="#c0c0c0"/>
<rect x="947" y="672" width="1" height="8" fill="#c0c0c0"/>
<rect x="951" y="672" width="1" height="8" fill="#c0c0c0"/>
<rect x="955" y="672" width="1" height="11" fill="#c0c0c0"/>
<rect x="959" y="672" width="1" height="10" fill="#c0c0c0"/>
<rect x="963" y="672" width="1" height="10" fill="#c0c0c0"/>
<rect x="967" y="672" width="1" height="9" fill="#c0c0c0"/>
<rect x="971" y="672" width="1" height="9" fill="#c0c0c0"/>
<rect x="975" y="672" width="1" height="8" fill="#c0c0c0"/>
<rect x="979" y="672" width="1" height="8" fill="#c0c0c0"/>
<rect x="983" y="672" width="1" height="8" fill="#c0c0c0"/>
<rect x="987" y="672" width="1" height="8" fill="#c0c0c0"/>
<rect x="991" y="672" width="1" height="9" fill="#c0c0c0"/>
<rect x="995" y="672" width="1" height="9" fill="#c0c0c0"/>
<rect x="999" y="672" width="1" height="8" fill="#c0c0c0"/>
<rect x="1003" y="672" width="1" height="5" fill="#c0c0c0"/>
<rect x="1007" y="672" width="1" height="3" fill="#c0c0c0"/>
<rect x="1011" y="672" width="1" height="1" fill="#c0c0c0"/>
<rect x="1015" y="671" width="1" height="1" fill="#c0c0c0"/>
<rect x="1019" y="670" width="1" height="2" fill="#c0c0c0"/>
<rect x="1023" y="670" width="1" height="2" fill="#c0c0c0"/>
<rect x="1027" y="669" width="1" height="3" fill="#c0c0c0"/>
<rect x="1031" y="668" width="1" height="4" fill="#c0c0c0"/>
<rect x="1035" y="667" width="1" height="5" fill="#c0c0c0"/>
<rect x="1039" y="666" width="1" height="6" fill="#c0c0c0"/>
<rect x="1043" y="666" width="1" height="6" fill="#c0c0c0"/>
<rect x="1047" y="667" width="1" height="5" fill="#c0c0c0"/>
<rect x="1051" y="667" width="1" height="5" fill="#c0c0c0"/>
<rect x="1055" y="667" width="1" height="5" fill="#c0c0c0"/>
<rect x="1059" y="668" width="1" height="4" fill="#c0c0c0"/>
<rect x="1063" y="668" width="1" height="4" fill="#c0c0c0"/>
<rect x="1067" y="669" width="1" height="3" fill="#c0c0c0"/>
<rect x="1071" y="669" width="1" height="3" fill="#c0c0c0"/>
<rect x="1075" y="668" width="1" height="4" fill="#c0c0c0"/>
<rect x="1079" y="668" width="1" height="4" fill="#c0c0c0"/>
<rect x="1083" y="662" width="1" height="10" fill="#c0c0c0"/>
<rect x="1087" y="658" width="1" height="14" fill="#c0c0c0"/>
<rect x="1091" y="654" width="1" height="18" fill="#c0c0c0"/>
<rect x="1095" y="648" width="1" height="24" fill="#c0c0c0"/>
<rect x="1099" y="642" width="1" height="30" fill="#c0c0c0"/>
<rect x="1103" y="636" width="1" height="36" fill="#c0c0c0"/>
<rect x="1107" y="632" width="1" height="40" fill="#c0c0c0"/>
<rect x="1111" y="630" width="1" height="42" fill="#c0c0c0"/>
<rect x="1115" y="628" width="1" height="44" fill="#c0c0c0"/>
<rect x="1119" y="627" width="1" height="45" fill="#c0c0c0"/>
<rect x="1123" y="624" width="1" height="48" fill="#c0c0c0"/>
<rect x="1127" y="622" width="1" height="50" fill="#c0c0c0"/>
<rect x="1131" y="622" width="1" height="50" fill="#c0c0c0"/>
<rect x="1135" y="621" width="1" height="51" fill="#c0c0c0"/>
<rect x="1139" y="622" width="1" height="50" fill="#c0c0c0"/>
<rect x="1143" y="624" width="1" height="48" fill="#c0c0c0"/>
<rect x="1147" y="627" width="1" height="45" fill="#c0c0c0"/>
<rect x="1151" y="630" width="1" height="42" fill="#c0c0c0"/>
<rect x="1155" y="634" width="1" height="38" fill="#c0c0c0"/>
<rect x="1159" y="636" width="1" height="36" fill="#c0c0c0"/>
<rect x="1163" y="637" width="1" height="35" fill="#c0c0c0"/>
<rect x="1167" y="638" width="1" height="34" fill="#c0c0c0"/>
<rect x="1171" y="640" width="1" height="32" fill="#c0c0c0"/>
<rect x="1175" y="642" width="1" height="30" fill="#c0c0c0"/>
<rect x="1179" y="645" width="1" height="27" fill="#c0c0c0"/>
<rect x="1183" y="647" width="1" height="25" fill="#c0c0c0"/>
<rect x="1187" y="649" width="1" height="23" fill="#c0c0c0"/>
<rect x="1191" y="651" width="1" height="21" fill="#c0c0c0"/>
<rect x="1195" y="655" width="1" height="17" fill="#c0c0c0"/>
<rect x="1199" y="658" width="1" height="14" fill="#c0c0c0"/>
<rect x="1203" y="658" width="1" height="14" fill="#c0c0c0"/>
<rect x="1207" y="659" width="1" height="13" fill="#c0c0c0"/>
<rect x="1211" y="659" width="1" height="13" fill="#c0c0c0"/>
<rect x="1215" y="660" width="1" height="12" fill="#c0c0c0"/>
<rect x="1219" y="662" width="1" height="10" fill="#c0c0c0"/>
<rect x="1223" y="662" width="1" height="10" fill="#c0c0c0"/>
<rect x="1227" y="663" width="1" height="9" fill="#c0c0c0"/>
<rect x="1231" y="665" width="1" height="7" fill="#c0c0c0"/>
<rect x="1235" y="666" width="1" height="6" fill="#c0c0c0"/>
<rect x="1239" y="667" width="1" height="5" fill="#c0c0c0"/>
<rect x="1243" y="670" width="1" height="2" fill="#c0c0c0"/>
<rect x="1247" y="670" width="1" height="2" fill="#c0c0c0"/>
<rect x="1251" y="670" width="1" height="2" fill="#c0c0c0"/>
<rect x="1255" y="669" width="1" height="3" fill="#c0c0c0"/>
<rect x="1259" y="669" width="1" height="3" fill="#c0c0c0"/>
<rect x="1263" y="669" width="1" height="3" fill="#c0c0c0"/>
<rect x="1267" y="668" width="1" height="4" fill="#c0c0c0"/>
<rect x="1271" y="668" width="1" height="4" fill="#c0c0c0"/>
<rect x="1275" y="668" width="1" height="4" fill="#c0c0c0"/>
<rect x="1279" y="667" width="1" height="5" fill="#c0c0c0"/>
<rect x="1612" y="672" width="2" height="1" fill="#000"/>
</g>
<path shape-rendering="crispEdges" fill="#ff0000" d="M69 683h3v1h-3zM135 683h2v1h-2zM268 683h2v1h-2zM297 683h3v1h-3zM484 683h2v1h-2zM579 683h2v1h-2zM609 683h3v1h-3zM387 672h2v1h-2zM502 672h2v1h-2zM531 672h2v1h-2zM837 672h3v1h-3zM843 672h3v1h-3zM849 672h3v1h-3zM855 672h2v1h-2zM1030 672h2v1h-2zM39 681h3v1h-3zM45 681h3v1h-3zM51 681h3v1h-3zM57 681h3v1h-3zM63 681h2v1h-2zM141 681h3v1h-3zM261 681h3v1h-3zM567 681h2v1h-2zM615 681h2v1h-2zM657 681h3v1h-3zM675 681h3v1h-3zM681 681h3v1h-3zM723 681h3v1h-3zM969 681h3v1h-3zM975 681h3v1h-3zM981 681h3v1h-3zM987 681h3v1h-3zM993 681h3v1h-3zM999 681h2v1h-2zM430 694h2v1h-2zM466 694h2v1h-2zM153 679h3v1h-3zM183 679h3v1h-3zM213 679h3v1h-3zM219 679h3v1h-3zM249 679h3v1h-3zM255 679h2v1h-2zM555 679h2v1h-2zM621 679h3v1h-3zM735 679h2v1h-2zM1005 679h3v1h-3zM1011 679h2v1h-2zM537 674h3v1h-3zM753 674h3v1h-3zM171 677h2v1h-2zM237 677h3v1h-3zM243 677h2v1h-2zM400 677h2v1h-2zM741 677h3v1h-3zM21 686h3v1h-3zM81 686h3v1h-3zM123 686h2v1h-2zM279 686h3v1h-3zM285 686h3v1h-3zM597 686h3v1h-3zM147 680h2v1h-2zM189 680h3v1h-3zM195 680h3v1h-3zM201 680h3v1h-3zM207 680h3v1h-3zM309 680h3v1h-3zM406 680h2v1h-2zM489 680h2v1h-2zM561 680h3v1h-3zM645 680h3v1h-3zM651 680h2v1h-2zM729 680h3v1h-3zM957 680h3v1h-3zM963 680h2v1h-2zM357 669h3v1h-3zM363 669h3v1h-3zM369 669h3v1h-3zM375 669h2v1h-2zM513 669h3v1h-3zM519 669h2v1h-2zM783 669h3v1h-3zM813 669h3v1h-3zM867 669h2v1h-2zM915 669h2v1h-2zM1041 669h3v1h-3zM1268 669h3v1h-3zM1274 669h3v1h-3zM873 667h3v1h-3zM910 667h2v1h-2zM1053 667h3v1h-3zM1059 667h3v1h-3zM1065 667h3v1h-3zM1071 667h2v1h-2zM1083 667h2v1h-2zM33 682h3v1h-3zM303 682h2v1h-2zM573 682h3v1h-3zM663 682h3v1h-3zM669 682h3v1h-3zM687 682h3v1h-3zM693 682h3v1h-3zM699 682h3v1h-3zM705 682h3v1h-3zM711 682h3v1h-3zM717 682h3v1h-3zM789 668h3v1h-3zM795 668h3v1h-3zM801 668h3v1h-3zM807 668h3v1h-3zM1047 668h3v1h-3zM1077 668h3v1h-3zM1257 668h2v1h-2zM1262 668h3v1h-3zM321 676h3v1h-3zM543 676h2v1h-2zM747 676h2v1h-2zM939 676h2v1h-2zM1018 676h2v1h-2zM345 671h3v1h-3zM381 671h3v1h-3zM507 671h2v1h-2zM525 671h3v1h-3zM765 671h3v1h-3zM771 671h2v1h-2zM825 671h3v1h-3zM831 671h2v1h-2zM921 671h3v1h-3zM1035 671h2v1h-2zM885 663h3v1h-3zM891 663h3v1h-3zM897 663h3v1h-3zM1238 663h3v1h-3zM159 678h3v1h-3zM165 678h3v1h-3zM177 678h3v1h-3zM225 678h3v1h-3zM231 678h2v1h-2zM316 678h2v1h-2zM549 678h3v1h-3zM627 678h3v1h-3zM633 678h3v1h-3zM639 678h2v1h-2zM945 678h3v1h-3zM951 678h2v1h-2zM351 670h3v1h-3zM777 670h3v1h-3zM819 670h3v1h-3zM861 670h3v1h-3zM27 684h2v1h-2zM75 684h2v1h-2zM129 684h3v1h-3zM412 684h2v1h-2zM585 684h3v1h-3zM1226 660h3v1h-3zM1196 646h2v1h-2zM1190 643h2v1h-2zM15 688h2v1h-2zM333 673h3v1h-3zM339 673h2v1h-2zM759 673h2v1h-2zM927 673h2v1h-2zM1136 626h2v1h-2zM1184 640h2v1h-2zM9 689h3v1h-3zM93 689h3v1h-3zM99 689h2v1h-2zM105 689h3v1h-3zM111 689h2v1h-2zM327 675h2v1h-2zM394 675h2v1h-2zM496 675h2v1h-2zM933 675h3v1h-3zM1023 675h2v1h-2zM1250 666h3v1h-3zM1161 628h2v1h-2zM1142 624h3v1h-3zM1148 624h3v1h-3zM1233 662h2v1h-2zM1154 625h2v1h-2zM87 687h2v1h-2zM117 687h3v1h-3zM418 687h2v1h-2zM478 687h2v1h-2zM441 698h3v1h-3zM447 698h3v1h-3zM453 698h3v1h-3zM1166 630h2v1h-2zM1221 658h2v1h-2zM435 696h2v1h-2zM1125 633h2v1h-2zM1172 633h2v1h-2zM3 691h2v1h-2zM903 664h2v1h-2zM1214 655h2v1h-2zM273 685h3v1h-3zM291 685h2v1h-2zM591 685h3v1h-3zM603 685h2v1h-2zM1209 653h2v1h-2zM879 665h2v1h-2zM1089 665h3v1h-3zM1245 665h2v1h-2zM459 697h2v1h-2zM315 679h1v1h-1zM491 679h1v1h-1zM965 681h1v1h-1zM953 679h1v1h-1zM1025 674h1v1h-1zM483 684h1v1h-1zM545 677h1v1h-1zM1160 627h1v1h-1zM495 676h1v1h-1zM393 674h1v1h-1zM417 686h1v1h-1zM917 670h1v1h-1zM1114 644h1v1h-1zM909 666h1v1h-1zM149 679h1v1h-1zM569 682h1v1h-1zM581 684h1v1h-1zM1113 645h1v2h-1zM1017 677h1v1h-1zM29 683h1v1h-1zM377 670h1v1h-1zM1109 650h1v1h-1zM1186 641h1v1h-1zM267 682h1v1h-1zM641 679h1v1h-1zM533 673h1v1h-1zM113 688h1v1h-1zM137 682h1v1h-1zM1001 680h1v1h-1zM461 696h1v1h-1zM941 677h1v1h-1zM1204 651h1v1h-1zM1168 631h1v1h-1zM1073 668h1v1h-1zM1232 661h1v1h-1zM293 684h1v1h-1zM857 671h1v1h-1zM477 688h1v1h-1zM1124 634h1v1h-1zM1198 647h1v1h-1zM501 673h1v1h-1zM1029 673h1v1h-1zM125 685h1v1h-1zM341 672h1v1h-1zM65 682h1v1h-1zM605 684h1v1h-1zM101 690h1v1h-1zM473 690h1v1h-1zM1120 638h1v1h-1zM557 680h1v1h-1zM423 689h1v1h-1zM1202 649h1v1h-1zM1244 664h1v1h-1zM424 690h1v1h-1zM233 677h1v1h-1zM509 670h1v1h-1zM1037 670h1v1h-1zM833 672h1v1h-1zM257 680h1v1h-1zM411 683h1v1h-1zM869 668h1v1h-1zM1107 652h1v1h-1zM1208 652h1v1h-1zM77 685h1v1h-1zM1220 657h1v1h-1zM1203 650h1v1h-1zM405 679h1v1h-1zM5 690h1v1h-1zM1179 637h1v1h-1zM1013 678h1v1h-1zM905 665h1v1h-1zM465 695h1v1h-1zM1097 661h1v1h-1zM1132 628h1v1h-1zM437 697h1v1h-1zM1103 656h1v1h-1zM429 693h1v1h-1zM1138 625h1v1h-1zM1095 663h1v1h-1zM89 688h1v1h-1zM1096 662h1v1h-1zM1130 630h1v1h-1zM1101 658h1v1h-1zM1119 639h1v1h-1zM173 678h1v1h-1zM17 687h1v1h-1zM471 692h1v1h-1zM773 670h1v1h-1zM1192 644h1v1h-1zM1118 640h1v1h-1zM1178 636h1v1h-1zM305 681h1v1h-1zM749 675h1v1h-1zM425 691h1v1h-1zM1216 656h1v1h-1zM245 678h1v1h-1zM329 674h1v1h-1zM1156 626h1v1h-1zM521 670h1v1h-1zM1256 667h1v1h-1zM389 673h1v1h-1zM617 680h1v1h-1zM1085 666h1v1h-1zM1180 638h1v1h-1zM737 678h1v1h-1zM761 672h1v1h-1zM929 674h1v1h-1zM1174 634h1v1h-1zM1131 629h1v1h-1zM1102 657h1v1h-1zM399 676h1v1h-1zM653 681h1v1h-1zM472 691h1v1h-1zM881 664h1v1h-1zM1108 651h1v1h-1z"/>
<text x="7" y="629" font-size="10.0" fill="#000" textLength="148" lengthAdjust="spacingAndGlyphs" stroke="#000" stroke-width="0.15" >MACD(12,26,9) 0.000658 0.000404</text>
<text x="1615" y="627" font-size="10.0" fill="#000" textLength="33" lengthAdjust="spacingAndGlyphs" stroke="#000" stroke-width="0.15" >0.00647</text>
<text x="1615" y="676" font-size="10.0" fill="#000" textLength="18.5" lengthAdjust="spacingAndGlyphs" stroke="#000" stroke-width="0.15" >0.00</text>
<text x="1615" y="704" font-size="10.0" fill="#000" textLength="42" lengthAdjust="spacingAndGlyphs" stroke="#000" stroke-width="0.15" >-0.003916</text>
<g shape-rendering="crispEdges">
<rect x="3" y="707" width="1" height="3" fill="#000"/>
<rect x="67" y="707" width="1" height="3" fill="#000"/>
<rect x="131" y="707" width="1" height="3" fill="#000"/>
<rect x="195" y="707" width="1" height="3" fill="#000"/>
<rect x="259" y="707" width="1" height="3" fill="#000"/>
<rect x="323" y="707" width="1" height="3" fill="#000"/>
<rect x="387" y="707" width="1" height="3" fill="#000"/>
<rect x="451" y="707" width="1" height="3" fill="#000"/>
<rect x="515" y="707" width="1" height="3" fill="#000"/>
<rect x="579" y="707" width="1" height="3" fill="#000"/>
<rect x="643" y="707" width="1" height="3" fill="#000"/>
<rect x="707" y="707" width="1" height="3" fill="#000"/>
<rect x="771" y="707" width="1" height="3" fill="#000"/>
<rect x="835" y="707" width="1" height="3" fill="#000"/>
<rect x="899" y="707" width="1" height="3" fill="#000"/>
<rect x="963" y="707" width="1" height="3" fill="#000"/>
<rect x="1027" y="707" width="1" height="3" fill="#000"/>
<rect x="1091" y="707" width="1" height="3" fill="#000"/>
<rect x="1155" y="707" width="1" height="3" fill="#000"/>
<rect x="1219" y="707" width="1" height="3" fill="#000"/>
</g>
<text x="3" y="719" font-size="10.0" fill="#000" textLength="49.8" lengthAdjust="spacingAndGlyphs" stroke="#000" stroke-width="0.15" >15 Apr 2021</text>
<text x="67" y="719" font-size="10.0" fill="#000" textLength="52.5" lengthAdjust="spacingAndGlyphs" stroke="#000" stroke-width="0.15" >19 Apr 19:00</text>
<text x="131" y="719" font-size="10.0" fill="#000" textLength="52.5" lengthAdjust="spacingAndGlyphs" stroke="#000" stroke-width="0.15" >22 Apr 10:00</text>
<text x="195" y="719" font-size="10.0" fill="#000" textLength="52.5" lengthAdjust="spacingAndGlyphs" stroke="#000" stroke-width="0.15" >27 Apr 00:00</text>
<text x="259" y="719" font-size="10.0" fill="#000" textLength="52.5" lengthAdjust="spacingAndGlyphs" stroke="#000" stroke-width="0.15" >29 Apr 18:00</text>
<text x="323" y="719" font-size="10.0" fill="#000" textLength="52.8" lengthAdjust="spacingAndGlyphs" stroke="#000" stroke-width="0.15" >4 May 10:00</text>
<text x="387" y="719" font-size="10.0" fill="#000" textLength="52.8" lengthAdjust="spacingAndGlyphs" stroke="#000" stroke-width="0.15" >7 May 00:00</text>
<text x="451" y="719" font-size="10.0" fill="#000" textLength="58.2" lengthAdjust="spacingAndGlyphs" stroke="#000" stroke-width="0.15" >11 May 18:00</text>
<text x="515" y="719" font-size="10.0" fill="#000" textLength="58.2" lengthAdjust="spacingAndGlyphs" stroke="#000" stroke-width="0.15" >14 May 10:00</text>
<text x="579" y="719" font-size="10.0" fill="#000" textLength="58.2" lengthAdjust="spacingAndGlyphs" stroke="#000" stroke-width="0.15" >19 May 00:00</text>
<text x="643" y="719" font-size="10.0" fill="#000" textLength="58.2" lengthAdjust="spacingAndGlyphs" stroke="#000" stroke-width="0.15" >21 May 18:00</text>
<text x="707" y="719" font-size="10.0" fill="#000" textLength="58.2" lengthAdjust="spacingAndGlyphs" stroke="#000" stroke-width="0.15" >26 May 10:00</text>
<text x="771" y="719" font-size="10.0" fill="#000" textLength="58.2" lengthAdjust="spacingAndGlyphs" stroke="#000" stroke-width="0.15" >29 May 00:00</text>
<text x="835" y="719" font-size="10.0" fill="#000" textLength="47.6" lengthAdjust="spacingAndGlyphs" stroke="#000" stroke-width="0.15" >2 Jun 18:00</text>
<text x="899" y="719" font-size="10.0" fill="#000" textLength="47.6" lengthAdjust="spacingAndGlyphs" stroke="#000" stroke-width="0.15" >7 Jun 11:00</text>
<text x="963" y="719" font-size="10.0" fill="#000" textLength="52.5" lengthAdjust="spacingAndGlyphs" stroke="#000" stroke-width="0.15" >10 Jun 00:00</text>
<text x="1027" y="719" font-size="10.0" fill="#000" textLength="52.5" lengthAdjust="spacingAndGlyphs" stroke="#000" stroke-width="0.15" >14 Jun 19:00</text>
<text x="1091" y="719" font-size="10.0" fill="#000" textLength="52.5" lengthAdjust="spacingAndGlyphs" stroke="#000" stroke-width="0.15" >17 Jun 10:00</text>
<text x="1155" y="719" font-size="10.0" fill="#000" textLength="52.5" lengthAdjust="spacingAndGlyphs" stroke="#000" stroke-width="0.15" >22 Jun 00:00</text>
<text x="1219" y="719" font-size="10.0" fill="#000" textLength="52.5" lengthAdjust="spacingAndGlyphs" stroke="#000" stroke-width="0.15" >24 Jun 18:00</text>
<g id="tabs" shape-rendering="crispEdges">
<rect x="0" y="727" width="1656" height="24" fill="#f0f0f0"/>
<rect x="0" y="727" width="1656" height="1" fill="#e3e3e3"/>
<rect x="0" y="728" width="1656" height="1" fill="#f0f0f0"/>
<rect x="0" y="729" width="1656" height="1" fill="#000"/>
<rect x="5" y="728" width="86" height="19" fill="#fff"/>
<rect x="4" y="729" width="1" height="19" fill="#000"/>
<rect x="91" y="729" width="1" height="19" fill="#000"/>
<rect x="4" y="747" width="88" height="1" fill="#000"/>
<rect x="5" y="748" width="88" height="1" fill="#a0a0a0"/>
<rect x="0" y="750" width="1656" height="1" fill="#f8f8f8"/>
</g>
<text x="14.3" y="744" font-size="12" fill="#000" textLength="66.4" lengthAdjust="spacingAndGlyphs">USDCHF,H4</text>
<text x="102.3" y="744" font-size="12" fill="#707070" textLength="82.4" lengthAdjust="spacingAndGlyphs">USDCNH,Daily</text>
<text x="208.5" y="744" font-size="12" fill="#707070" textLength="67.4" lengthAdjust="spacingAndGlyphs">EURUSD,H4</text>
<text x="299" y="744" font-size="12" fill="#707070" textLength="70.0" lengthAdjust="spacingAndGlyphs">AUDUSD,H4</text>
<text x="391.7" y="744" font-size="12" fill="#707070" textLength="67.9" lengthAdjust="spacingAndGlyphs">USDCAD,H4</text>
<text x="483.2" y="744" font-size="12" fill="#707070" textLength="67.9" lengthAdjust="spacingAndGlyphs">XAUUSD,H1</text>
<text x="574.7" y="744" font-size="12" fill="#707070" textLength="49.8" lengthAdjust="spacingAndGlyphs">USOil,H1</text>
<g shape-rendering="crispEdges">
<rect x="196" y="732" width="1" height="14" fill="#707070"/>
<rect x="288" y="732" width="1" height="14" fill="#707070"/>
<rect x="380" y="732" width="1" height="14" fill="#707070"/>
<rect x="472" y="732" width="1" height="14" fill="#707070"/>
<rect x="564" y="732" width="1" height="14" fill="#707070"/>
<rect x="636" y="732" width="1" height="14" fill="#707070"/>
</g>
<path d="M1630.3 735 L1630.3 741 L1626.6 738 Z" fill="#a0a0a0"/><path d="M1645.8 735 L1645.8 741 L1649.5 738 Z" fill="#a0a0a0"/>
</svg></body></html>
